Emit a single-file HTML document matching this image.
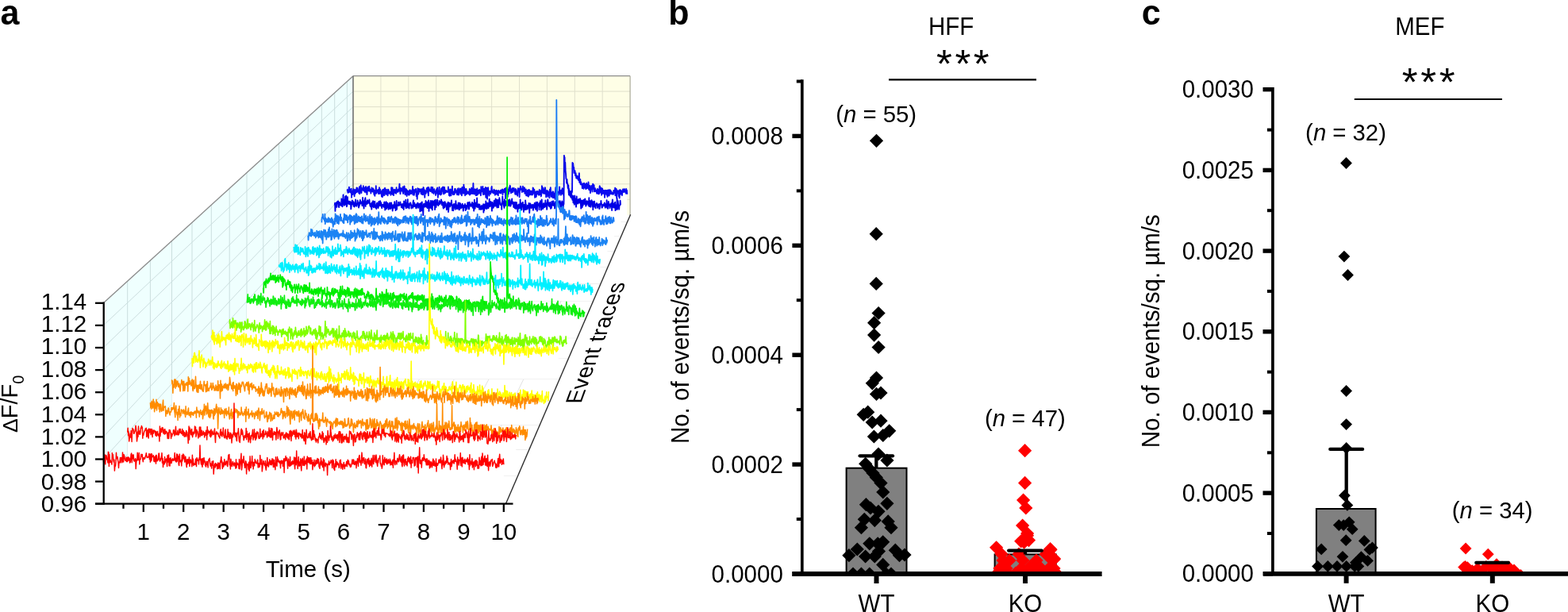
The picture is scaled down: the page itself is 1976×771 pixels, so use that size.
<!DOCTYPE html>
<html><head><meta charset="utf-8"><title>Figure</title>
<style>html,body{margin:0;padding:0;background:#fff;width:1976px;height:771px;overflow:hidden}svg{display:block}</style>
</head><body><svg width="1976" height="771" viewBox="0 0 1976 771" font-family="&quot;Liberation Sans&quot;, Arial, Helvetica, sans-serif"><g id="panel-a"><polygon points="130.3,634.7 130.3,381.8 445.0,95.7 445.0,270.7" fill="#effffe"/><polygon points="445.0,270.7 445.0,95.7 794.1,95.7 794.1,270.7" fill="#fefee6"/><line x1="160.7" y1="599.5" x2="160.7" y2="354.1" stroke="#cbdede" stroke-width="1"/><line x1="189.4" y1="566.3" x2="189.4" y2="328.1" stroke="#cbdede" stroke-width="1"/><line x1="216.5" y1="535.0" x2="216.5" y2="303.5" stroke="#cbdede" stroke-width="1"/><line x1="242.0" y1="505.5" x2="242.0" y2="280.2" stroke="#cbdede" stroke-width="1"/><line x1="266.3" y1="477.4" x2="266.3" y2="258.2" stroke="#cbdede" stroke-width="1"/><line x1="289.2" y1="450.9" x2="289.2" y2="237.3" stroke="#cbdede" stroke-width="1"/><line x1="311.0" y1="425.7" x2="311.0" y2="217.5" stroke="#cbdede" stroke-width="1"/><line x1="331.8" y1="401.7" x2="331.8" y2="198.7" stroke="#cbdede" stroke-width="1"/><line x1="351.5" y1="378.9" x2="351.5" y2="180.7" stroke="#cbdede" stroke-width="1"/><line x1="370.3" y1="357.1" x2="370.3" y2="163.6" stroke="#cbdede" stroke-width="1"/><line x1="388.2" y1="336.4" x2="388.2" y2="147.3" stroke="#cbdede" stroke-width="1"/><line x1="405.4" y1="316.6" x2="405.4" y2="131.7" stroke="#cbdede" stroke-width="1"/><line x1="421.7" y1="297.6" x2="421.7" y2="116.9" stroke="#cbdede" stroke-width="1"/><line x1="437.4" y1="279.5" x2="437.4" y2="102.6" stroke="#cbdede" stroke-width="1"/><line x1="130.3" y1="606.6" x2="445.0" y2="251.3" stroke="#cbdede" stroke-width="1"/><line x1="130.3" y1="578.5" x2="445.0" y2="231.8" stroke="#cbdede" stroke-width="1"/><line x1="130.3" y1="550.4" x2="445.0" y2="212.4" stroke="#cbdede" stroke-width="1"/><line x1="130.3" y1="522.3" x2="445.0" y2="192.9" stroke="#cbdede" stroke-width="1"/><line x1="130.3" y1="494.2" x2="445.0" y2="173.5" stroke="#cbdede" stroke-width="1"/><line x1="130.3" y1="466.1" x2="445.0" y2="154.0" stroke="#cbdede" stroke-width="1"/><line x1="130.3" y1="438.0" x2="445.0" y2="134.6" stroke="#cbdede" stroke-width="1"/><line x1="130.3" y1="409.9" x2="445.0" y2="115.1" stroke="#cbdede" stroke-width="1"/><line x1="479.9" y1="270.7" x2="479.9" y2="95.7" stroke="#e0e0cc" stroke-width="1"/><line x1="514.8" y1="270.7" x2="514.8" y2="95.7" stroke="#e0e0cc" stroke-width="1"/><line x1="549.7" y1="270.7" x2="549.7" y2="95.7" stroke="#e0e0cc" stroke-width="1"/><line x1="584.7" y1="270.7" x2="584.7" y2="95.7" stroke="#e0e0cc" stroke-width="1"/><line x1="619.6" y1="270.7" x2="619.6" y2="95.7" stroke="#e0e0cc" stroke-width="1"/><line x1="654.5" y1="270.7" x2="654.5" y2="95.7" stroke="#e0e0cc" stroke-width="1"/><line x1="689.4" y1="270.7" x2="689.4" y2="95.7" stroke="#e0e0cc" stroke-width="1"/><line x1="724.3" y1="270.7" x2="724.3" y2="95.7" stroke="#e0e0cc" stroke-width="1"/><line x1="759.2" y1="270.7" x2="759.2" y2="95.7" stroke="#e0e0cc" stroke-width="1"/><line x1="445.0" y1="251.3" x2="794.1" y2="251.3" stroke="#e0e0cc" stroke-width="1"/><line x1="445.0" y1="231.8" x2="794.1" y2="231.8" stroke="#e0e0cc" stroke-width="1"/><line x1="445.0" y1="212.4" x2="794.1" y2="212.4" stroke="#e0e0cc" stroke-width="1"/><line x1="445.0" y1="192.9" x2="794.1" y2="192.9" stroke="#e0e0cc" stroke-width="1"/><line x1="445.0" y1="173.5" x2="794.1" y2="173.5" stroke="#e0e0cc" stroke-width="1"/><line x1="445.0" y1="154.0" x2="794.1" y2="154.0" stroke="#e0e0cc" stroke-width="1"/><line x1="445.0" y1="134.6" x2="794.1" y2="134.6" stroke="#e0e0cc" stroke-width="1"/><line x1="445.0" y1="115.1" x2="794.1" y2="115.1" stroke="#e0e0cc" stroke-width="1"/><line x1="160.7" y1="599.5" x2="650.2" y2="599.5" stroke="#e2e2e2" stroke-width="1"/><line x1="189.4" y1="566.3" x2="664.7" y2="566.3" stroke="#e2e2e2" stroke-width="1"/><line x1="216.5" y1="535.0" x2="678.4" y2="535.0" stroke="#e2e2e2" stroke-width="1"/><line x1="242.0" y1="505.5" x2="691.4" y2="505.5" stroke="#e2e2e2" stroke-width="1"/><line x1="266.3" y1="477.4" x2="703.6" y2="477.4" stroke="#e2e2e2" stroke-width="1"/><line x1="289.2" y1="450.9" x2="715.2" y2="450.9" stroke="#e2e2e2" stroke-width="1"/><line x1="311.0" y1="425.7" x2="726.3" y2="425.7" stroke="#e2e2e2" stroke-width="1"/><line x1="331.8" y1="401.7" x2="736.8" y2="401.7" stroke="#e2e2e2" stroke-width="1"/><line x1="351.5" y1="378.9" x2="746.8" y2="378.9" stroke="#e2e2e2" stroke-width="1"/><line x1="370.3" y1="357.1" x2="756.3" y2="357.1" stroke="#e2e2e2" stroke-width="1"/><line x1="388.2" y1="336.4" x2="765.4" y2="336.4" stroke="#e2e2e2" stroke-width="1"/><line x1="405.4" y1="316.6" x2="774.0" y2="316.6" stroke="#e2e2e2" stroke-width="1"/><line x1="421.7" y1="297.6" x2="782.3" y2="297.6" stroke="#e2e2e2" stroke-width="1"/><line x1="437.4" y1="279.5" x2="790.3" y2="279.5" stroke="#e2e2e2" stroke-width="1"/><line x1="180.8" y1="634.7" x2="479.9" y2="270.7" stroke="#e2e2e2" stroke-width="1"/><line x1="231.2" y1="634.7" x2="514.8" y2="270.7" stroke="#e2e2e2" stroke-width="1"/><line x1="281.7" y1="634.7" x2="549.7" y2="270.7" stroke="#e2e2e2" stroke-width="1"/><line x1="332.1" y1="634.7" x2="584.7" y2="270.7" stroke="#e2e2e2" stroke-width="1"/><line x1="382.5" y1="634.7" x2="619.6" y2="270.7" stroke="#e2e2e2" stroke-width="1"/><line x1="433.0" y1="634.7" x2="654.5" y2="270.7" stroke="#e2e2e2" stroke-width="1"/><line x1="483.5" y1="634.7" x2="689.4" y2="270.7" stroke="#e2e2e2" stroke-width="1"/><line x1="533.9" y1="634.7" x2="724.3" y2="270.7" stroke="#e2e2e2" stroke-width="1"/><line x1="584.4" y1="634.7" x2="759.2" y2="270.7" stroke="#e2e2e2" stroke-width="1"/><line x1="130.3" y1="381.8" x2="445.0" y2="95.7" stroke="#8a8a8a" stroke-width="1.3"/><line x1="445.0" y1="95.7" x2="794.1" y2="95.7" stroke="#8c8c8c" stroke-width="1.2"/><line x1="445.0" y1="270.7" x2="445.0" y2="95.7" stroke="#707070" stroke-width="1.6"/><line x1="794.1" y1="270.7" x2="794.1" y2="95.7" stroke="#b0b0a0" stroke-width="1.3"/><path d="M437.4 240.0l.4 -1 .3 1.9 .4 1.9 .3 -1.6 .4 1.3 .3 -3.1 .4 -3.8 .4 5.6 .3 .6 .4 -3.5 .3 .4 .4 .9 .3 3 .4 -2.7 .3 -2.3 .4 11.2 .3 -7.7 .4 4.3 .3 -1.8 .4 1.5 .3 -5.2 .4 3.2 .3 -4.8 .4 .3 .4 1.3 .3 7.3 .4 -6.2 .3 -1.5 .4 -.5 .3 4.7 .4 -3.2 .3 1.8 .4 -.6 .3 -5.3 .4 5.7 .3 -2.6 .4 -2.7 .3 4.6 .4 -1.3 .4 -.7 .3 .3 .4 3.7 .3 -3.9 .4 -4.3 .3 9 .4 -7.3 .3 2.2 .4 2.2 .3 -7.9 .4 3.8 .3 5.9 .4 -4 .3 -1.7 .4 2.3 .4 -2.7 .3 2.2 .4 -2.3 .3 -2.6 .4 6.1 .3 -2.5 .4 -1.4 .3 1.5 .4 3.9 .3 -1.7 .4 -1.5 .3 -3.1 .4 -.5 .3 7.5 .4 -1.4 .3 -4.2 .4 8.1 .4 -4.4 .3 -1 .4 -4.3 .3 1.6 .4 1.2 .3 2.3 .4 -.6 .3 -5.2 .4 6 .3 -.2 .4 -2 .3 1.6 .4 .4 .3 3.1 .4 -3.4 .4 1.2 .3 -4.9 .4 1.5 .3 2.3 .4 -1.9 .3 3.2 .4 -4.2 .3 3.1 .4 -1.6 .3 5.9 .4 -5 .3 5.9 .4 1.1 .3 -5.2 .4 2 .4 -3.3 .3 -6.1 .4 9.5 .3 -.4 .4 -2.6 .3 -.8 .4 1.7 .3 .2 .4 -2.8 .3 .7 .4 4.5 .3 -2.9 .4 -.5 .3 -4.5 .4 4.1 .3 3.6 .4 -5.6 .4 2.3 .3 .4 .4 2.2 .3 -1.4 .4 5.6 .3 -2.5 .4 -4.8 .3 7.9 .4 -9.1 .3 7.7 .4 -7.9 .3 4.7 .4 -4.8 .3 2 .4 5.3 .4 -8.6 .3 -.6 .4 4.7 .3 .8 .4 -.1 .3 2.7 .4 -6.3 .3 5.2 .4 -1.3 .3 2.2 .4 -.6 .3 2.3 .4 -7.6 .3 4.1 .4 -3.8 .4 2.6 .3 2.2 .4 -1.1 .3 .6 .4 -1.8 .3 1.2 .4 -.4 .3 3.3 .4 -1.9 .3 -7.7 .4 6.7 .3 1.3 .4 -4.4 .3 -3.2 .4 8.6 .3 -3.8 .4 1.2 .4 3.6 .3 -7.2 .4 2.5 .3 -.5 .4 2 .3 -3.9 .4 2.7 .3 -1.1 .4 2.9 .3 .3 .4 -7.7 .3 5.7 .4 -2.2 .3 .9 .4 1.3 .4 .1 .3 -3.3 .4 2.6 .3 -.6 .4 -.7 .3 -3.7 .4 -4.5 .3 7.4 .4 2.8 .3 2.5 .4 -7.1 .3 -.4 .4 3.6 .3 -2.1 .4 -.7 .4 0 .3 -.4 .4 4.3 .3 -6.1 .4 8.4 .3 -6.3 .4 1.1 .3 -1.3 .4 -2.9 .3 1.2 .4 7.8 .3 1.7 .4 -7.3 .3 5.8 .4 -2.9 .3 -2.7 .4 7.6 .4 1.3 .3 -7.3 .4 3.2 .3 -1.1 .4 -.9 .3 2.7 .4 1.9 .3 -4.2 .4 2.4 .3 2 .4 -6.3 .3 1.6 .4 -1.5 .3 4.2 .4 -.7 .4 1.1 .3 -.3 .4 -3.5 .3 3 .4 -3.4 .3 0 .4 -5 .3 10.5 .4 -7 .3 3.1 .4 0 .3 4.4 .4 -3.1 .3 -3.5 .4 2.3 .4 -.8 .3 1.1 .4 -4 .3 2.8 .4 6.4 .3 -4.8 .4 4.1 .3 4.4 .4 -8.1 .3 -5.6 .4 3.8 .3 3.8 .4 -.5 .3 -6.3 .4 2.9 .4 .5 .3 .2 .4 -.6 .3 -2.6 .4 .6 .3 1.2 .4 4 .3 -4.4 .4 3.8 .3 -5.5 .4 7.1 .3 -3.6 .4 -.4 .3 4.1 .4 -9.2 .3 .4 .4 5.9 .4 -3.7 .3 1.4 .4 8.8 .3 -8.9 .4 .9 .3 -.2 .4 3.3 .3 -2.2 .4 -.2 .3 -4.2 .4 2.6 .3 1 .4 -4.6 .3 6.3 .4 -.6 .4 4.3 .3 -10.3 .4 1.8 .3 .2 .4 .7 .3 1.7 .4 -.6 .3 1.3 .4 -.2 .3 -.9 .4 -4.3 .3 3.1 .4 2 .3 1.6 .4 .3 .4 -6.8 .3 3.2 .4 1.3 .3 1.3 .4 2.4 .3 -3.1 .4 -2.8 .3 3.9 .4 -.6 .3 0 .4 -.8 .3 5.3 .4 -4.2 .3 1.7 .4 -5 .3 5.1 .4 -4.2 .4 -3 .3 5.7 .4 6.6 .3 -8.2 .4 1.2 .3 3.1 .4 -4.3 .3 -4.9 .4 6.8 .3 -.3 .4 2.7 .3 -4.2 .4 4.9 .3 -.6 .4 -7.3 .4 6.7 .3 -6.4 .4 -1.4 .3 3.9 .4 -.6 .3 -4.3 .4 6.3 .3 .9 .4 1.8 .3 -4.3 .4 -4.4 .3 1.6 .4 5.9 .3 -.2 .4 -1 .4 -2.1 .3 1.8 .4 -1.2 .3 -.3 .4 1.7 .3 -.4 .4 -.7 .3 .9 .4 -1.9 .3 -4.4 .4 3.6 .3 1.8 .4 5.2 .3 -6.3 .4 7 .3 -2.7 .4 -5.7 .4 .5 .3 2.7 .4 4.8 .3 -4 .4 1.1 .3 -3.9 .4 -5 .3 6 .4 3.1 .3 1.3 .4 -3.2 .3 .5 .4 2.8 .3 -3.9 .4 3.6 .4 -6.9 .3 0 .4 0 .3 4.6 .4 -2.9 .3 1.8 .4 .8 .3 -.3 .4 2.9 .3 .5 .4 -7 .3 2.9 .4 -1.4 .3 -2.5 .4 8.3 .4 -3 .3 -3.1 .4 -.3 .3 2.5 .4 -4.3 .3 2.6 .4 4.5 .3 -1.1 .4 -5.5 .3 .9 .4 7.5 .3 -10 .4 2.3 .3 -2.6 .4 5.5 .3 -.1 .4 2.5 .4 -11.3 .3 8.3 .4 -5 .3 7 .4 -2.6 .3 5.9 .4 -3.9 .3 -4 .4 6.7 .3 -7 .4 2.3 .3 4.1 .4 -1.7 .3 0 .4 -1.3 .4 1.4 .3 .9 .4 -2 .3 2 .4 .9 .3 -3.8 .4 -2.8 .3 7.6 .4 -4.5 .3 2 .4 1.2 .3 -5.5 .4 3.5 .3 -5.5 .4 7 .4 -3.4 .3 2 .4 1.6 .3 -4.3 .4 -8.7 .3 8.4 .4 2.1 .3 3 .4 -3 .3 -.5 .4 -2.7 .3 5.8 .4 -3 .3 4.9 .4 -7.2 .3 5.2 .4 2.1 .4 -5.1 .3 -3.6 .4 8.1 .3 -1.3 .4 -.9 .3 .9 .4 -4.6 .3 3.7 .4 -.4 .3 -4 .4 4.1 .3 -3.6 .4 4.3 .3 .5 .4 2 .4 -11.1 .3 6.7 .4 -1.7 .3 .6 .4 0 .3 .2 .4 -5.9 .3 8.8 .4 1.4 .3 -1.6 .4 1 .3 -7 .4 .3 .3 5.4 .4 1.5 .4 -3.4 .3 -5.4 .4 12.8 .3 -10.2 .4 4.9 .3 -6.7 .4 6.5 .3 7.3 .4 -5.7 .3 -1.7 .4 -7 .3 1.9 .4 3.7 .3 1.4 .4 3.4 .4 -4.5 .3 -1.2 .4 .2 .3 0 .4 3.1 .3 -3.1 .4 -.3 .3 -4.1 .4 -1.7 .3 5.9 .4 1.7 .3 -2.3 .4 1.8 .3 .4 .4 -1.9 .3 3 .4 -4.9 .4 2.2 .3 -1.2 .4 1.3 .3 4.7 .4 -2.1 .3 -2.2 .4 .9 .3 -2.7 .4 .9 .3 4.3 .4 -4.3 .3 4.2 .4 -2.6 .3 -.9 .4 5.1 .4 -6.3 .3 .1 .4 1.1 .3 .4 .4 -.1 .3 1.6 .4 -2.2 .3 .6 .4 -1.8 .3 3.9 .4 -4.2 .3 .6 .4 .7 .3 .8 .4 -3 .4 6.8 .3 -6.2 .4 .7 .3 -.4 .4 -.2 .3 3 .4 -1.3 .3 -3.2 .4 .7 .3 .7 .4 11 .3 -11.7 .4 -2 .3 .6 .4 2.4 .3 5.3 .4 -7.8 .4 7.2 .3 3.7 .4 -9.1 .3 5.9 .4 -.5 .3 -2.2 .4 -5.7 .3 4.9 .4 -2.6 .3 -4.7 .4 .6 .3 5.1 .4 .5 .3 3.3 .4 -1.5 .4 -3.5 .3 .2 .4 .9 .3 -2.5 .4 5.5 .3 -2.2 .4 -2.3 .3 .6 .4 -1.6 .3 1.9 .4 2.2 .3 -2.1 .4 4.4 .3 1.6 .4 -6.9 .4 1.9 .3 -1.1 .4 6.1 .3 -3.8 .4 .7 .3 .8 .4 4.1 .3 -5.8 .4 -3.8 .3 3.3 .4 1.5 .3 -1.9 .4 -2.4 .3 10.7 .4 -7.9 .3 -2 .4 -1.8 .4 -1.9 .3 1.9 .4 2.4 .3 0 .4 -1 .3 4 .4 -1.5 .3 -2.6 .4 -3.1 .3 6.5 .4 -.2 .3 -.9 .4 -3.7 .3 4.6 .4 -4.6 .4 7.4 .3 -2.3 .4 .2 .3 -2.9 .4 -.4 .3 7.8 .4 -1.7 .3 -3.7 .4 3.3 .3 2.5 .4 -7 .3 .9 .4 -.1 .3 7.1 .4 -8.6 .4 3.9 .3 -3.7 .4 6.4 .3 -.1 .4 -3.4 .3 2.8 .4 -4.4 .3 1.1 .4 3.7 .3 -3 .4 1.7 .3 -3.4 .4 4.9 .3 -.4 .4 -8.6 .3 .4 .4 .8 .4 5.8 .3 -.6 .4 -4 .3 5 .4 4.9 .3 -5.8 .4 -1.2 .3 3.7 .4 2.6 .3 -.6 .4 -6.5 .3 4.1 .4 -1.7 .3 -1.5 .4 -.9 .4 3.1 .3 -2.6 .4 4 .3 -1.5 .4 1.8 .3 -6.8 .4 3.7 .3 2.3 .4 -1.4 .3 -.3 .4 -3.1 .3 7.2 .4 -1.9 .3 -2.2 .4 -9 .4 4.8 .3 3.5 .4 -2.6 .3 -3.6 .4 6.9 .3 .4 .4 -4.9 .3 2.1 .4 -.6 .3 3.5 .4 -7.7 .3 .9 .4 3.4 .3 -.5 .4 8.4 .3 -7.9 .4 2.2 .4 -1.9 .3 -.6 .4 3.4 .3 4.2 .4 -6.4 .3 3.3 .4 -1.3 .3 .8 .4 -.8 .3 5.9 .4 -10.4 .3 2.9 .4 -2.6 .3 -2.8 .4 5.9 .4 5.6 .3 -2.7 .4 .8 .3 -2 .4 -1.8 .3 6.4 .4 -7.2 .3 8 .4 -7.6 .3 1.4 .4 .7 .3 5.1 .4 -4.7 .3 0 .4 6.7 .4 -8.7 .3 -5.9 .4 -.5 .3 2.2 .4 2.1 .3 4 .4 -6.6 .3 4.6 .4 -.2 .3 .7 .4 -.9 .3 1.6 .4 -1 .3 3.2 .4 -2 .3 -8.1 .4 7.3 .4 .5 .3 -2.3 .4 -.7 .3 5.6 .4 -2.8 .3 -3.6 .4 2 .3 .3 .4 -4.5 .3 7 .4 -2.1 .3 2.2 .4 -6.4 .3 8 .4 -1.1 .4 -.1 .3 -3.6 .4 .2 .3 -2.5 .4 8.8 .3 -7.4 .4 3.3 .3 1 .4 -3.7 .3 4.5 .4 3.6 .3 -5 .4 3.3 .3 -2.6 .4 -3 .4 .1 .3 -3.9 .4 5.6 .3 4.2 .4 -2.3 .3 .2 .4 .6 .3 -4.9 .4 3.4 .3 4.1 .4 -8 .3 2.1 .4 -1.1 .3 .4 .4 -37.1 .4 2.8 .3 -2.2 .4 3.6 .3 1.2 .4 .7 .3 6.8 .4 -3.2 .3 1 .4 -.5 .3 5.8 .4 -1.2 .3 -1.6 .4 4.5 .3 2 .4 -3.4 .3 .1 .4 2.8 .4 -1.8 .3 3 .4 -2.9 .3 4.4 .4 -1.7 .3 -2.8 .4 -4.2 .3 11.5 .4 -1.1 .3 1.8 .4 -4.4 .3 6.3 .4 -1.8 .3 -1.1 .4 3.2 .4 .3 .3 -1.1 .4 5.3 .3 -1.3 .4 -3.4 .3 -1.2 .4 1.4 .3 5.3 .4 -3.7 .3 -3.4 .4 1 .3 2.1 .4 2.7 .3 -4.4 .4 3.7 .4 2.4 .3 -1.2 .4 -6.4 .3 3.9 .4 -2.6 .3 5 .4 -4 .3 1.7 .4 2.5 .3 -7.8 .4 5.7 .3 3.9 .4 -1.1 .3 -1 .4 -2.9 .3 5.3 .4 3.8 .4 -4.3 .3 -.7 .4 -.3 .3 -3.8 .4 3.4 .3 -1.7 .4 5.8 .3 -5.8 .4 -4 .3 4.2 .4 1.9 .3 0 .4 -4.6 .3 8.2 .4 -2.3 .4 -1.4 .3 -.4 .4 3.9 .3 -2 .4 1.8 .3 -1.1 .4 .7 .3 3.1 .4 -3.3 .3 -2.5 .4 5.6 .3 -2 .4 -2.7 .3 5.5 .4 -3.7 .4 3.7 .3 -6.4 .4 -3.6 .3 .6 .4 7 .3 -2.7 .4 3.6 .3 -1.7 .4 -4.3 .3 8.9 .4 -7.2 .3 3.4 .4 -4.3 .3 3.7 .4 2.7 .3 -2.8 .4 -1.2 .4 2.3 .3 -1.4 .4 3.1 .3 4.8 .4 -9 .3 1 .4 1.7 .3 .4 .4 -3 .3 4.8 .4 .8 .3 -1.5 .4 -4.2 .3 8.1 .4 -7.9 .4 5.2 .3 1.2 .4 -7.1 .3 3.9 .4 3.4 .3 -2.8 .4 -3.8 .3 -.8 .4 4.9 .3 -2.7 .4 -1 .3 4 .4 -3 .3 1.3 .4 1.6 .4 .2 .3 -1.6 .4 .3 .3 1.7 .4 -.5 .3 -4.4 .4 2.8 .3 -2.1 .4 -.9 .3 1.9 .4 -5 .3 9.5 .4 -5.1 .3 3.3 .4 -6.6 .3 .8 .4 10.9 .4 -3 .3 -4.8 .4 -1.5 .3 .6 .4 2.4 .3 -1.9 .4 -.6 .3 7.1 .4 -8.3 .3 10 .4 -9.2 .3 5 .4 -6.2 .3 3.5 .4 1.7 .4 -3.9 .3 4 .4 -.1 .3 1.9 .4 -4.4 .3 -1.6 .4 -1.7 .3 3.6 .4 -3.6 .3 3.1 .4 .2 .3 -2.2 .4 -1.5 .3 3.7 .4 -.5 .4 -.3 .3 -.6 .4 3.4 .3 -5.8 .4 4.4 .3 -2.8 .4 4.2L790.3 279.5 437.4 279.5Z" fill="#fff" stroke="#0a0af0" stroke-width="1.87" stroke-linejoin="round" stroke-dasharray="3393.55 99999"/><path d="M421.7 258.6l.4 -2.8 .4 10.1 .3 -8.5 .4 1.5 .3 -3.3 .4 4.9 .4 .4 .3 -6.4 .4 .8 .4 0 .3 -1.4 .4 -.5 .3 3.4 .4 4 .4 .2 .3 -5.7 .4 -.6 .3 1.8 .4 1.9 .4 -1.6 .3 .2 .4 .9 .3 1.2 .4 -8.8 .4 5.8 .3 2.3 .4 2 .4 -2.2 .3 -4.7 .4 -8.1 .3 10.6 .4 .5 .4 0 .3 2.3 .4 -7.4 .3 2.8 .4 -6.6 .4 9.9 .3 -1.9 .4 -9 .3 9.9 .4 3.8 .4 -1.2 .3 -2.9 .4 -8.1 .3 8.5 .4 -3.1 .4 -.1 .3 2.2 .4 1.1 .4 .7 .3 -2.5 .4 -1.3 .3 2.7 .4 -1.8 .4 2.7 .3 6.2 .4 -3.4 .3 -5.4 .4 1.2 .4 -3.4 .3 5 .4 -2.4 .3 -1.5 .4 1.2 .4 5.1 .3 -1.5 .4 -1.2 .4 3.5 .3 -4.4 .4 -1.9 .3 4.9 .4 -7.7 .4 7.1 .3 -.4 .4 0 .3 1.7 .4 -3.6 .4 1.1 .3 -5 .4 3 .3 .1 .4 2.4 .4 3.7 .3 -4 .4 2.1 .3 -5.4 .4 3.1 .4 -5.5 .3 2.8 .4 -.4 .4 2.1 .3 .1 .4 -1.4 .3 -.9 .4 4.9 .4 -3.7 .3 -6.4 .4 8.4 .3 .7 .4 1.2 .4 3.4 .3 -9.6 .4 3.4 .3 -.6 .4 -4.8 .4 -2 .3 10.8 .4 -6.1 .3 1.5 .4 .7 .4 -.3 .3 1.4 .4 -4.9 .4 2.9 .3 .9 .4 -2.9 .3 1 .4 1.6 .4 .1 .3 -4.3 .4 3.8 .3 2 .4 2.3 .4 -1.6 .3 2.6 .4 -3.8 .3 -.5 .4 7.4 .4 -6.6 .3 -2.1 .4 1.4 .4 3.6 .3 -6.8 .4 6.4 .3 1.8 .4 -.7 .4 -3.3 .3 -3.3 .4 -.3 .3 3.3 .4 4.4 .4 -1.7 .3 .7 .4 -2.2 .3 4.8 .4 -6 .4 -1.5 .3 2.5 .4 -2 .3 4.2 .4 1.7 .4 -2.4 .3 -5.6 .4 .5 .4 4.8 .3 -5.3 .4 4.8 .3 -5.7 .4 3.1 .4 2.9 .3 -3.9 .4 5.3 .3 .4 .4 1.2 .4 -4.5 .3 1 .4 -.1 .3 1.1 .4 -1.8 .4 2.2 .3 .9 .4 -6 .4 -.5 .3 3.5 .4 6.7 .3 -3.5 .4 -3.8 .4 1.8 .3 -5 .4 8.9 .3 -6.1 .4 4.3 .4 -5.6 .3 4.2 .4 -3.4 .3 5.2 .4 2.2 .4 -.7 .3 -1.9 .4 1.4 .3 -6.8 .4 -.4 .4 3.4 .3 4.4 .4 -2.9 .4 1.7 .3 -6.7 .4 3.4 .3 -.6 .4 2.9 .4 4.7 .3 -4 .4 1.1 .3 -4.7 .4 .6 .4 2.9 .3 -1.3 .4 -6.2 .3 7.8 .4 .1 .4 -2.2 .3 5.4 .4 -3.9 .3 -4.5 .4 -3.8 .4 10.8 .3 -5.4 .4 0 .4 .3 .3 -.2 .4 .2 .3 -4.1 .4 4.5 .4 -1.2 .3 -.3 .4 -.3 .3 .9 .4 -3.8 .4 3.3 .3 -.3 .4 .5 .3 3.1 .4 -.7 .4 -3.2 .3 .2 .4 4.8 .4 -.8 .3 -4.2 .4 -.5 .3 7.4 .4 -10.7 .4 4.9 .3 .5 .4 -3.6 .3 2.9 .4 2.2 .4 -8.5 .3 10.4 .4 -3.1 .3 -3.2 .4 6.1 .4 -3.2 .3 -1.4 .4 -6.2 .3 10.2 .4 -2.7 .4 -2.1 .3 1.8 .4 4.3 .4 -4.8 .3 .8 .4 -1.1 .3 -2.2 .4 .4 .4 2.1 .3 .2 .4 4.5 .3 -3.1 .4 -.8 .4 1.8 .3 -1.4 .4 2.9 .3 -7.6 .4 -1.9 .4 7.8 .3 -2.2 .4 2.2 .3 -4.5 .4 2.6 .4 .9 .3 1.1 .4 -1 .4 3.2 .3 -5.1 .4 4.5 .3 -4.3 .4 1.3 .4 -3.1 .3 3.1 .4 -3.1 .3 6.1 .4 -4.7 .4 2.8 .3 -1.4 .4 .6 .3 -2.5 .4 9.7 .4 -8 .3 5.5 .4 -8.2 .4 10 .3 -3.2 .4 2.3 .3 -10.3 .4 10.9 .4 -6.1 .3 1.9 .4 10 .3 -10.9 .4 -3.3 .4 3.2 .3 -3.5 .4 4 .3 -1.1 .4 .9 .4 -2.6 .3 -4.9 .4 5 .3 .3 .4 2.3 .4 .5 .3 -6.8 .4 7.9 .4 -.8 .3 -2.2 .4 .8 .3 -7.5 .4 13.4 .4 -8.7 .3 -1.1 .4 5.8 .3 -1.5 .4 -3.5 .4 -4.1 .3 7.8 .4 1.9 .3 -7.9 .4 -1.5 .4 5.4 .3 6 .4 -11.4 .4 5.1 .3 -4.3 .4 3.7 .3 .9 .4 .2 .4 -6 .3 .1 .4 11.3 .3 -3.5 .4 -8.9 .4 6.3 .3 3.2 .4 -4.5 .3 .6 .4 -.2 .4 -5.7 .3 6.4 .4 .3 .3 -2.5 .4 3.5 .4 -1.5 .3 -.3 .4 -4.3 .4 2.6 .3 1.6 .4 -1.8 .3 .4 .4 -2 .4 1.8 .3 -4.2 .4 1.7 .3 4.3 .4 1 .4 -4.1 .3 .9 .4 2.2 .3 4 .4 1.2 .4 -6.8 .3 -1.1 .4 .3 .3 6.3 .4 -7.1 .4 4.8 .3 -2.8 .4 0 .4 4 .3 -.4 .4 4.5 .3 -4 .4 2.8 .4 -6.9 .3 1.1 .4 -2.7 .3 12.5 .4 -4.5 .4 -5.8 .3 2.1 .4 -3.3 .3 .9 .4 4 .4 -3 .3 0 .4 1.1 .4 -3.8 .3 -2.4 .4 6.6 .3 .2 .4 5.9 .4 -6.7 .3 1 .4 5.9 .3 -7.4 .4 -.9 .4 4.4 .3 -1 .4 1.6 .3 -5.2 .4 7.1 .4 -3.7 .3 -7.1 .4 6 .3 -1.2 .4 2 .4 3.4 .3 -3.7 .4 -1.2 .4 4.3 .3 -4.5 .4 -2.7 .3 .6 .4 8.2 .4 -4.6 .3 4.4 .4 -8.4 .3 1.4 .4 -.4 .4 4.9 .3 .7 .4 -3.8 .3 -.2 .4 3.1 .4 -3.3 .3 -1.4 .4 1.5 .4 4 .3 3.5 .4 -5.4 .3 -1.5 .4 1.6 .4 .3 .3 .6 .4 -4.3 .3 2.2 .4 6 .4 -2.8 .3 -1.1 .4 -2.3 .3 3.7 .4 .7 .4 -3.1 .3 -4.8 .4 3 .3 -3.7 .4 4.9 .4 .6 .3 3.4 .4 -2.8 .4 -6.2 .3 3.6 .4 -1.2 .3 -.2 .4 2.4 .4 .6 .3 -1 .4 -1.6 .3 .3 .4 -2.7 .4 4 .3 2.8 .4 -1.5 .3 2.1 .4 -6.2 .4 9.6 .3 -5.9 .4 -8.1 .3 8.5 .4 2.6 .4 -3.4 .3 -4.1 .4 4.4 .4 -2.5 .3 1.6 .4 1.7 .3 -11 .4 9.4 .4 2.3 .3 0 .4 -2.7 .3 -.2 .4 -1 .4 2 .3 4.5 .4 -6.1 .3 2.7 .4 -.2 .4 3.6 .3 -2.9 .4 .5 .4 -2.1 .3 4.5 .4 -4.6 .3 -.1 .4 3.9 .4 -1.5 .3 .9 .4 -5.3 .3 10.6 .4 -6.5 .4 4.1 .3 -3.9 .4 -4.1 .3 4.8 .4 -2.4 .4 2.8 .3 -9 .4 3 .3 -.9 .4 7.6 .4 -.9 .3 -6.6 .4 3.9 .4 0 .3 -2 .4 4.6 .3 -6.5 .4 2.5 .4 -7.6 .3 9.3 .4 -3.8 .3 3.9 .4 -5.4 .4 -.6 .3 .7 .4 1.1 .3 3.1 .4 6.7 .4 -10.7 .3 3.5 .4 -1 .4 1 .3 3.5 .4 -3 .3 -3.8 .4 -2.5 .4 6.1 .3 .9 .4 -7.3 .3 7.2 .4 -9.2 .4 6.3 .3 2.9 .4 -5.7 .3 -2.2 .4 9.9 .4 -9.4 .3 5.5 .4 -5.6 .3 5.7 .4 3.7 .4 -6.3 .3 -1.5 .4 -4.5 .4 2.2 .3 3.3 .4 2.7 .3 .8 .4 -1 .4 1.5 .3 -1.6 .4 6.8 .3 -8.8 .4 .8 .4 -8.4 .3 5.5 .4 4.1 .3 -3.2 .4 5.6 .4 -1.7 .3 4.2 .4 -10.5 .3 2.7 .4 5.4 .4 -3.3 .3 -3.1 .4 1.3 .4 .3 .3 4.1 .4 -.5 .3 -2.2 .4 -2.5 .4 5.2 .3 .6 .4 -7.2 .3 6.5 .4 -6.2 .4 3 .3 -1.9 .4 -2.3 .3 8.4 .4 -5.4 .4 5.4 .3 -.6 .4 -4 .4 -2.4 .3 .6 .4 -2.9 .3 6.2 .4 .1 .4 -2.3 .3 3.1 .4 .5 .3 3.1 .4 -6.2 .4 6.4 .3 -4.9 .4 5.9 .3 -7.7 .4 6.6 .4 -5.7 .3 7.5 .4 -3.3 .3 -4.8 .4 6.4 .4 -2.6 .3 2 .4 6.1 .4 -8.4 .3 -.3 .4 4.8 .3 -5.6 .4 4.3 .4 .5 .3 -3.2 .4 1.8 .3 -9.2 .4 11.9 .4 -7.1 .3 -.8 .4 9.2 .3 -.6 .4 -7.1 .4 3.1 .3 -2.9 .4 -2.4 .3 4.8 .4 2 .4 5.3 .3 -8.9 .4 3.7 .4 -3.6 .3 .7 .4 5.3 .3 -11.8 .4 4.5 .4 .6 .3 6.4 .4 -2.7 .3 .2 .4 -.4 .4 2.6 .3 -4.9 .4 .7 .3 -.5 .4 2.9 .4 -5.8 .3 3.3 .4 9 .4 -6.7 .3 -1.8 .4 -3.4 .3 4.2 .4 -.7 .4 2.4 .3 -4.1 .4 3.3 .3 .1 .4 -.6 .4 -3.1 .3 3.3 .4 3.8 .3 -6.8 .4 4.3 .4 -3.5 .3 -.4 .4 -2.7 .3 .6 .4 4.9 .4 -.9 .3 3.4 .4 -9.1 .4 3.7 .3 -3.1 .4 5.1 .3 5.4 .4 -11.1 .4 4.5 .3 -.1 .4 .1 .3 -2.1 .4 .5 .4 6.5 .3 -8.4 .4 4.7 .3 -.3 .4 -7 .4 2.4 .3 4.3 .4 4.9 .4 -6.3 .3 -7.1 .4 8.1 .3 3.6 .4 -1.4 .4 1.5 .3 -4.6 .4 -1.8 .3 -.7 .4 5.4 .4 -2.6 .3 -1.4 .4 3.4 .3 -1.2 .4 -7.2 .4 5.6 .3 -2 .4 4.1 .3 -1.6 .4 5.4 .4 -5.5 .3 -3.9 .4 -3.2 .4 2.6 .3 1.5 .4 2.2 .3 2.1 .4 -1.4 .4 -2.4 .3 4.4 .4 -5.5 .3 5.7 .4 2.4 .4 -2.4 .3 2 .4 -.9 .3 -7.7 .4 4.1 .4 -1.3 .3 -2.8 .4 -.4 .3 5.5 .4 -5.5 .4 3.2 .3 .7 .4 -1.1 .4 6.2 .3 -1.7 .4 -2 .3 -4.6 .4 5.4 .4 -.9 .3 -3.6 .4 -1.4 .3 2.2 .4 -1.5 .4 5.2 .3 -.5 .4 -1.8 .3 2.2 .4 .8 .4 -6.9 .3 5.9 .4 2.7 .4 -4.6 .3 -4.2 .4 5.5 .3 -3.6 .4 5 .4 .4 .3 .7 .4 -1.7 .3 -6 .4 9.4 .4 -8.5 .3 8.5 .4 -2.6 .3 -3.3 .4 .3 .4 -61.4 .3 10.6 .4 -8.4 .3 14.1 .4 -7.6 .4 12.1 .3 1.7 .4 6.8 .4 .6 .3 4.8 .4 -4.8 .3 5.7 .4 -.5 .4 5.4 .3 1 .4 -4.1 .3 8.6 .4 3.7 .4 -5.7 .3 6 .4 -1.2 .3 -3.4 .4 6.2 .4 -4.4 .3 5.7 .4 -6.2 .4 1 .3 5.8 .4 -.1 .3 2.5 .4 -2.7 .4 -2.5 .3 8.7 .4 -7 .3 7.5 .4 -.9 .4 2.9 .3 -11.5 .4 6.6 .3 -.3 .4 2.9 .4 -5.2 .3 10.3 .4 -6.5 .3 -6.7 .4 8.3 .4 -1.4 .3 -2.3 .4 4.6 .4 -2.6 .3 -2.8 .4 -.3 .3 2.5 .4 2.3 .4 -2 .3 .8 .4 -4.4 .3 2.5 .4 3.1 .4 7 .3 -10 .4 -.1 .3 5.3 .4 3.4 .4 -2.7 .3 -6.1 .4 6.4 .3 -1.9 .4 -2 .4 -3.2 .3 3.7 .4 .3 .4 1.4 .3 -6.9 .4 1.7 .3 3.5 .4 4.2 .4 -1.6 .3 -4.4 .4 4.1 .3 -4.7 .4 1.5 .4 .2 .3 -.9 .4 .7 .3 4.2 .4 -1.5 .4 -8.1 .3 11 .4 -2.4 .4 -4.8 .3 4 .4 2 .3 1.8 .4 -5.7 .4 -1.6 .3 -1.3 .4 4.3 .3 -3.1 .4 6.6 .4 -4 .3 8.3 .4 -8.1 .3 -1.8 .4 -.7 .4 6.7 .3 -6.8 .4 5.6 .3 1.7 .4 -2.5 .4 4 .3 -4.5 .4 -1 .4 1.6 .3 -2.6 .4 2.6 .3 -1.1 .4 4.4 .4 -4.3 .3 2.7 .4 -1.3 .3 -.8 .4 -.9 .4 5.9 .3 -.2 .4 -4 .3 -2.2 .4 .5 .4 -1.5 .3 -2.7 .4 3.8 .4 1.5 .3 3.4 .4 0 .3 -1.6 .4 -2.1 .4 .2 .3 .6 .4 .6 .3 -2.4 .4 1.1 .4 -2.6 .3 2.1 .4 2.6 .3 1.5 .4 -4.5 .4 .2 .3 1.9 .4 1 .3 -8.2 .4 9.5 .4 -1.6 .3 -1.3 .4 4.2 .4 -4.1 .3 -5 .4 2.2 .3 .8 .4 .3 .4 1.3 .3 3.8 .4 -2.9 .3 1.1 .4 -1.7 .4 -2.6 .3 1.8 .4 -1.4 .3 8.5 .4 -10.1 .4 -3.5 .3 3.3 .4 4.9 .3 1.6 .4 -3.6 .4 4 .3 -5.2 .4 3.9 .4 -4.4 .3 -1.3 .4 10.6 .3 -7 .4 3.1 .4 2.5 .3 -2.3 .4 -1.4 .3 -10.2 .4 13.9 .4 -7.8 .3 -3 .4 4.5 .3 .7 .4 1.7 .4 3.9 .3 -5.2 .4 .3 .4 -.8 .3 -5.4 .4 5.7 .3 .9L782.3 297.6 421.7 297.6Z" fill="#fff" stroke="#0000e6" stroke-width="1.84" stroke-linejoin="round" stroke-dasharray="3748.35 99999"/><path d="M405.4 280.4l.3 -6.4 .4 .6 .4 -1.3 .3 -3.5 .4 5 .4 .2 .3 1.1 .4 -.5 .4 1.4 .4 1.8 .3 -9.2 .4 12.6 .4 -6.6 .3 -.7 .4 .8 .4 3.7 .3 -2.3 .4 .7 .4 2 .3 -3.6 .4 1.3 .4 .5 .3 -3.9 .4 5.7 .4 -4.7 .4 3.5 .3 -3.2 .4 1.4 .4 -.6 .3 3.8 .4 -.8 .4 .4 .3 -3.5 .4 -1.6 .4 6.1 .3 -2.3 .4 -1.9 .4 5.7 .4 3.7 .3 -6 .4 -.6 .4 2.8 .3 .7 .4 -7.3 .4 4.3 .3 2.5 .4 -12.9 .4 6.9 .3 1.5 .4 -3.3 .4 4.7 .4 -7.7 .3 9.8 .4 -.7 .4 -3.7 .3 2.2 .4 -6.8 .4 9.9 .3 -2.9 .4 -3.2 .4 -1.2 .3 -1.5 .4 2.2 .4 -5.7 .3 8.5 .4 -2 .4 -2.5 .4 3.6 .3 .2 .4 .4 .4 .4 .3 1.5 .4 -1.7 .4 2.6 .3 -5.8 .4 6.1 .4 -11.6 .3 .8 .4 1.9 .4 3.8 .4 .9 .3 -6 .4 3.6 .4 -1.2 .3 4 .4 -5.8 .4 5.9 .3 -3 .4 6 .4 -3.3 .3 -3.8 .4 2.8 .4 -.1 .4 -3.9 .3 3 .4 -4.3 .4 11.8 .3 -9.6 .4 -1.6 .4 8.5 .3 -.5 .4 -6.9 .4 6.1 .3 -1.2 .4 -4.1 .4 2.7 .3 -2.5 .4 4.3 .4 -3.8 .4 -2.4 .3 2.3 .4 8.2 .4 -8.9 .3 1.5 .4 3.3 .4 -7.4 .3 10.1 .4 -11.5 .4 8.2 .3 -7 .4 5.5 .4 4.2 .4 -4.5 .3 -.7 .4 -.7 .4 -1.7 .3 6.1 .4 -4.4 .4 -.6 .3 3.4 .4 2.1 .4 .1 .3 -5.3 .4 -.1 .4 5.3 .4 1.4 .3 -8.2 .4 8.6 .4 -5.3 .3 3 .4 3.1 .4 -5.8 .3 1.2 .4 -5.3 .4 -2.5 .3 7.7 .4 -3.8 .4 .1 .3 4.7 .4 1 .4 -7.7 .4 6.5 .3 -1.2 .4 .6 .4 -.5 .3 1.5 .4 -4.4 .4 -1.2 .3 5.2 .4 3.8 .4 -4.3 .3 5 .4 -2.7 .4 -6 .4 -3.2 .3 6 .4 4.6 .4 -5.6 .3 9.3 .4 -5.1 .4 -6.8 .3 2.5 .4 6.7 .4 .8 .3 -8 .4 2.9 .4 1.4 .4 -3.1 .3 3 .4 4.3 .4 -8.8 .3 4.7 .4 1.3 .4 .8 .3 -4.9 .4 3.4 .4 -4.6 .3 2.7 .4 -4.4 .4 4.6 .3 1 .4 4.1 .4 -2.9 .4 -5.6 .3 -7.5 .4 13.9 .4 -.7 .3 -4.2 .4 -.6 .4 3.6 .3 -2.5 .4 5.5 .4 -4.3 .3 -3.8 .4 -2 .4 6 .4 .4 .3 -1.9 .4 -2.3 .4 1.9 .3 4.2 .4 -3.6 .4 -2.1 .3 5.2 .4 1.8 .4 -5.7 .3 .7 .4 .7 .4 .2 .4 2.1 .3 -1 .4 1.9 .4 1.5 .3 -3 .4 -.2 .4 -5 .3 7.6 .4 -3.9 .4 1.9 .3 -6.4 .4 2.5 .4 3.4 .3 -3.7 .4 2.5 .4 1.8 .4 -6 .3 2.6 .4 -3.5 .4 1.8 .3 1 .4 1.9 .4 3.7 .3 -5.5 .4 2 .4 -2 .3 2.2 .4 2.2 .4 .9 .4 -5.4 .3 -1.9 .4 5.2 .4 -2.2 .3 -3.1 .4 7.3 .4 -1.5 .3 2.7 .4 -7.2 .4 3.3 .3 2.5 .4 3.8 .4 -4.8 .4 -3.8 .3 4 .4 .3 .4 -3.5 .3 5.9 .4 -4 .4 -1.6 .3 4.1 .4 0 .4 -3.5 .3 1 .4 .3 .4 -1.4 .3 -.3 .4 3.6 .4 -.9 .4 -4.1 .3 -1.9 .4 -.6 .4 7.1 .3 -6 .4 -1.6 .4 5.2 .3 -1.8 .4 -1 .4 -3 .3 8.8 .4 -5.1 .4 2.5 .4 -.2 .3 -4 .4 .9 .4 5.9 .3 -2.2 .4 -1.8 .4 5 .3 -7 .4 2.9 .4 -.1 .3 -.4 .4 -4.6 .4 5.7 .4 1.3 .3 -6.5 .4 6.7 .4 0 .3 2.7 .4 -7.8 .4 2.4 .3 -.7 .4 -2.3 .4 4 .3 2.1 .4 0 .4 -3.9 .3 1.1 .4 -4.6 .4 7.7 .4 -.8 .3 1.5 .4 -7.8 .4 8.1 .3 -6.3 .4 -2.3 .4 4.9 .3 -2.7 .4 8.9 .4 -5.4 .3 4 .4 -6.3 .4 .6 .4 -1.7 .3 -1.1 .4 1.8 .4 -2.8 .3 5.2 .4 2.7 .4 -4 .3 -7.1 .4 8.9 .4 -3.3 .3 3 .4 -3.9 .4 1.3 .4 2.4 .3 4.8 .4 -4 .4 -5 .3 4.6 .4 -2.6 .4 3.7 .3 12.1 .4 -15.2 .4 .5 .3 2.7 .4 -.8 .4 -1.9 .3 2.4 .4 -3 .4 1.6 .4 6.8 .3 -7 .4 1.4 .4 .8 .3 -4 .4 2.7 .4 -3.3 .3 -1.6 .4 4.9 .4 3.2 .3 -2.6 .4 -5.2 .4 3.6 .4 1.7 .3 -1.9 .4 -1.7 .4 .6 .3 -1.3 .4 4.3 .4 -1.6 .3 .6 .4 -1.4 .4 6.5 .3 -5.6 .4 4.1 .4 -8.8 .4 -.3 .3 -.1 .4 2.5 .4 3.9 .3 -4.1 .4 3.7 .4 -2.7 .3 4.8 .4 -1.1 .4 -3.5 .3 -4.2 .4 5.6 .4 -7.1 .3 -1.2 .4 15.6 .4 -6.4 .4 2.8 .3 -2.3 .4 1.4 .4 -6 .3 1.5 .4 -.1 .4 2.1 .3 1 .4 -.4 .4 -.3 .3 -1.4 .4 1.8 .4 -1.5 .4 5.7 .3 -6.7 .4 -3.3 .4 1.2 .3 8.4 .4 -8.8 .4 5.4 .3 8.4 .4 -8.7 .4 -2.8 .3 .5 .4 -2.5 .4 1.6 .4 1.7 .3 6.5 .4 -3 .4 -3.5 .3 -1.5 .4 5.3 .4 -.9 .3 -3.3 .4 7.7 .4 .3 .3 -5.4 .4 -1.4 .4 2.2 .3 6.2 .4 -7.5 .4 4.1 .4 -6.6 .3 2.3 .4 -1.3 .4 -1.3 .3 3.8 .4 -4.2 .4 -1.6 .3 2.7 .4 -3 .4 5.6 .3 -4.8 .4 2.1 .4 3.8 .4 -2.7 .3 1.3 .4 .2 .4 -2 .3 -3.1 .4 -1.4 .4 4.2 .3 4.8 .4 -4.9 .4 -3.4 .3 1 .4 1.3 .4 3.4 .4 .8 .3 -2.8 .4 4.1 .4 -.6 .3 -7.2 .4 5.9 .4 -8.4 .3 10 .4 -5.9 .4 4.9 .3 -2.6 .4 2.3 .4 -3.1 .3 .3 .4 1 .4 -3.1 .4 -2.9 .3 6.8 .4 -3.3 .4 1.3 .3 .4 .4 -6.6 .4 13.9 .3 -4.5 .4 3.5 .4 -4.4 .3 -.2 .4 -12.4 .4 10.6 .4 -4.6 .3 1.5 .4 5.5 .4 -3.1 .3 -3.8 .4 4.8 .4 0 .3 -1.2 .4 6.6 .4 -2.2 .3 -3.7 .4 -.5 .4 4.4 .4 -1.7 .3 -.3 .4 -.2 .4 -2.6 .3 1.6 .4 -.2 .4 5.1 .3 -5.6 .4 -.3 .4 6 .3 -6 .4 .7 .4 3.1 .3 -4.6 .4 -1.9 .4 6.8 .4 -.7 .3 -2.3 .4 -8.2 .4 15.5 .3 -6.5 .4 .7 .4 -3.5 .3 4.1 .4 6.5 .4 -13.7 .3 9.3 .4 -3.3 .4 4 .4 -1 .3 -1.9 .4 -4.3 .4 0 .3 4.5 .4 -3.1 .4 2.9 .3 -1.7 .4 -.1 .4 -1.2 .3 4.1 .4 -1.3 .4 -.8 .4 .5 .3 3 .4 -8.1 .4 6.9 .3 -3.8 .4 1.6 .4 -3.4 .3 10.6 .4 -13.3 .4 7.5 .3 3.5 .4 -4.4 .4 -6.9 .3 5.4 .4 5.4 .4 -5.8 .4 -2.2 .3 8.2 .4 -4.2 .4 .4 .3 -7.9 .4 7.7 .4 -5.1 .3 6.1 .4 .8 .4 -5.5 .3 1.1 .4 7.5 .4 -7.5 .4 .1 .3 3.8 .4 -2.6 .4 -.1 .3 2.5 .4 .1 .4 .3 .3 -1.3 .4 3.2 .4 -4.3 .3 4.6 .4 -5.3 .4 .5 .4 3.1 .3 -6.2 .4 -3.3 .4 2.1 .3 8.7 .4 -8.3 .4 3.6 .3 1.1 .4 1.6 .4 -2 .3 -4.7 .4 2.9 .4 3.3 .3 .8 .4 -1 .4 -3.1 .4 -1.8 .3 6.9 .4 -3.1 .4 1.2 .3 1.4 .4 -3.5 .4 -.4 .3 6.1 .4 -1.2 .4 -6.9 .3 2.9 .4 -1.1 .4 3.4 .4 -.5 .3 -2.8 .4 2.8 .4 2 .3 -3.6 .4 -2.6 .4 6.1 .3 -6.8 .4 5.3 .4 1 .3 -3 .4 .6 .4 -1.9 .4 -.2 .3 6.3 .4 .1 .4 -7.5 .3 2.6 .4 -1.3 .4 -.3 .3 -3.8 .4 8.5 .4 -6.9 .3 6.2 .4 -4.8 .4 -2.1 .3 8.3 .4 -5.4 .4 2.2 .4 .1 .3 -1.1 .4 3.4 .4 -.3 .3 -5.3 .4 -.4 .4 4.3 .3 2.9 .4 -11.8 .4 3.6 .3 2.4 .4 4.5 .4 -1.1 .4 -2.6 .3 3.9 .4 -8.1 .4 4.8 .3 -.8 .4 4.3 .4 -.4 .3 -.2 .4 -3.4 .4 1.7 .3 .3 .4 -2.1 .4 .2 .4 -3.9 .3 5.2 .4 2.5 .4 -3.3 .3 -4.4 .4 6.4 .4 -1.8 .3 1.3 .4 -2.9 .4 .6 .3 3.5 .4 -1.9 .4 -3.8 .3 -.4 .4 .5 .4 .1 .4 3.6 .3 -.2 .4 -3.9 .4 6.8 .3 -3.3 .4 6 .4 -4.8 .3 1.1 .4 12.5 .4 -16.8 .3 4.1 .4 -1.2 .4 -.4 .4 1.7 .3 -8.7 .4 7.8 .4 -2.3 .3 4.3 .4 -2.5 .4 -.3 .3 -.5 .4 .7 .4 -2 .3 -4.3 .4 5.5 .4 .1 .4 .9 .3 -9 .4 -1.3 .4 7.7 .3 -.2 .4 4.1 .4 -1.6 .3 -1.3 .4 .5 .4 3.4 .3 0 .4 -4.2 .4 .7 .3 7.4 .4 -6.9 .4 -3.5 .4 5.6 .3 -2.8 .4 5.5 .4 -7.1 .3 6 .4 .5 .4 -3 .3 -8.5 .4 9.1 .4 2.1 .3 -5.2 .4 1.1 .4 -4.6 .4 9.2 .3 1.2 .4 -3.9 .4 -2 .3 .2 .4 -2.6 .4 8.2 .3 -1.9 .4 -2.4 .4 -3.2 .3 1.3 .4 2.7 .4 1.8 .4 -5.7 .3 -.4 .4 -5.4 .4 9.1 .3 -5.3 .4 8.9 .4 -2 .3 .1 .4 -.5 .4 1.3 .3 -1.1 .4 -1.6 .4 1.1 .3 -3.4 .4 2.4 .4 -.5 .4 -4.7 .3 3.3 .4 .6 .4 .5 .3 0 .4 -.7 .4 3.6 .3 -6.1 .4 -1.4 .4 1 .3 5.2 .4 3.3 .4 -3.4 .4 -1.6 .3 -2.2 .4 3.5 .4 .3 .3 -5.8 .4 6.8 .4 -5.5 .3 -150.8 .4 68.7 .4 26.9 .3 19.4 .4 10.2 .4 7.9 .4 1.8 .3 -4.5 .4 3.4 .4 -1.1 .3 4.8 .4 -1.8 .4 .3 .3 4.5 .4 .9 .4 -5.7 .3 1.3 .4 4.1 .4 -2.2 .3 -1.7 .4 -3.1 .4 8.8 .4 -4.2 .3 -4 .4 6.8 .4 -3.9 .3 13.1 .4 -12.3 .4 -.3 .3 11 .4 -7.8 .4 -.5 .3 -.2 .4 0 .4 3.9 .4 2.3 .3 -.3 .4 -1.4 .4 -1.1 .3 3 .4 -1.2 .4 -2.6 .3 1.9 .4 -5.9 .4 .3 .3 10.8 .4 -1.7 .4 2.5 .4 -.3 .3 -5 .4 4.7 .4 .6 .3 -2.2 .4 -3.1 .4 4 .3 0 .4 -3.6 .4 1.5 .3 .2 .4 -1.4 .4 6.3 .3 -3.9 .4 2.8 .4 -5 .4 .8 .3 5.9 .4 -7.3 .4 8 .3 -7.2 .4 3.4 .4 3.3 .3 .8 .4 -2.4 .4 -.7 .3 2.2 .4 -4.3 .4 6.3 .4 -4.2 .3 -.1 .4 6 .4 -6.7 .3 4.8 .4 4 .4 -5.8 .3 -1 .4 -3.7 .4 4.4 .3 -6.1 .4 0 .4 1 .4 -.6 .3 3.2 .4 2.7 .4 -8.3 .3 3.3 .4 2 .4 1.7 .3 3.8 .4 -6.9 .4 .8 .3 5.1 .4 -14.1 .4 8 .3 2.3 .4 -2.8 .4 -3.3 .4 10.2 .3 -3.6 .4 -2.3 .4 -1.6 .3 -1.4 .4 10.4 .4 -5.6 .3 -2.5 .4 -1.5 .4 -1.1 .3 8.2 .4 -1.7 .4 2.1 .4 -5.6 .3 6.8 .4 -7.9 .4 1 .3 1.3 .4 8.6 .4 -5 .3 -4.5 .4 6.9 .4 -3.8 .3 -.8 .4 -2.9 .4 1.7 .4 -.2 .3 2.1 .4 -1.7 .4 .9 .3 -2.5 .4 2.8 .4 -3.8 .3 8.8 .4 -9.3 .4 .1 .3 .4 .4 3.5 .4 -2.7 .3 -2.2 .4 6.7 .4 -2 .4 .8 .3 -1 .4 5.7 .4 -4.2 .3 .2 .4 1.4 .4 -1.9 .3 4.3 .4 -9.4 .4 3 .3 -4.7 .4 8.8 .4 1.1 .4 -4.6 .3 6.3 .4 -6 .4 2.6 .3 -1.3 .4 -1.7 .4 -1.4 .3 -3.2 .4 3.9 .4 6.2 .3 -7.3 .4 7.3 .4 -4.3 .4 4 .3 -1.4 .4 -6.8 .4 5.9 .3 -.1 .4 -.4 .4 -.5 .3 -5.7 .4 8.1 .4 .3 .3 -5.7 .4 5.7 .4 -2.6 .3 -4.7 .4 3.5 .4 1.9 .4 .5 .3 .7 .4 -1.2 .4 -1.9 .3 -3.5 .4 1 .4 5 .3 .5L774.0 316.6 405.4 316.6Z" fill="#fff" stroke="#1a7cf4" stroke-width="1.81" stroke-linejoin="round" stroke-dasharray="3938.09 99999"/><path d="M388.2 296.6l.4 6 .4 -5.7 .4 -2 .3 -1.7 .4 2.9 .4 -1.6 .4 -.6 .3 3.4 .4 .2 .4 -8.8 .4 9 .4 -6.7 .3 3.4 .4 -4.7 .4 6.5 .4 -3.5 .3 .7 .4 2 .4 -1.6 .4 3.4 .4 -1.9 .3 1.1 .4 -3.8 .4 2.9 .4 4 .3 -3.5 .4 -.9 .4 2.7 .4 -7.1 .4 3 .3 -1.3 .4 4.9 .4 -1.2 .4 -4.3 .3 7.7 .4 -5.8 .4 1 .4 -3.6 .3 4.1 .4 3.6 .4 -4.2 .4 4.6 .4 .3 .3 -8.7 .4 6.6 .4 4.5 .4 -9.9 .3 5.5 .4 9 .4 -11.2 .4 -3.4 .4 2 .3 -4.5 .4 6.1 .4 -2.3 .4 5 .3 -3.6 .4 -4.6 .4 3.4 .4 1.3 .4 7 .3 -5.4 .4 2.9 .4 -6.9 .4 4.9 .3 -3.6 .4 4.4 .4 -9.1 .4 10 .4 -4.2 .3 -8.3 .4 7.5 .4 3.5 .4 -4.9 .3 -1.2 .4 .3 .4 10.7 .4 -8.3 .4 7.5 .3 -13.2 .4 5.7 .4 2.1 .4 -3.7 .3 .5 .4 5.6 .4 -9.1 .4 6.3 .3 4.9 .4 -9.9 .4 -.3 .4 .8 .4 2.4 .3 4.8 .4 -5.8 .4 -2.9 .4 3.1 .3 -2.6 .4 7.8 .4 -5.5 .4 .4 .4 7.6 .3 .5 .4 -2.8 .4 -2.2 .4 -1.4 .3 2.5 .4 -.5 .4 .2 .4 -.9 .4 -1.6 .3 0 .4 1.9 .4 -.9 .4 2.2 .3 -4 .4 4.2 .4 -7.2 .4 5.3 .4 -1.1 .3 3.4 .4 -1.1 .4 -1.6 .4 .6 .3 2.2 .4 2 .4 -3.9 .4 -.1 .3 -1.1 .4 -2.1 .4 4.9 .4 5.6 .4 -6.1 .3 5.5 .4 -1.9 .4 -7.6 .4 1.4 .3 3.9 .4 .2 .4 -1.7 .4 5.4 .4 -7.5 .3 2.8 .4 -7.3 .4 9.4 .4 -.1 .3 -1.5 .4 -5.4 .4 6.1 .4 -5.8 .4 3.4 .3 1.3 .4 -2.1 .4 -2.2 .4 3.3 .3 -6.8 .4 2.6 .4 10.9 .4 -7.5 .4 5.4 .3 -5 .4 -2.9 .4 6.1 .4 -.6 .3 -4.1 .4 -6.9 .4 2.5 .4 4 .3 -.5 .4 -4.3 .4 7.1 .4 -1.4 .4 3.3 .3 -4.1 .4 -2.8 .4 -1.2 .4 4.5 .3 2.4 .4 .2 .4 2.1 .4 -5.3 .4 -3.9 .3 12.2 .4 -.4 .4 -11.8 .4 10 .3 -6.3 .4 5 .4 -6.8 .4 .1 .4 2.3 .3 -2 .4 2.7 .4 -1.6 .4 -4.1 .3 2.3 .4 5.8 .4 .5 .4 -1.7 .4 -.1 .3 -.9 .4 2.2 .4 -4.2 .4 1.8 .3 -1.2 .4 .9 .4 -1.9 .4 5.8 .3 -5.1 .4 -.4 .4 -.1 .4 -.5 .4 -1.4 .3 1.2 .4 1.5 .4 1.6 .4 4.9 .3 -5.9 .4 -3.9 .4 5.7 .4 -9.2 .4 14 .3 -6 .4 -3.6 .4 .8 .4 -.6 .3 8.5 .4 -.9 .4 -4.8 .4 3.3 .4 -5.9 .3 5 .4 .1 .4 -.7 .4 2.3 .3 -1.2 .4 2.5 .4 -2.1 .4 1.5 .4 -2.3 .3 5.6 .4 .1 .4 -6.4 .4 1 .3 3.8 .4 -2.6 .4 2.6 .4 -10.1 .4 11.6 .3 -10.5 .4 8.1 .4 -4.1 .4 2.3 .3 .5 .4 -3.9 .4 .7 .4 3.9 .3 1.8 .4 -9.8 .4 1.8 .4 4.3 .4 1.6 .3 -2.3 .4 .5 .4 -3.5 .4 7.2 .3 -3.4 .4 2.6 .4 -6.5 .4 -1.5 .4 5.9 .3 -2 .4 -3.1 .4 5.4 .4 2.1 .3 -6.2 .4 1.6 .4 2.6 .4 -5.8 .4 3.9 .3 6.5 .4 -7.1 .4 1.1 .4 -6.3 .3 6.3 .4 .7 .4 -1.9 .4 .8 .4 5.3 .3 -4.6 .4 1.4 .4 -5.5 .4 -3.3 .3 11.4 .4 -.4 .4 -.5 .4 -.3 .3 0 .4 -2.6 .4 -3.6 .4 8.2 .4 .7 .3 .8 .4 -9.4 .4 -.6 .4 9.2 .3 .2 .4 -5.7 .4 -3.4 .4 .1 .4 2.5 .3 -1.8 .4 1.4 .4 2.8 .4 -7.6 .3 6.2 .4 3.6 .4 -1.8 .4 3.3 .4 -5 .3 -3.6 .4 7.8 .4 -7.5 .4 -3.1 .3 5.7 .4 5 .4 -1 .4 -1.6 .4 3.2 .3 .1 .4 -2.7 .4 -.4 .4 -2.8 .3 5.9 .4 -10.2 .4 2.4 .4 .2 .3 5.2 .4 -7.8 .4 7.1 .4 -6.8 .4 2.2 .3 6.5 .4 -1.5 .4 -7.7 .4 2.7 .3 4.1 .4 -1.2 .4 -.2 .4 3.1 .4 -2 .3 1.4 .4 -.6 .4 -3 .4 4.8 .3 -5.8 .4 2 .4 -2.6 .4 -.2 .4 -1 .3 2.1 .4 -.1 .4 3.1 .4 -2.3 .3 4.6 .4 -2.1 .4 -3.5 .4 2.4 .4 -1.9 .3 4.8 .4 -7.7 .4 6.2 .4 -3.1 .3 1.4 .4 -3.2 .4 4.2 .4 1.7 .4 2.8 .3 -5.2 .4 2.7 .4 -5.6 .4 -3.1 .3 12.1 .4 -3 .4 -5.2 .4 -2.9 .3 3.3 .4 0 .4 -.2 .4 -.5 .4 -24.5 .3 24.6 .4 6.3 .4 -2.4 .4 -2.5 .3 3.3 .4 -1.6 .4 .9 .4 1 .4 -4.6 .3 3.7 .4 2.5 .4 -1.5 .4 -2.6 .3 -7.1 .4 6.1 .4 -3.7 .4 3 .4 8.6 .3 -8.6 .4 3.9 .4 1.9 .4 -1 .3 -9.6 .4 11 .4 -3.1 .4 -5.6 .4 1.7 .3 8.2 .4 -5.4 .4 1.2 .4 -.9 .3 -2.9 .4 4.5 .4 -.9 .4 -5.8 .3 10.8 .4 -4.5 .4 -2.6 .4 5.6 .4 -1.9 .3 2.5 .4 -4.7 .4 2.5 .4 -4.6 .3 -.7 .4 3 .4 1.7 .4 -1.9 .4 .9 .3 4.3 .4 -7.8 .4 2.9 .4 -.7 .3 5.8 .4 -7.5 .4 -4.1 .4 4.9 .4 6.8 .3 -4.8 .4 .4 .4 -.9 .4 1.2 .3 -2.3 .4 -.5 .4 1.3 .4 3.1 .4 -2.5 .3 -2.8 .4 5 .4 -4 .4 5 .3 -1.7 .4 -.6 .4 -4.6 .4 6.5 .3 -6.8 .4 8.8 .4 -4.3 .4 -3.2 .4 .6 .3 5.3 .4 .4 .4 -7.1 .4 7 .3 -6 .4 3.7 .4 -1.2 .4 -8.4 .4 2.8 .3 1.9 .4 7.2 .4 -5.4 .4 .8 .3 .6 .4 -5 .4 9.9 .4 -6.4 .4 .3 .3 3.2 .4 -7.9 .4 9.7 .4 -4 .3 .1 .4 7.4 .4 -2.2 .4 -1.6 .4 -6.1 .3 -.8 .4 1.4 .4 1 .4 15.4 .3 -15.5 .4 2.4 .4 -5.2 .4 -.8 .4 -3.1 .3 5.2 .4 0 .4 6.3 .4 -3.5 .3 4.3 .4 -7.2 .4 6.8 .4 -3.4 .3 2 .4 -1.1 .4 -3 .4 3.4 .4 -2.7 .3 3.8 .4 -7.4 .4 6.6 .4 -5.6 .3 -3.5 .4 15.3 .4 -4.9 .4 -2.4 .4 -4.5 .3 5.6 .4 -3.2 .4 3.5 .4 -4.2 .3 6.1 .4 -6.2 .4 12.6 .4 -3.7 .4 -12.1 .3 5.6 .4 3.9 .4 -10.3 .4 4.1 .3 1.7 .4 3.2 .4 -3.5 .4 .2 .4 7.5 .3 -7.9 .4 2.7 .4 -14.9 .4 9.8 .3 6.6 .4 -.1 .4 -2.5 .4 -1.3 .3 3.5 .4 -1.4 .4 -2.4 .4 .8 .4 -2 .3 2.6 .4 3.5 .4 2.8 .4 -8.5 .3 3.7 .4 .7 .4 -.5 .4 4.2 .4 -3.8 .3 7.3 .4 -7.5 .4 1.5 .4 -9.4 .3 4.5 .4 2.1 .4 -1.7 .4 -1.7 .4 5.1 .3 -1.7 .4 -2.5 .4 -6.7 .4 8.1 .3 6.5 .4 -9 .4 -6.4 .4 11.9 .4 -14.6 .3 11.8 .4 -3.8 .4 5.4 .4 -1.2 .3 3.3 .4 -.8 .4 3.9 .4 -11 .3 7.6 .4 -5.2 .4 0 .4 3 .4 -2.1 .3 .8 .4 1.1 .4 -1.6 .4 .2 .3 3.6 .4 .9 .4 -1.5 .4 -3.2 .4 -4 .3 -.6 .4 3.8 .4 -2 .4 2.9 .3 -3.8 .4 3 .4 -.7 .4 2.4 .4 -.9 .3 -6.8 .4 10.3 .4 -4.5 .4 2 .3 -5.3 .4 -3 .4 7 .4 8.4 .4 -11.5 .3 .5 .4 7.7 .4 -4.8 .4 -.4 .3 7.8 .4 -10 .4 .8 .4 .5 .3 4.5 .4 -.7 .4 -.5 .4 -3.9 .4 4.8 .3 -8.4 .4 3.5 .4 8.8 .4 -13 .3 5.2 .4 2 .4 -1.9 .4 6.5 .4 -6.7 .3 8.9 .4 -5 .4 -6.5 .4 -1.2 .3 5.6 .4 2.1 .4 -6.2 .4 3.4 .4 -.7 .3 -1.4 .4 5.9 .4 -6.5 .4 10 .3 -11.8 .4 10 .4 -3 .4 .2 .4 -4.7 .3 -.5 .4 1.5 .4 -.9 .4 .9 .3 1.2 .4 6.6 .4 1.2 .4 -.1 .4 -7.3 .3 .9 .4 -.4 .4 -1.4 .4 1.4 .3 2.6 .4 1.6 .4 1.1 .4 -10.7 .3 1 .4 7.5 .4 -3.4 .4 -2.2 .4 -4.1 .3 7.5 .4 -2.2 .4 -3.3 .4 8.3 .3 -1.7 .4 -2.2 .4 2.3 .4 -9.7 .4 4.2 .3 2.6 .4 3.6 .4 -5.9 .4 1.1 .3 3.8 .4 -.3 .4 3.4 .4 -4.8 .4 -3.3 .3 -2.9 .4 3.7 .4 -.9 .4 4.9 .3 -.8 .4 -5.5 .4 2.9 .4 4.1 .4 -4.4 .3 -1.5 .4 .6 .4 2 .4 2.3 .3 -13.4 .4 6.2 .4 5.2 .4 2.5 .3 -3.2 .4 5.4 .4 -4.9 .4 1.8 .4 -4 .3 3 .4 -3.3 .4 -4.1 .4 8.6 .3 2.3 .4 -4.4 .4 2 .4 -.7 .4 2.4 .3 -4 .4 1.6 .4 7.9 .4 -6.6 .3 -2.2 .4 -3.1 .4 6.2 .4 .9 .4 -6.6 .3 6 .4 -2.6 .4 -1.3 .4 -1 .3 2.7 .4 3.8 .4 -6.9 .4 5.3 .4 .1 .3 -8.5 .4 3.5 .4 6.8 .4 -2 .3 -1.1 .4 1.8 .4 4.2 .4 -9.3 .3 0 .4 2 .4 2 .4 -2.2 .4 -1.3 .3 5.9 .4 -2.7 .4 .9 .4 -4.3 .3 1.7 .4 5.1 .4 -2.3 .4 -7.9 .4 9.4 .3 -3.7 .4 2.7 .4 -6.3 .4 4.4 .3 1.3 .4 2.7 .4 -2.9 .4 -3.3 .4 .8 .3 6.9 .4 -9.4 .4 6.3 .4 2.7 .3 -3.7 .4 2.4 .4 -.6 .4 .3 .4 -1.8 .3 1.3 .4 4 .4 -7.6 .4 3.5 .3 -5.6 .4 2.4 .4 -.2 .4 1.8 .4 -3.9 .3 5.4 .4 2.3 .4 -4.8 .4 10.1 .3 -8 .4 -1.9 .4 2.5 .4 -5.7 .3 1.7 .4 2 .4 1.9 .4 -5.5 .4 6 .3 -.8 .4 -3.9 .4 .4 .4 -4.7 .3 7.7 .4 6 .4 -8.7 .4 -2.1 .4 4.5 .3 -5.5 .4 -.9 .4 8.2 .4 -.8 .3 2.6 .4 -6.4 .4 0 .4 -.8 .4 -25.2 .3 29.9 .4 2.5 .4 .8 .4 -.7 .3 1.1 .4 -5 .4 -2 .4 -.7 .4 2.3 .3 2.2 .4 -2.3 .4 -2 .4 2.7 .3 -1.2 .4 1.2 .4 .9 .4 -1.8 .3 3.8 .4 -7.1 .4 8.5 .4 -6.8 .4 6 .3 -9.8 .4 2.1 .4 -15.2 .4 19.6 .3 2.3 .4 -3.5 .4 -1.4 .4 -7.1 .4 12.8 .3 -8.9 .4 6 .4 -2.9 .4 -2.1 .3 1.1 .4 .3 .4 2 .4 -.6 .4 -.5 .3 -3.3 .4 9.1 .4 -3 .4 2.5 .3 -1 .4 -.7 .4 -6.5 .4 -3.3 .4 2.4 .3 8.8 .4 -4.3 .4 4 .4 -5 .3 -3 .4 2.2 .4 -1.4 .4 3.9 .3 6 .4 .1 .4 -6.5 .4 -2.1 .4 -2.2 .3 8.4 .4 -4.3 .4 -.7 .4 -2.7 .3 4 .4 3.4 .4 -7.1 .4 2.2 .4 .3 .3 5.4 .4 -4.2 .4 5.8 .4 1.4 .3 -5.9 .4 .9 .4 -3.4 .4 -2.9 .4 4.7 .3 -6 .4 8 .4 -4.5 .4 6.5 .3 -4.8 .4 1.6 .4 -.3 .4 -2.5 .4 8.4 .3 -6.7 .4 3.3 .4 -3.3 .4 -.8 .3 2.3 .4 .1 .4 2.4 .4 -5.7 .4 10.2 .3 -9.9 .4 6.5 .4 -1.7 .4 .4 .3 -7.1 .4 5.7 .4 -3.2 .4 2.3 .3 -2.8 .4 2.2 .4 -7.7 .4 4.7 .4 0 .3 5.5 .4 -1 .4 -6.5 .4 4.2 .3 5.1 .4 -6.4 .4 2.4 .4 -6.6 .4 7.3 .3 -2 .4 -.5 .4 7.2 .4 -8 .3 4.9 .4 -7.9 .4 -.7 .4 5.2 .4 5.5 .3 -6.1 .4 0 .4 -1.6 .4 3.4 .3 3.2 .4 -3 .4 2.4 .4 -9.1 .4 8.7 .3 0 .4 -1.9 .4 3.9 .4 -2.8 .3 -1.1 .4 .9 .4 -.7 .4 -5.2 .3 2.7 .4 5.8 .4 -3 .4 -3.9 .4 4.7 .3 -2.5 .4 .4 .4 -1.8 .4 2.3 .3 -.2 .4 2.3 .4 -4 .4 4.7 .4 -8.8 .3 5.7 .4 1 .4 -3.7 .4 3.4L765.4 336.4 388.2 336.4Z" fill="#fff" stroke="#1c84f4" stroke-width="1.78" stroke-linejoin="round" stroke-dasharray="4093.81 99999"/><path d="M370.3 311.0l.4 5.6 .4 -1.3 .3 2.5 .4 -1.3 .4 -8.3 .4 3.3 .4 5.9 .4 .1 .4 -1.4 .4 -7.3 .3 6.7 .4 -3.2 .4 4.9 .4 3.2 .4 -9 .4 5 .4 2.3 .3 -.3 .4 0 .4 -.2 .4 3.1 .4 -9.5 .4 2.9 .4 -2 .3 4.4 .4 -2.3 .4 .3 .4 1.7 .4 -3.8 .4 1.5 .4 3.3 .4 1.8 .3 -1.3 .4 -.4 .4 0 .4 2.5 .4 -9.6 .4 4.4 .4 8.1 .3 -3 .4 1 .4 -5.7 .4 -3 .4 7.2 .4 -5.5 .4 8.7 .3 -11 .4 -.3 .4 3.5 .4 -1.4 .4 2.4 .4 1.4 .4 2.6 .4 -5.1 .3 1.4 .4 1.3 .4 -1.2 .4 .2 .4 2.8 .4 -1.8 .4 -6.1 .3 4.5 .4 -5.3 .4 8.5 .4 1 .4 -5.5 .4 -2.2 .4 5.1 .3 -4.1 .4 -.7 .4 -.6 .4 4.2 .4 -.1 .4 5.3 .4 -5.8 .4 -.9 .3 -3.7 .4 9.2 .4 -1.4 .4 .5 .4 -6.5 .4 11.3 .4 -4.5 .3 -10.7 .4 4.9 .4 7 .4 -4.7 .4 -3.1 .4 1.2 .4 2.6 .3 2.1 .4 -5.5 .4 3.2 .4 -2.3 .4 1.5 .4 2.8 .4 -6.2 .4 6.4 .3 -3.4 .4 2.3 .4 -.6 .4 -.1 .4 1.4 .4 -2.7 .4 -3.7 .3 -1.5 .4 1.2 .4 5.4 .4 -5.4 .4 3.6 .4 -4.5 .4 10.8 .3 -9.6 .4 6.9 .4 -6 .4 5.8 .4 -4.7 .4 4.2 .4 5 .4 -3.2 .3 -2.4 .4 -.9 .4 7.7 .4 -3.6 .4 -1.7 .4 -9.3 .4 6.6 .3 3.1 .4 2.5 .4 -6 .4 1.9 .4 -3.9 .4 4.9 .4 -4 .3 5 .4 -8.3 .4 4.9 .4 -1.3 .4 4.7 .4 -2.7 .4 2.4 .4 -2.2 .3 -2.6 .4 -7.9 .4 9.6 .4 -3.8 .4 3.7 .4 -3.8 .4 2.4 .3 -2.3 .4 2.5 .4 -7 .4 3.3 .4 10.4 .4 -6.9 .4 .9 .3 4.4 .4 -.9 .4 -1.3 .4 1 .4 -2.7 .4 6.6 .4 -8.7 .4 -.2 .3 1.1 .4 2.5 .4 -.9 .4 1.7 .4 -5.3 .4 2 .4 -4.9 .3 7.7 .4 -6.3 .4 6.6 .4 -1.4 .4 3.1 .4 -5.2 .4 2.1 .3 -1.8 .4 -2.7 .4 5.2 .4 -1.5 .4 -1.3 .4 3 .4 1.7 .4 -3.3 .3 0 .4 -1.1 .4 -.1 .4 4.9 .4 -4 .4 -2.7 .4 6 .3 -3 .4 -5 .4 5.4 .4 -5.3 .4 5.3 .4 3.8 .4 -.8 .3 -3.5 .4 -3.1 .4 8.6 .4 -1.6 .4 -2.5 .4 4.9 .4 -9.1 .4 10.6 .3 -7.6 .4 5.4 .4 -2.5 .4 -5.2 .4 .5 .4 -1 .4 1.4 .3 8.7 .4 -9.2 .4 12.2 .4 -8.1 .4 -.4 .4 .5 .4 -3.5 .3 4.3 .4 -8.6 .4 3.9 .4 -2.3 .4 1.9 .4 -.3 .4 3.1 .4 -7 .3 15 .4 -10 .4 1.5 .4 1 .4 -1.8 .4 3.3 .4 -5.4 .3 -.2 .4 -3.8 .4 3.7 .4 6 .4 2.6 .4 -4.2 .4 -.9 .4 -8.9 .3 9.1 .4 -4.3 .4 .7 .4 -4.2 .4 6.5 .4 -1.7 .4 3.1 .3 2.3 .4 .4 .4 -2.4 .4 -5.9 .4 3.8 .4 1.2 .4 -.8 .3 1.9 .4 -1.7 .4 .2 .4 -2.4 .4 -.7 .4 8.6 .4 -6.3 .4 -3.9 .3 8.2 .4 -2.7 .4 -1.4 .4 -3.2 .4 1.5 .4 2.7 .4 -1.3 .3 -2.6 .4 2.2 .4 -4.7 .4 4.8 .4 4.9 .4 -.5 .4 -1.9 .3 .6 .4 -2.9 .4 1.1 .4 -4.8 .4 3.2 .4 -2.2 .4 7.5 .4 -1.1 .3 -3.6 .4 1.4 .4 -1.3 .4 1.2 .4 2.9 .4 -7.8 .4 2.1 .3 8.9 .4 -2.9 .4 -2 .4 -2.2 .4 2.4 .4 4.5 .4 -7.2 .3 4 .4 -4.7 .4 3 .4 -2.7 .4 .7 .4 -.2 .4 4.9 .4 -5.3 .3 3.1 .4 4.9 .4 -3.3 .4 .1 .4 -2.8 .4 -.7 .4 6.2 .3 -6.3 .4 2.9 .4 2.9 .4 -6.3 .4 5.4 .4 1.4 .4 -6.3 .3 -.7 .4 5.4 .4 -5.8 .4 -.1 .4 5.3 .4 -13 .4 11.7 .4 -.7 .3 8.6 .4 -10.1 .4 4.3 .4 -3.6 .4 7 .4 -9.4 .4 -.8 .3 -1.4 .4 16.1 .4 -12 .4 .8 .4 11.2 .4 -7.4 .4 -2.1 .3 -5 .4 7.7 .4 -3.5 .4 1 .4 -1.7 .4 2.7 .4 -4.2 .4 -.4 .3 7.8 .4 -8.3 .4 6.2 .4 -1.2 .4 -4.9 .4 3.2 .4 -1.4 .3 -.6 .4 .5 .4 3.6 .4 1.3 .4 -5.5 .4 -.4 .4 1.2 .3 1.9 .4 -3.4 .4 2.9 .4 4.7 .4 -5.5 .4 -.8 .4 -1.1 .4 5.9 .3 -.6 .4 -3.7 .4 2.8 .4 -1.3 .4 -3.7 .4 1.6 .4 -4.9 .3 5 .4 -4.6 .4 2.1 .4 -5.2 .4 -39.5 .4 48.9 .4 -4.7 .3 6 .4 -.5 .4 -2.2 .4 -.5 .4 5.9 .4 -5.6 .4 2.2 .4 -.8 .3 -.7 .4 1.5 .4 -4.4 .4 1.9 .4 2.2 .4 -1.1 .4 -3.3 .3 .6 .4 -1.7 .4 5.1 .4 -1 .4 -6.2 .4 6.6 .4 -5.8 .3 2.9 .4 4.5 .4 3.2 .4 -14.4 .4 12.5 .4 0 .4 3.4 .4 -9.9 .3 3.7 .4 1.5 .4 -2.7 .4 .6 .4 .3 .4 -1.5 .4 2.6 .3 7.5 .4 -10.6 .4 1.4 .4 1.3 .4 -5.2 .4 9.8 .4 8.5 .3 -18.3 .4 3.5 .4 6.7 .4 -4.5 .4 -3.5 .4 6 .4 -6.1 .4 -5.1 .3 2.5 .4 5.3 .4 -1.7 .4 4 .4 -3.5 .4 1.8 .4 1.8 .3 1.1 .4 -10.8 .4 6.1 .4 3.7 .4 -1.9 .4 -6.3 .4 -.4 .4 7.5 .3 -2.7 .4 -2.5 .4 4.4 .4 3.2 .4 -.4 .4 -3.5 .4 2.5 .3 1.7 .4 -3.4 .4 -4.3 .4 1 .4 3 .4 -7.2 .4 9.1 .3 -2.2 .4 4.4 .4 -7.3 .4 3.2 .4 5.1 .4 1.7 .4 -13.1 .4 3.9 .3 2.1 .4 -2.5 .4 8.1 .4 -2.6 .4 1.5 .4 -1.7 .4 -1.1 .3 -3 .4 -1.7 .4 -.3 .4 -5.7 .4 10.6 .4 -1.6 .4 -1.7 .3 4.3 .4 -1.5 .4 -2.3 .4 4.6 .4 -4.5 .4 -2.9 .4 7.9 .4 3.8 .3 -7.9 .4 3.7 .4 -4.4 .4 3.7 .4 -4 .4 -2.7 .4 1.2 .3 3.8 .4 2.5 .4 4.5 .4 -1.2 .4 -4.4 .4 -2.7 .4 3 .3 -.1 .4 3.4 .4 .3 .4 .7 .4 -7.2 .4 8.6 .4 -14.7 .4 11.3 .3 -4.7 .4 1 .4 -1.1 .4 -9.5 .4 14.7 .4 .9 .4 -1.6 .3 1.1 .4 -4.7 .4 2.6 .4 -.6 .4 -1.4 .4 3 .4 -5.5 .3 10 .4 -7 .4 -.9 .4 4.1 .4 -.2 .4 -5.2 .4 4.3 .4 5.5 .3 -1.8 .4 -7.6 .4 6.1 .4 -7.6 .4 -.3 .4 5 .4 -2.6 .3 4.7 .4 -1.1 .4 1 .4 -4.4 .4 6.2 .4 -3.8 .4 -.8 .3 -1.7 .4 9 .4 -1.1 .4 -3 .4 -2 .4 -.9 .4 -.4 .4 -6 .3 4.6 .4 .3 .4 3.3 .4 -4.1 .4 .4 .4 0 .4 2.5 .3 -2.7 .4 -3 .4 7.5 .4 4.4 .4 -9.6 .4 .5 .4 3.2 .3 .6 .4 -10.2 .4 10.8 .4 2.6 .4 -2.4 .4 -3.4 .4 3.4 .4 -.4 .3 -2.3 .4 2.7 .4 -1.8 .4 .4 .4 3.5 .4 -4.1 .4 4.1 .3 -6.9 .4 6.2 .4 -2.8 .4 4.8 .4 -4.6 .4 2.4 .4 -9.1 .3 5.4 .4 -2 .4 7.2 .4 -1.9 .4 -3.5 .4 4 .4 -8.3 .4 5.1 .3 -1.9 .4 -.7 .4 1.6 .4 -2.8 .4 1.6 .4 -.3 .4 -2.7 .3 3.1 .4 .4 .4 1.3 .4 -1.4 .4 -1.8 .4 3 .4 4.8 .3 -6.2 .4 .9 .4 -1.8 .4 1.6 .4 -5 .4 9.2 .4 -.7 .4 -5.6 .3 5.5 .4 -4.6 .4 1.3 .4 6.5 .4 -8.5 .4 -2.4 .4 3.8 .3 5.2 .4 -7.1 .4 6.1 .4 -2.9 .4 -1.9 .4 4.2 .4 2.8 .3 -5.2 .4 -.1 .4 1.6 .4 .5 .4 -4.9 .4 7.1 .4 -2.7 .4 .3 .3 -2.4 .4 .1 .4 .7 .4 3.9 .4 -3.6 .4 5.7 .4 -6.9 .3 -3.5 .4 .6 .4 1.1 .4 1.5 .4 1.6 .4 -2.1 .4 2 .4 -.3 .3 1.5 .4 -2.4 .4 .1 .4 -6.7 .4 4 .4 3 .4 -3.7 .3 4.2 .4 -4.7 .4 .8 .4 -6.6 .4 12.9 .4 -3.2 .4 0 .3 -1.4 .4 -1.1 .4 5.6 .4 -.7 .4 -3.3 .4 -2.3 .4 6.8 .4 1.3 .3 -8.8 .4 1.1 .4 -2.4 .4 8.4 .4 -2.4 .4 -1.5 .4 -.4 .3 1.9 .4 .2 .4 -3.8 .4 4.5 .4 .3 .4 -.6 .4 .6 .3 -2.2 .4 1 .4 1 .4 -5.9 .4 3.8 .4 2.1 .4 -5.1 .4 5.7 .3 -1.7 .4 .2 .4 1.6 .4 -1.1 .4 -1.5 .4 5.2 .4 -3.3 .3 -2 .4 -.2 .4 0 .4 -6.2 .4 5 .4 2.4 .4 .2 .3 -.6 .4 -1.4 .4 1.6 .4 -2.3 .4 5.7 .4 -5.8 .4 .5 .4 5 .3 -61.3 .4 56.5 .4 3.8 .4 -9.3 .4 5.1 .4 3.3 .4 .3 .3 .6 .4 -3.1 .4 .9 .4 4.6 .4 -1 .4 -.7 .4 -1 .3 -.2 .4 1.2 .4 -1.9 .4 -2.8 .4 3 .4 -.5 .4 .7 .4 -2.4 .3 -2.9 .4 3.7 .4 .3 .4 5.3 .4 3.1 .4 -9.9 .4 3.9 .3 -3.1 .4 2.4 .4 -.5 .4 -4.9 .4 8.4 .4 -3.7 .4 3.8 .3 -3.3 .4 -1.3 .4 -.8 .4 1.7 .4 5 .4 -4.9 .4 -2.2 .4 -.6 .3 -3.8 .4 5.4 .4 5.6 .4 -1.8 .4 -1.5 .4 -49.6 .4 53.3 .3 -6.3 .4 .7 .4 5 .4 -5.1 .4 4.5 .4 -2.2 .4 1.2 .3 -1.6 .4 4.5 .4 -5.4 .4 8.8 .4 -5.6 .4 .3 .4 -6.9 .4 3.4 .3 3.4 .4 1.6 .4 -3.2 .4 2.2 .4 -8.9 .4 15.5 .4 -8.7 .3 8.1 .4 -10.9 .4 6.2 .4 -7.8 .4 7 .4 -5.2 .4 2.8 .3 -3 .4 3.5 .4 9.6 .4 -7.1 .4 2.7 .4 -7.8 .4 1.1 .4 2.2 .3 -1.4 .4 .6 .4 2.3 .4 -7.9 .4 5.5 .4 1.3 .4 3.7 .3 -2.9 .4 -1.9 .4 .6 .4 1 .4 -1.4 .4 3.6 .4 -3.6 .3 5.2 .4 -2.5 .4 -.2 .4 -5.2 .4 1.4 .4 1.4 .4 3.7 .4 -2.4 .3 -4.1 .4 -1.4 .4 8.7 .4 -3.5 .4 -1.8 .4 -.8 .4 1 .3 -2.2 .4 6.5 .4 -9.4 .4 8.3 .4 -4 .4 -1.3 .4 -1.7 .3 .8 .4 .1 .4 -1.6 .4 4.6 .4 -2.8 .4 -2.4 .4 7.4 .4 2.1 .3 -1.6 .4 -8.1 .4 1 .4 4.6 .4 -2.1 .4 -.9 .4 -2.1 .3 9.6 .4 -4.4 .4 -.9 .4 -1.8 .4 .9 .4 1.4 .4 -2.1 .4 9 .3 -18.2 .4 6.9 .4 .1 .4 4.7 .4 -3.1 .4 -5.1 .4 .8 .3 5.4 .4 4.1 .4 -4.3 .4 1.4 .4 -3.6 .4 7.1 .4 -3.5 .3 -1.4 .4 2.3 .4 -4.7 .4 6.8 .4 .3 .4 -2.4 .4 -4.3 .4 3.3 .3 1.1 .4 -4.5 .4 1.8 .4 2.3 .4 -2.5 .4 1.8 .4 -2.8 .3 1.6 .4 3 .4 -1.2 .4 .1 .4 -2.4 .4 .3 .4 4 .3 -1.7 .4 -1.6 .4 -2.2 .4 2.6 .4 -5.2 .4 6.3 .4 -2.3 .4 3.7 .3 1 .4 -2.3 .4 -1.2 .4 .6 .4 .5 .4 1.5 .4 1.6 .3 -1.7 .4 -2.4 .4 -1.5 .4 13.5 .4 -12.6 .4 -1.8 .4 -.7 .3 2.8 .4 -.9 .4 3.6 .4 -7.5 .4 4.3 .4 5.2 .4 -.7 .4 -2.8 .3 5.1 .4 -4.6 .4 5.1 .4 -5.3 .4 .4 .4 2.1 .4 1.3 .3 -1.5 .4 5.5 .4 -5.7 .4 -2 .4 -5.4 .4 7.2 .4 -1 .3 -4.9 .4 -1 .4 7.2 .4 -4.8 .4 -.5 .4 2.3 .4 4.6 .4 .1 .3 -4.9 .4 -5.9 .4 8.2 .4 -5.7 .4 -1 .4 10 .4 -2 .3 -6.9 .4 1.8 .4 1.5 .4 1.7 .4 -2.2 .4 4.4 .4 -9.8 .3 11.6 .4 2.1 .4 -6.1 .4 -4.1 .4 6.3 .4 -1.4 .4 3.3 .4 -3.5 .3 3.4 .4 -.4 .4 1.5 .4 -2.9 .4 -7.5L756.3 357.1 370.3 357.1Z" fill="#fff" stroke="#00eaff" stroke-width="1.75" stroke-linejoin="round" stroke-dasharray="4057.87 99999"/><path d="M351.5 333.3l.4 2.7 .4 -.3 .4 -1.1 .4 2 .4 -5.1 .4 1.8 .4 2.7 .3 5.3 .4 -10.4 .4 6.2 .4 1.8 .4 -7.7 .4 6.5 .4 5 .4 -1.1 .4 -3.9 .4 2.6 .4 -3.4 .4 -9.6 .4 -1.4 .4 10.1 .4 -2.7 .4 -.2 .4 3.4 .4 4.4 .4 -8.2 .4 4.3 .4 -2 .4 -.6 .4 4.8 .3 -8.4 .4 5.8 .4 -.3 .4 6.8 .4 -8.6 .4 -1.2 .4 5.5 .4 -4.2 .4 3.6 .4 2.8 .4 -2.8 .4 -3 .4 0 .4 -1.8 .4 5.9 .4 -1.2 .4 -1 .4 -1.7 .4 2.5 .4 2.9 .4 2 .4 -9.1 .4 .3 .3 5.5 .4 -7 .4 5.5 .4 -1.7 .4 -2.7 .4 5.9 .4 1 .4 3.2 .4 -6.8 .4 -.7 .4 -1 .4 .9 .4 1.9 .4 -3.5 .4 7.4 .4 -4.8 .4 -.1 .4 2 .4 -6.3 .4 4.6 .4 -3.4 .4 1.5 .4 3.6 .4 -7.3 .3 3 .4 3.9 .4 .4 .4 3.1 .4 -3.1 .4 .6 .4 -1.9 .4 1.9 .4 -3.2 .4 2.3 .4 5.3 .4 -3.6 .4 1.7 .4 1.4 .4 -3.6 .4 -4.1 .4 11.3 .4 -1.3 .4 -6.7 .4 -10.7 .4 12.4 .4 -2.8 .4 2.5 .3 -4.2 .4 -2 .4 5.5 .4 -4.3 .4 7.9 .4 -4.7 .4 5.2 .4 -5.2 .4 2.6 .4 -3 .4 4.5 .4 -4.9 .4 .2 .4 2.5 .4 1.1 .4 1.2 .4 -3 .4 -2.7 .4 2 .4 -1.3 .4 -3.9 .4 5.5 .4 -1.9 .3 -1.7 .4 1.2 .4 .5 .4 .7 .4 -6.5 .4 7.1 .4 .9 .4 -3.2 .4 -3.7 .4 1 .4 4.6 .4 -2.7 .4 1 .4 1.7 .4 -1.8 .4 0 .4 1.7 .4 -4.9 .4 7.1 .4 -6 .4 -2.7 .4 6.9 .4 -1 .3 1.5 .4 4.9 .4 -5.5 .4 -8.6 .4 13.7 .4 -.1 .4 -8.2 .4 1 .4 8.2 .4 -6.1 .4 -1.2 .4 6.3 .4 -8.8 .4 8 .4 -8.3 .4 3.2 .4 2.8 .4 3.5 .4 -4 .4 -.9 .4 -6.9 .4 8.2 .4 -.8 .3 -4 .4 6.2 .4 -2.5 .4 -1.9 .4 1.4 .4 -3.1 .4 -2.1 .4 6.6 .4 -2.2 .4 4.6 .4 -3 .4 -3.3 .4 6.2 .4 -8.4 .4 10.6 .4 -11.1 .4 6.6 .4 1.8 .4 -1.6 .4 -.4 .4 2.7 .4 1.4 .4 -2.6 .3 -5.2 .4 1.8 .4 -3.1 .4 6.7 .4 5.8 .4 -6.2 .4 -1.8 .4 -.9 .4 -4.5 .4 3.6 .4 2.1 .4 -4.2 .4 7.2 .4 1.7 .4 -6.5 .4 2 .4 .1 .4 -2.4 .4 4.1 .4 -.7 .4 -1.7 .4 -.7 .4 -1.3 .3 3.1 .4 -.6 .4 9.5 .4 -12.4 .4 9.9 .4 -5.5 .4 -8.7 .4 9.9 .4 4.1 .4 -10.7 .4 8 .4 -1.3 .4 0 .4 -2.6 .4 -.2 .4 3.3 .4 -4 .4 6.8 .4 -5.6 .4 4.5 .4 -4.5 .4 4.6 .4 -.8 .4 -6.6 .3 8.8 .4 .1 .4 -5.8 .4 3 .4 .2 .4 -.9 .4 -7.8 .4 11.1 .4 -2.9 .4 -1.7 .4 3.8 .4 -3 .4 -1.9 .4 4.7 .4 -6.7 .4 7.7 .4 -3.3 .4 -1.2 .4 -10 .4 19.2 .4 -8.7 .4 -7.7 .4 10.7 .3 -5.9 .4 3.1 .4 5.7 .4 -6.4 .4 4.2 .4 -3.4 .4 5.5 .4 -8 .4 10.5 .4 -8 .4 -5 .4 2.8 .4 2.8 .4 0 .4 .8 .4 -11 .4 9.5 .4 .1 .4 2.4 .4 -.8 .4 -4.1 .4 4.2 .4 .7 .3 -.8 .4 -.4 .4 -7.2 .4 7.8 .4 -1.3 .4 2.6 .4 -6.7 .4 3.9 .4 1.7 .4 -1.7 .4 1.1 .4 5.3 .4 -5 .4 -6.3 .4 4 .4 -2.1 .4 6.1 .4 3 .4 -2.6 .4 -6.9 .4 7.8 .4 -.4 .4 -6.2 .3 4.6 .4 -16.5 .4 14.7 .4 1 .4 1.3 .4 -1.7 .4 3.3 .4 -2 .4 -2.5 .4 5.7 .4 -2.8 .4 3.4 .4 -6.7 .4 .6 .4 2.9 .4 -4.2 .4 -.1 .4 1.3 .4 -3.1 .4 2.4 .4 6.4 .4 -10.9 .4 6.9 .3 -1.1 .4 6.1 .4 -7.8 .4 -.3 .4 9.3 .4 -3.5 .4 -.4 .4 .5 .4 -6.9 .4 -2.8 .4 11 .4 -7 .4 4.5 .4 -5.5 .4 13.1 .4 -6.6 .4 -5.9 .4 6.4 .4 -6.3 .4 6.1 .4 -5.4 .4 2.2 .4 3.4 .3 1.2 .4 -2.1 .4 -4.2 .4 4.1 .4 2.2 .4 -13.6 .4 16.9 .4 -4.7 .4 -2.4 .4 5.4 .4 -3.8 .4 1.4 .4 7.2 .4 -10.4 .4 5.1 .4 -1 .4 -6.9 .4 7.9 .4 -5.6 .4 -2.4 .4 .5 .4 1.9 .4 2.3 .3 4.1 .4 -5.2 .4 -.9 .4 3.2 .4 1.9 .4 -6.7 .4 6.6 .4 -5.3 .4 3.4 .4 3.8 .4 -11.6 .4 3.2 .4 -.2 .4 6.9 .4 -4.3 .4 -1.3 .4 3.6 .4 -8 .4 12.8 .4 -9.6 .4 9.1 .4 -.9 .4 -1.3 .4 -6 .3 4.3 .4 -.1 .4 .9 .4 2.1 .4 -2.1 .4 .5 .4 -2.1 .4 .1 .4 9.6 .4 -8.7 .4 -6.1 .4 6.1 .4 -1.6 .4 2.3 .4 .3 .4 -12.8 .4 15.7 .4 -3.9 .4 5.3 .4 -6.6 .4 6.7 .4 -7.8 .4 -1.1 .3 8.9 .4 -7.6 .4 3.7 .4 -5.2 .4 6 .4 -.9 .4 -.1 .4 -5.6 .4 10.2 .4 -8.3 .4 2.2 .4 1.7 .4 -1.1 .4 -3.8 .4 .5 .4 -3.1 .4 8 .4 4.3 .4 -4.6 .4 1 .4 -1.3 .4 -5.4 .4 -3.7 .3 6.5 .4 7.7 .4 -9.8 .4 5.6 .4 -2.5 .4 -3.2 .4 1.7 .4 1.2 .4 -1.1 .4 -1.6 .4 .5 .4 -4.9 .4 16.4 .4 -7.2 .4 -.8 .4 -11.6 .4 9.2 .4 -2 .4 7.8 .4 -4 .4 -2.8 .4 2.4 .4 1.3 .3 -2.3 .4 -.1 .4 8 .4 -13 .4 4.5 .4 4 .4 -4.9 .4 2.3 .4 -3.8 .4 7 .4 -5.9 .4 6.2 .4 -4 .4 -1.3 .4 2.5 .4 -2.4 .4 4.4 .4 -5.6 .4 5 .4 .8 .4 -1.9 .4 -.3 .4 2.6 .3 -5.4 .4 3.4 .4 -2.5 .4 7 .4 -.5 .4 -3.9 .4 2 .4 -3.2 .4 -2.5 .4 6.4 .4 -9.6 .4 2.5 .4 5 .4 -4.3 .4 3.8 .4 -3.4 .4 5.6 .4 -7.9 .4 3.2 .4 2.3 .4 4 .4 -5.5 .4 2.8 .3 -2.4 .4 3 .4 -1 .4 -4 .4 -2.9 .4 9.7 .4 -3.4 .4 -1.6 .4 1.8 .4 .8 .4 -8.7 .4 10 .4 -4.2 .4 -3.5 .4 5.3 .4 7.7 .4 -10.4 .4 4 .4 2.6 .4 -9 .4 6.7 .4 1 .4 .9 .3 -6.4 .4 3.6 .4 1 .4 3.4 .4 -1.1 .4 -4.1 .4 1.3 .4 6.8 .4 -3.6 .4 -3.7 .4 -8 .4 11.4 .4 5.4 .4 -10 .4 4.5 .4 2.9 .4 -9.4 .4 5.3 .4 2.5 .4 1 .4 -4 .4 -.8 .4 6.5 .4 -9.5 .3 7.9 .4 -8.9 .4 3.8 .4 1.6 .4 -1.6 .4 3.5 .4 -1.8 .4 -5.7 .4 7.5 .4 -4.7 .4 5.9 .4 -3.4 .4 -3.3 .4 7.3 .4 -5.2 .4 8.7 .4 -3.1 .4 -2.3 .4 -4.2 .4 .5 .4 5.6 .4 -2.7 .4 -1.3 .3 6 .4 -6.7 .4 -3.2 .4 .4 .4 6.2 .4 -.5 .4 2 .4 -1.6 .4 -.9 .4 -3 .4 2.2 .4 3.5 .4 -5.8 .4 -.3 .4 4.9 .4 -1.3 .4 -.8 .4 5.2 .4 -5.9 .4 -1.6 .4 -4.4 .4 6.5 .4 1.5 .3 2 .4 -4.9 .4 -.5 .4 5.6 .4 -4.1 .4 -1.2 .4 9.3 .4 -11.9 .4 5.6 .4 -3.6 .4 3.1 .4 1.1 .4 -.1 .4 -1.1 .4 -1.9 .4 4.1 .4 2.6 .4 -1.5 .4 1.2 .4 -6.1 .4 6 .4 -8.4 .4 4.5 .3 .8 .4 -4.9 .4 5.8 .4 -.1 .4 -3.2 .4 -.1 .4 6 .4 -12 .4 6.7 .4 6.3 .4 -3.6 .4 -3.6 .4 2.4 .4 -2.4 .4 -5.2 .4 4.9 .4 -3.8 .4 4.5 .4 4.8 .4 -7.4 .4 7.4 .4 -5.5 .4 .9 .3 5 .4 -.6 .4 -2 .4 -2 .4 -3 .4 4.3 .4 -11.9 .4 9.2 .4 5.2 .4 -.1 .4 -2.3 .4 2 .4 -1.6 .4 -3.1 .4 1.5 .4 -2.5 .4 5.6 .4 .5 .4 1.7 .4 1.6 .4 -4.5 .4 -1.8 .4 .9 .3 -.7 .4 -7 .4 10.6 .4 -2.7 .4 1.1 .4 1.5 .4 -7.7 .4 4.8 .4 -4.5 .4 8 .4 -10.3 .4 -1.6 .4 23.2 .4 -15.2 .4 .3 .4 -2.1 .4 6.3 .4 -6 .4 -.5 .4 4.5 .4 5.4 .4 -5.3 .4 -1.3 .3 -4.2 .4 4.5 .4 2 .4 -6.2 .4 1 .4 -1.2 .4 2.2 .4 -9.7 .4 8 .4 8 .4 -6.8 .4 -1.8 .4 2.7 .4 -4.8 .4 6.5 .4 -3.8 .4 6.8 .4 -4.2 .4 2 .4 1.4 .4 1.2 .4 -5.4 .4 -1 .4 3.5 .3 2.3 .4 -1.1 .4 -5.4 .4 6.6 .4 -7.6 .4 9.7 .4 -6.5 .4 -1.3 .4 -2 .4 5.8 .4 1.1 .4 2.5 .4 -7.8 .4 3.8 .4 .9 .4 -.2 .4 -2.4 .4 1 .4 -3.8 .4 11.6 .4 -10 .4 4.9 .4 -1.6 .3 .7 .4 -.7 .4 -2.8 .4 1.8 .4 5.9 .4 -4.6 .4 0 .4 -1.8 .4 1 .4 .9 .4 -3.8 .4 7.5 .4 -11.2 .4 9.2 .4 1.6 .4 -6.3 .4 -1.1 .4 -.5 .4 -.5 .4 3.3 .4 1.4 .4 -23 .4 23.1 .3 1.7 .4 -7.3 .4 -.7 .4 6.3 .4 .8 .4 .8 .4 4 .4 -3.3 .4 -.4 .4 -1.5 .4 3.2 .4 3.2 .4 -9.2 .4 -3.6 .4 13.2 .4 -6.5 .4 -3.4 .4 6.6 .4 1 .4 -4.8 .4 .7 .4 1.4 .4 -7.6 .3 .6 .4 2.7 .4 2.3 .4 .9 .4 -26.2 .4 26 .4 -5.9 .4 .6 .4 6.6 .4 -4.6 .4 -2.7 .4 3.4 .4 5.2 .4 -2.5 .4 .5 .4 -1.7 .4 -.1 .4 1.2 .4 -3.7 .4 -1.6 .4 6.6 .4 2.9 .4 -5.6 .3 .5 .4 -1.7 .4 4.1 .4 -3.3 .4 .8 .4 -3.3 .4 -2.1 .4 8.7 .4 5.6 .4 -7 .4 .4 .4 -2.3 .4 .8 .4 -1.6 .4 -7.7 .4 11.4 .4 -.4 .4 -2.8 .4 7.7 .4 -8.8 .4 4.7 .4 2.9 .4 -2.1 .3 -4.6 .4 -1 .4 -13.6 .4 14.9 .4 4.2 .4 -4.5 .4 2 .4 -8.2 .4 15.1 .4 -12.6 .4 2.9 .4 1.3 .4 2 .4 4.9 .4 -1.4 .4 2.1 .4 -12.3 .4 3.7 .4 -4.4 .4 6.7 .4 7.6 .4 -5.5 .4 -1.4 .3 -3.4 .4 7.3 .4 -4.2 .4 1.8 .4 -.6 .4 2.6 .4 -4 .4 .8 .4 6.8 .4 -10.5 .4 -3.5 .4 10.4 .4 -6.9 .4 7.2 .4 -1.7 .4 -7.9 .4 5.3 .4 -4.6 .4 4.4 .4 -2.3 .4 4 .4 -5.4 .4 -1.4 .4 3.8 .3 4.2 .4 -.8 .4 2 .4 -4.9 .4 .1 .4 4 .4 -5.7 .4 5.1 .4 -7.9 .4 3.3 .4 -2.7 .4 7.9 .4 1.1 .4 2.9 .4 -8.2 .4 5.7 .4 -8.2 .4 4.3 .4 -2.2 .4 6.9 .4 -2.6 .4 -2.5 .4 -1.7 .3 6.8 .4 -5.2 .4 3.6 .4 -5.7 .4 3.5 .4 .6 .4 -2.4 .4 -2.4 .4 5 .4 -5 .4 7.9 .4 -4.1 .4 4.8 .4 -4.5 .4 3.9 .4 -3.2 .4 -1.9 .4 5.5 .4 2.5 .4 -4.9 .4 -2.3 .4 1.2 .4 3.7 .3 -6.1 .4 3.6 .4 8.5 .4 -6.5 .4 -4.3 .4 -2.6 .4 6.2 .4 -1.2 .4 -2.9 .4 .3 .4 .8 .4 1.7 .4 4.6 .4 -5.3 .4 4.4 .4 -4.4 .4 8.4 .4 -13 .4 -1.4 .4 4.9 .4 4.5 .4 -1.6 .4 -4.1 .3 .8 .4 4.6 .4 -6.1 .4 1.6 .4 .8 .4 3.2 .4 -1.4 .4 2.5 .4 -3.1 .4 2.9 .4 -6 .4 4 .4 -.4 .4 -.4 .4 -.1 .4 5.8 .4 -9.2 .4 4.3 .4 2.3 .4 1.2 .4 -.8 .4 0 .4 -2 .3 3 .4 -3.2 .4 -.2 .4 2.9 .4 -9.8 .4 7.7 .4 -1.5 .4 .8 .4 1 .4 -3 .4 -2.2 .4 5 .4 2.2 .4 -4.7 .4 9.3 .4 -7.8 .4 1 .4 -2.2 .4 6.1 .4 -3.7L746.8 378.9 351.5 378.9Z" fill="#fff" stroke="#00f0ff" stroke-width="1.72" stroke-linejoin="round" stroke-dasharray="4356.50 99999"/><path d="M331.8 362.7l.4 6.3 .4 -13 .4 -.5 .4 3.2 .4 -3.4 .4 -1.1 .4 .3 .4 7.9 .4 -11.1 .4 1.8 .4 .1 .4 2.3 .4 0 .4 1.7 .4 -4.1 .4 -1.8 .4 4.3 .5 -5.3 .4 4 .4 -4.1 .4 2.4 .4 -4 .4 -4.2 .4 5.7 .4 2.3 .4 -.4 .4 -3.8 .4 4.1 .4 -5.1 .4 2.3 .4 -2.6 .4 4.7 .4 1.3 .4 -1 .4 -4.2 .4 4.2 .5 -5.1 .4 9.3 .4 -4.8 .4 -2 .4 5.7 .4 -3.8 .4 2.6 .4 -4.8 .4 .8 .4 -3 .4 5.7 .4 2.8 .4 -3.8 .4 -1.9 .4 -.1 .4 .3 .4 -3.6 .4 6 .5 -.5 .4 2.5 .4 -.6 .4 -5.2 .4 3.3 .4 10.3 .4 -13 .4 11.3 .4 -5.1 .4 -4.4 .4 3.4 .4 -1.5 .4 -.3 .4 2.3 .4 5.3 .4 -2.5 .4 .9 .4 6.7 .4 -6.8 .5 -2.8 .4 2.1 .4 .6 .4 -5.4 .4 5.7 .4 -2 .4 2.2 .4 -4 .4 7.1 .4 -4.7 .4 -2.1 .4 8.1 .4 -4.8 .4 8 .4 -5.4 .4 -1.3 .4 5.6 .4 3.2 .5 -6.2 .4 1.4 .4 -1.6 .4 .1 .4 -1.8 .4 -2 .4 4.1 .4 6.8 .4 -7.4 .4 .7 .4 .7 .4 -4.8 .4 4.6 .4 2.1 .4 -2.9 .4 7 .4 -8.8 .4 2.9 .5 -5.4 .4 4 .4 1.9 .4 -.2 .4 4.6 .4 -3.9 .4 -1.5 .4 -2.8 .4 1.9 .4 -1.1 .4 .4 .4 4.2 .4 -2.7 .4 2.1 .4 3.6 .4 .9 .4 -8.3 .4 -2.1 .4 .2 .5 8 .4 -7.9 .4 .3 .4 8 .4 -4.1 .4 -4.1 .4 5.5 .4 -3.8 .4 6.3 .4 -.7 .4 -4.5 .4 3.7 .4 -.7 .4 .3 .4 4.1 .4 -13.2 .4 10.7 .4 .9 .5 .4 .4 -1.4 .4 3.3 .4 -6.2 .4 4.6 .4 -4.1 .4 5.5 .4 .6 .4 -.2 .4 -3.7 .4 5 .4 -7.4 .4 .9 .4 -1 .4 4.2 .4 -3.9 .4 6.1 .4 .3 .4 -6.1 .5 4 .4 -5.5 .4 6.2 .4 -4.2 .4 4.6 .4 3.4 .4 -11 .4 5.8 .4 -4 .4 2.5 .4 3.3 .4 -4 .4 -2.3 .4 -.8 .4 -.9 .4 4.3 .4 2 .4 7.9 .5 -4.3 .4 -6.5 .4 .2 .4 1.3 .4 3.9 .4 -5 .4 4 .4 -6.6 .4 6.7 .4 -.2 .4 3.1 .4 -1.4 .4 0 .4 -1.7 .4 7.5 .4 -15.3 .4 5.4 .4 .2 .4 3.8 .5 -3.7 .4 1 .4 -.5 .4 5.4 .4 -1.1 .4 5.5 .4 -8.9 .4 2.4 .4 -.9 .4 -1.2 .4 -3.8 .4 -1.5 .4 4 .4 3.9 .4 -8.7 .4 9.8 .4 -2.8 .4 -1 .5 1.6 .4 -6.9 .4 3 .4 -2.5 .4 4.6 .4 -4 .4 3.4 .4 -.1 .4 -1.3 .4 -.5 .4 -.9 .4 3.2 .4 4.4 .4 -4.1 .4 8 .4 -8.3 .4 2 .4 -5.8 .5 12.4 .4 -16.5 .4 8.3 .4 4.4 .4 -7 .4 -.3 .4 .4 .4 -6.2 .4 10.7 .4 -4 .4 .5 .4 3.1 .4 -3.3 .4 -2.9 .4 7.4 .4 -4.6 .4 -1.8 .4 1.2 .4 7.7 .5 -6.5 .4 2.3 .4 -5.6 .4 4.9 .4 -7.5 .4 11.2 .4 -5.9 .4 4.7 .4 -8.9 .4 1 .4 8.4 .4 -5.7 .4 2.8 .4 5.5 .4 -1.9 .4 -4.2 .4 -1.4 .4 3.3 .5 -2.8 .4 -.2 .4 .1 .4 5.3 .4 -4.3 .4 -1.1 .4 7.3 .4 -10.7 .4 .3 .4 4.8 .4 -6.4 .4 10.3 .4 .4 .4 -.9 .4 .2 .4 -9.1 .4 11.9 .4 -8.6 .4 1.9 .5 -4 .4 5 .4 1.8 .4 -2.1 .4 -3.7 .4 5 .4 -5.4 .4 4.1 .4 1.8 .4 -2.5 .4 -5.2 .4 7.6 .4 -5.5 .4 -2.7 .4 6.9 .4 .5 .4 -2.3 .4 .6 .5 1.2 .4 -.9 .4 5.6 .4 -.7 .4 1.2 .4 -1.9 .4 -.5 .4 .7 .4 -3.1 .4 5.1 .4 -2.2 .4 -3.6 .4 -3 .4 5.7 .4 -3.9 .4 -.5 .4 8.3 .4 -4.2 .5 4.5 .4 -2.5 .4 -3.1 .4 5.9 .4 -6.2 .4 2.3 .4 .3 .4 -2.6 .4 4.5 .4 3.3 .4 -6.1 .4 3.2 .4 -1.8 .4 3 .4 -.4 .4 .4 .4 .9 .4 -1.4 .4 .2 .5 -2.8 .4 -10.8 .4 12.8 .4 3.6 .4 -7.4 .4 6.2 .4 -1.4 .4 -1.9 .4 -1.3 .4 -.2 .4 -.9 .4 1.2 .4 -4.2 .4 1.1 .4 5 .4 -1.2 .4 3.9 .4 -7.2 .5 3.1 .4 -7 .4 8.8 .4 -7.4 .4 8.2 .4 2.9 .4 -2.8 .4 -4.2 .4 -2.4 .4 6.7 .4 -6.3 .4 5.2 .4 .2 .4 -.7 .4 -6.9 .4 -4.2 .4 8.9 .4 6.3 .4 -6 .5 -.4 .4 -4.4 .4 8.4 .4 -.6 .4 .5 .4 -.8 .4 -4.9 .4 5 .4 -7.2 .4 4.3 .4 6.2 .4 -4.2 .4 2.6 .4 .5 .4 -9 .4 1 .4 6.2 .4 -1.7 .5 -6.8 .4 7.6 .4 -3.2 .4 -.9 .4 2.6 .4 -.3 .4 .6 .4 -1.9 .4 5.8 .4 -5.6 .4 -.3 .4 5.4 .4 -5.8 .4 4.6 .4 6.1 .4 -2.5 .4 -6.7 .4 -1.9 .5 3.3 .4 3.5 .4 -4.7 .4 -3.9 .4 2.9 .4 4.9 .4 -7 .4 2.1 .4 .3 .4 -.7 .4 -1.7 .4 2.1 .4 2.8 .4 -2.6 .4 -.4 .4 -3.4 .4 8.3 .4 -3.3 .4 2.4 .5 -3.8 .4 2.7 .4 8.3 .4 -13.7 .4 5.6 .4 1.7 .4 1.3 .4 -1.6 .4 1 .4 -3.9 .4 -.9 .4 .7 .4 -1.3 .4 3.9 .4 -4.6 .4 2.2 .4 -1.9 .4 -.8 .5 3.2 .4 -5.4 .4 1.6 .4 4.5 .4 -7.1 .4 .6 .4 11.3 .4 2.6 .4 -5.6 .4 -3.4 .4 -1.2 .4 1.4 .4 1.9 .4 -3.2 .4 1.1 .4 3.9 .4 -2.3 .4 -2.9 .4 6.3 .5 -.2 .4 .5 .4 -7.9 .4 2.7 .4 -.5 .4 4.1 .4 -1.1 .4 -4 .4 5.1 .4 -5.1 .4 4 .4 .3 .4 -2 .4 -.7 .4 -2.8 .4 7.2 .4 -7.2 .4 8.3 .5 .3 .4 4.8 .4 -10.3 .4 -2.3 .4 9.1 .4 -2.8 .4 -.3 .4 4.7 .4 -5.6 .4 -.8 .4 3 .4 1.6 .4 -3.4 .4 -1.4 .4 6.7 .4 -4.4 .4 -2.1 .4 11.5 .4 -10.4 .5 -4 .4 9.3 .4 -9.1 .4 5.5 .4 -3.4 .4 2.6 .4 3.3 .4 2.1 .4 -13.9 .4 12.8 .4 -3.5 .4 -5.8 .4 3.8 .4 .6 .4 7.5 .4 -4.8 .4 2.3 .4 1.4 .5 -7.3 .4 -1.5 .4 5.2 .4 -.3 .4 -3.4 .4 -1.4 .4 6.7 .4 -7.7 .4 .8 .4 3 .4 3.4 .4 -6.2 .4 -.1 .4 -3.4 .4 8.6 .4 -7.8 .4 5.7 .4 -2.8 .5 2.5 .4 -.6 .4 -4.8 .4 7.3 .4 -5.3 .4 3.5 .4 -1 .4 2.6 .4 -3 .4 7.8 .4 -6.1 .4 -4.5 .4 .8 .4 8.4 .4 -1.5 .4 -2.3 .4 -7.8 .4 7.8 .4 -1.5 .5 .8 .4 -1.6 .4 4.1 .4 -3.6 .4 -.2 .4 -2.2 .4 6.7 .4 -6.2 .4 -3.6 .4 4.1 .4 .2 .4 11 .4 -13.1 .4 -2 .4 2.5 .4 2.4 .4 -1.1 .4 -2.7 .5 8.1 .4 -1.1 .4 -5.2 .4 3 .4 8.2 .4 -7.9 .4 -.5 .4 4.3 .4 -4.2 .4 .8 .4 7.2 .4 -7.7 .4 -5.5 .4 1.3 .4 10 .4 .8 .4 -4.8 .4 -1 .4 5.7 .5 -1.9 .4 -7.3 .4 4 .4 -2.6 .4 4.1 .4 -3.8 .4 5.4 .4 -4.1 .4 5.6 .4 3.3 .4 -5.3 .4 3.4 .4 -3.1 .4 -1.9 .4 -.1 .4 -.6 .4 3.1 .4 -.9 .5 -4.2 .4 4.3 .4 -1.1 .4 8.7 .4 -4.3 .4 -7.8 .4 6.5 .4 1 .4 -7.1 .4 7.6 .4 -7.4 .4 4 .4 1.9 .4 5.1 .4 -11.9 .4 11 .4 -1.6 .4 -6.7 .5 6.9 .4 -6 .4 1.9 .4 11.2 .4 -7.5 .4 -1.3 .4 -3.4 .4 4.4 .4 -5.9 .4 1.7 .4 -1.3 .4 3.2 .4 -3.2 .4 .5 .4 -1.6 .4 1.5 .4 .2 .4 4.6 .4 2.5 .5 -6.1 .4 -3.1 .4 7.1 .4 2.4 .4 -3.7 .4 -3.5 .4 -1.7 .4 4.4 .4 3.1 .4 -3.9 .4 -2.4 .4 2.7 .4 -3.4 .4 5.5 .4 4.9 .4 -12.4 .4 9.2 .4 -3.8 .5 -2.5 .4 -8.4 .4 8.9 .4 2 .4 -4.6 .4 5.1 .4 5.5 .4 -2.6 .4 -8 .4 17.6 .4 -8.3 .4 -8 .4 2.3 .4 -3.4 .4 8 .4 -1.1 .4 -1.2 .4 2.9 .4 -3.2 .5 -.2 .4 -3.3 .4 2.9 .4 1.5 .4 -3.2 .4 -2.3 .4 -50.8 .4 6.3 .4 5.6 .4 3.4 .4 5.5 .4 -2 .4 3.2 .4 -3.5 .4 6.8 .4 .3 .4 0 .4 12.4 .5 -2.5 .4 0 .4 .3 .4 5.3 .4 .1 .4 -5 .4 2.9 .4 .3 .4 7.2 .4 -7.1 .4 6.7 .4 5.2 .4 -5.8 .4 -.1 .4 4.6 .4 3.7 .4 -1.2 .4 -3 .5 9.1 .4 -11.6 .4 .4 .4 4.8 .4 -3.7 .4 4.7 .4 3.9 .4 -5.7 .4 .6 .4 5.2 .4 2.1 .4 -1.2 .4 -7.1 .4 5.5 .4 -11.1 .4 12.6 .4 -4.6 .4 1.3 .4 1.9 .5 -3.8 .4 5.8 .4 -2.8 .4 -187.6 .4 116.9 .4 34 .4 20.1 .4 6.7 .4 -3.9 .4 3.6 .4 -1.2 .4 -4.1 .4 5.9 .4 -.4 .4 6.6 .4 -6.5 .4 .6 .4 7.3 .5 -5.6 .4 1 .4 2.5 .4 -.6 .4 -7.9 .4 11.3 .4 -.7 .4 -1.4 .4 .8 .4 11.5 .4 -14 .4 -.7 .4 -2.2 .4 8.2 .4 2.7 .4 -6.4 .4 6 .4 -3.1 .4 1.7 .5 -2 .4 2.3 .4 -3.5 .4 5.8 .4 -11.4 .4 6 .4 5 .4 1.2 .4 -2.6 .4 1.3 .4 .4 .4 -6.5 .4 1.2 .4 7.3 .4 -5.5 .4 1.9 .4 -2.2 .4 5 .5 -10 .4 7.2 .4 -6.7 .4 8.8 .4 -6.2 .4 7.2 .4 -8.3 .4 6.3 .4 3.3 .4 -.1 .4 -1.7 .4 -4.5 .4 .8 .4 .8 .4 -3.5 .4 -1.8 .4 -.9 .4 3 .4 -4.6 .5 10.3 .4 .4 .4 -3.4 .4 1 .4 2.6 .4 -1.6 .4 -6 .4 2.8 .4 6.5 .4 3.2 .4 -2 .4 -4.3 .4 3.6 .4 -.2 .4 -5.1 .4 3.8 .4 .5 .4 -2 .5 -4.3 .4 3.9 .4 -1.7 .4 2.2 .4 -5.2 .4 9.8 .4 -.1 .4 -1.9 .4 -9 .4 1.9 .4 9.3 .4 -2.3 .4 -3.6 .4 1.9 .4 -2.7 .4 5.2 .4 4.1 .4 -8 .5 -2.1 .4 9.9 .4 1.1 .4 -5.1 .4 4.9 .4 -8.2 .4 5.5 .4 -6.6 .4 3.8 .4 -2 .4 -1.9 .4 3.1 .4 3 .4 -6.6 .4 8.5 .4 -10.1 .4 7.2 .4 -.8 .4 -2.9 .5 .1 .4 -.1 .4 6.7 .4 -1.9 .4 -4.5 .4 0 .4 1.8 .4 -4.9 .4 5.2 .4 -3.9 .4 -.3 .4 8.9 .4 -4.3 .4 -3.3 .4 .7 .4 3.7 .4 1 .4 -4.5 .5 -3.8 .4 6.7 .4 -1.4 .4 1.4 .4 -3.8 .4 10.3 .4 -12.5 .4 3.8 .4 2.4 .4 -1.8 .4 -2.9 .4 2.8 .4 -1.1 .4 -1.7 .4 3.6 .4 -5.1 .4 .2 .4 3.2 .4 4.1 .5 -4.7 .4 -4.5 .4 8 .4 -2.8 .4 .1 .4 -1.6 .4 4.5 .4 -1.4 .4 -6.9 .4 4.5 .4 4.7 .4 -5.1 .4 2.7 .4 -5.1 .4 11 .4 -5.9 .4 -3 .4 7.6 .5 -.9 .4 -4.4 .4 1.5 .4 .6 .4 -1.8 .4 6 .4 -1.9 .4 -9.1 .4 8.2 .4 -3.7 .4 1.9 .4 -3.1 .4 1.7 .4 -.2 .4 -2.7 .4 3 .4 7.1 .4 -3.5 .5 -7 .4 1.4 .4 4.3 .4 5 .4 -3.3 .4 -9.5 .4 3.1 .4 -.1 .4 9.9 .4 -.8 .4 -2.5 .4 2.7 .4 -5.1 .4 3.9 .4 -5.3 .4 2.2 .4 1.1 .4 -4.3 .4 .7 .5 1.1 .4 1.9 .4 -.8 .4 6.7 .4 .1 .4 -4.4 .4 -2.8 .4 -5.5 .4 4.7 .4 4.8 .4 -1.8 .4 2.9 .4 -4.2 .4 .2 .4 -.2 .4 -.9 .4 -2.6 .4 1.3 .5 6.5 .4 -6.8 .4 6.3 .4 -4.9 .4 1.2 .4 -5.7L736.8 401.7 331.8 401.7Z" fill="#fff" stroke="#00ee00" stroke-width="1.69" stroke-linejoin="round" stroke-dasharray="4466.03 99999"/><path d="M311.0 380.4l.4 .4 .5 -5.1 .4 -4.9 .4 9.9 .4 -.7 .4 -4.7 .4 5.2 .5 -5.7 .4 2.5 .4 5.1 .4 -2.5 .4 -2.4 .4 4.2 .4 -5.2 .5 1.1 .4 1.8 .4 -2.7 .4 2.7 .4 -1.9 .4 4.4 .5 -8.2 .4 5.9 .4 -5.5 .4 -3.3 .4 1.8 .4 5.6 .4 -.8 .5 .7 .4 -1.2 .4 4.2 .4 3.1 .4 -7.4 .4 1.1 .5 -5 .4 -.7 .4 10.6 .4 -1.6 .4 -6.3 .4 -1.6 .5 3.9 .4 .3 .4 6.5 .4 -14.3 .4 10.4 .4 -4.1 .4 .9 .5 4.2 .4 -6 .4 -2 .4 5.4 .4 -.8 .4 -1.5 .5 -1 .4 .5 .4 6.1 .4 -.1 .4 -1.7 .4 7.2 .5 -4.8 .4 -3.9 .4 1.7 .4 .3 .4 -5.6 .4 2.3 .4 -1.3 .5 3.4 .4 1.1 .4 1.8 .4 -3.6 .4 7.2 .4 -3.2 .5 -4.7 .4 -1 .4 3 .4 3.7 .4 -6 .4 4.4 .4 -2.2 .5 3.1 .4 -9.8 .4 .9 .4 8.3 .4 1.3 .4 -3.8 .5 -2.3 .4 -2 .4 4.3 .4 4.1 .4 -5.2 .4 0 .5 6.3 .4 -4.6 .4 0 .4 2.5 .4 -3.9 .4 -2.6 .4 .2 .5 6.5 .4 -.8 .4 -4.7 .4 3.6 .4 -.1 .4 -8.2 .5 16.3 .4 -6.2 .4 .6 .4 -2.8 .4 -6.3 .4 4.2 .4 2.6 .5 -3 .4 3.3 .4 -2.3 .4 -7.3 .4 11 .4 -1.5 .5 -.3 .4 7.1 .4 -9.3 .4 2.2 .4 6.9 .4 -6.1 .5 -1.6 .4 3.5 .4 -6.8 .4 5.8 .4 3.2 .4 -8 .4 3.3 .5 -1 .4 6.1 .4 -.6 .4 -1.3 .4 -2.9 .4 -.4 .5 -5.3 .4 -.5 .4 4.5 .4 .6 .4 -6.8 .4 6 .5 -3 .4 4.8 .4 -1.8 .4 .7 .4 1.3 .4 -3.5 .4 3.7 .5 -2.5 .4 -.2 .4 -7.6 .4 13.8 .4 -6.8 .4 -1.6 .5 3.7 .4 -4.1 .4 1.3 .4 .2 .4 3.2 .4 -.8 .4 .2 .5 2.6 .4 -4.1 .4 4 .4 -.1 .4 1.7 .4 -8.1 .5 5.8 .4 .9 .4 -5.7 .4 4 .4 -2.6 .4 2 .5 -2.1 .4 .5 .4 8.3 .4 -12.4 .4 1.7 .4 8.2 .4 -7.8 .5 3.5 .4 -1.3 .4 -4 .4 .8 .4 -.1 .4 -3.6 .5 3.5 .4 5.9 .4 2.2 .4 -7 .4 8.9 .4 -4.2 .5 .3 .4 1 .4 -6.9 .4 3.6 .4 1.8 .4 -3.6 .4 4.6 .5 -5.6 .4 -3.2 .4 7.8 .4 .2 .4 -4.4 .4 10.5 .5 -2.2 .4 -.9 .4 1.9 .4 -5.5 .4 -1.1 .4 1 .4 3.2 .5 -6.4 .4 -.5 .4 -.2 .4 4.7 .4 -.4 .4 -5.1 .5 3.6 .4 -2.9 .4 5.9 .4 -1.4 .4 2 .4 -2.1 .5 -1.8 .4 3.1 .4 -8.3 .4 11.8 .4 -8 .4 6.7 .4 -4.4 .5 3.8 .4 -2.6 .4 .1 .4 2.8 .4 1.6 .4 -2 .5 -2.4 .4 -2.6 .4 -2.4 .4 11.2 .4 -7.7 .4 3.4 .5 -1.2 .4 -1.1 .4 -1.8 .4 1.3 .4 1.4 .4 -5.2 .4 4.7 .5 1.1 .4 -4.2 .4 7.5 .4 -.5 .4 -8.1 .4 5.7 .5 -1.6 .4 -2 .4 -1.5 .4 6.7 .4 2.1 .4 -3.7 .4 -1.4 .5 3.2 .4 .8 .4 -5 .4 -.1 .4 7.1 .4 -1.5 .5 -2.8 .4 .8 .4 -3.2 .4 -1.3 .4 -4.3 .4 4.8 .5 -1.7 .4 8.6 .4 -3.1 .4 -5.8 .4 8.4 .4 -9.3 .4 2.5 .5 1.5 .4 1.1 .4 3.5 .4 -.5 .4 -1.9 .4 0 .5 -5.6 .4 7.6 .4 -1 .4 3.9 .4 -6.6 .4 .6 .4 -4 .5 -2.7 .4 5 .4 4.9 .4 -3.3 .4 -.1 .4 1.4 .5 3.5 .4 -5 .4 5.6 .4 -4.1 .4 .8 .4 7.5 .5 -10.8 .4 -5.2 .4 8.6 .4 .7 .4 -5.3 .4 7.6 .4 -4.3 .5 -.6 .4 2.4 .4 -1.6 .4 2.2 .4 -1.1 .4 -4.1 .5 5.4 .4 -.9 .4 .4 .4 -4.2 .4 3.1 .4 1.8 .5 -3.9 .4 8.1 .4 -.4 .4 -7.7 .4 -5.7 .4 8.3 .4 -2.8 .5 5.7 .4 -5.3 .4 -.4 .4 -1.5 .4 4.6 .4 -8.9 .5 10 .4 -8.5 .4 8.4 .4 -6.5 .4 -1.7 .4 -2.7 .4 7.8 .5 5.1 .4 -8.3 .4 5.4 .4 1.5 .4 -1.7 .4 1.2 .5 -5.6 .4 1.6 .4 -1.5 .4 -.8 .4 4.3 .4 -3.7 .5 -1.9 .4 -2.3 .4 5.7 .4 1.2 .4 1.7 .4 -1.8 .4 -1.3 .5 -.9 .4 5.4 .4 -3.3 .4 -.6 .4 1.5 .4 0 .5 -3.4 .4 -2.8 .4 2.2 .4 5.5 .4 -4.5 .4 4.2 .5 -7.6 .4 1.5 .4 -1.8 .4 7.3 .4 1.4 .4 .3 .4 -3.9 .5 -4.1 .4 1.1 .4 .4 .4 6.3 .4 -8 .4 1.4 .5 4.2 .4 6.8 .4 -6.4 .4 -2.4 .4 -5.8 .4 4.6 .4 .9 .5 -5.5 .4 .2 .4 3.6 .4 -1 .4 -1.9 .4 6.6 .5 -3.9 .4 2.8 .4 1.9 .4 -5.2 .4 -2.1 .4 -2.8 .5 3.7 .4 -1.1 .4 4.6 .4 4.6 .4 -2.9 .4 -3.6 .4 3.5 .5 -7.9 .4 2.3 .4 5.1 .4 -6.8 .4 3.9 .4 -4.9 .5 8 .4 -3.2 .4 -1.3 .4 4 .4 -4 .4 -2.8 .5 5.8 .4 -.8 .4 4.2 .4 -2.2 .4 -2.5 .4 6.4 .4 -2.6 .5 2.7 .4 -4.5 .4 -2.5 .4 1.7 .4 2.4 .4 2.3 .5 2.2 .4 -5.3 .4 -5.2 .4 5.9 .4 -.7 .4 1.4 .4 2.3 .5 -7.6 .4 -.1 .4 8.7 .4 -.7 .4 -8.5 .4 7.6 .5 -2.6 .4 3.4 .4 -4.6 .4 4.1 .4 -.5 .4 1.6 .5 -10 .4 -2.3 .4 8 .4 -1.4 .4 .1 .4 1.9 .4 .2 .5 .9 .4 -3.7 .4 6.8 .4 -1 .4 -5.1 .4 7.3 .5 -10.7 .4 6.4 .4 -1.1 .4 -3.4 .4 4.7 .4 -.7 .5 2.4 .4 -4 .4 -1 .4 5.3 .4 -5.3 .4 -1.1 .4 1.4 .5 4.4 .4 -5.8 .4 -1.3 .4 6.4 .4 4.8 .4 -3.9 .5 -2.5 .4 -3.8 .4 .3 .4 1.5 .4 4.3 .4 -4.9 .4 2.6 .5 3.6 .4 4.7 .4 -10.8 .4 8 .4 -10 .4 -3.8 .5 7.6 .4 3.2 .4 -2 .4 1.9 .4 -3.5 .4 -2 .5 6 .4 -1.4 .4 1.3 .4 -6.4 .4 .1 .4 6.5 .4 -1.1 .5 -2.1 .4 6.8 .4 -3.9 .4 -2.3 .4 5.5 .4 -5.5 .5 2.5 .4 .2 .4 -5.4 .4 6.9 .4 -5 .4 2.3 .4 -4.4 .5 6.4 .4 -4.8 .4 0 .4 -2.2 .4 -1.6 .4 10.9 .5 -5.4 .4 3.2 .4 -7 .4 -1.7 .4 5.9 .4 -1.9 .5 -3.8 .4 4 .4 1.4 .4 5.4 .4 -3.2 .4 -6 .4 8.6 .5 -6.3 .4 .2 .4 -5.6 .4 4 .4 5.3 .4 -7.7 .5 6.1 .4 -4.7 .4 5.4 .4 -2.7 .4 2.3 .4 -6.7 .5 9.5 .4 -1.6 .4 -7.1 .4 2.3 .4 2.4 .4 .8 .4 3.6 .5 -3.5 .4 -2.3 .4 -3 .4 1.1 .4 -2.1 .4 3.7 .5 4 .4 -1.5 .4 -6.3 .4 4.8 .4 -4.3 .4 10.3 .4 -3.8 .5 .8 .4 -3.6 .4 4 .4 1.9 .4 -4.6 .4 7.6 .5 -5.9 .4 -3.4 .4 5.3 .4 -3.9 .4 3 .4 -2.3 .5 -2.2 .4 -.7 .4 -.1 .4 3.8 .4 -7.7 .4 4.1 .4 2.8 .5 -6.7 .4 6 .4 -8.3 .4 4.2 .4 3.5 .4 1.2 .5 1.1 .4 0 .4 -4 .4 -3.6 .4 4.1 .4 .8 .5 -6.7 .4 7.9 .4 3.2 .4 1 .4 -10.2 .4 5.9 .4 -6.5 .5 -.6 .4 5.7 .4 -1.6 .4 4.3 .4 -1 .4 -1 .5 .3 .4 -5.2 .4 5.8 .4 -3.4 .4 2.7 .4 -2.1 .4 -4.4 .5 11.7 .4 -9.5 .4 6 .4 -2.9 .4 1.8 .4 .4 .5 3.1 .4 4.5 .4 -16.7 .4 9.2 .4 -5 .4 10.2 .5 -8.9 .4 -2.8 .4 4.3 .4 7.5 .4 -3.8 .4 -2.6 .4 1 .5 -4 .4 7.3 .4 -1.1 .4 6.1 .4 -12.8 .4 1.5 .5 3.8 .4 5 .4 -9.3 .4 8.5 .4 -.3 .4 2.1 .5 -1.6 .4 -1.6 .4 .6 .4 -7.8 .4 1.6 .4 2.2 .4 2.4 .5 -1.7 .4 4.1 .4 -6.1 .4 4.7 .4 -1.3 .4 -3 .5 4.7 .4 1.7 .4 -8.6 .4 10.1 .4 -1.4 .4 -.5 .4 -2 .5 -2.5 .4 11.3 .4 -9.8 .4 -6.7 .4 .9 .4 1.3 .5 3.3 .4 -1.2 .4 3 .4 3.9 .4 -7.5 .4 -2.8 .5 2.7 .4 1.3 .4 -2.9 .4 1.9 .4 -3 .4 5.6 .4 5.1 .5 -8.3 .4 -1.2 .4 6.2 .4 -3.7 .4 -1.5 .4 12.3 .5 -18.8 .4 6 .4 4 .4 3.7 .4 1.6 .4 -17.8 .4 13.7 .5 -3.7 .4 4.8 .4 -1.2 .4 -3.5 .4 6.1 .4 -3.1 .5 .4 .4 -2.4 .4 -1.5 .4 3.6 .4 -6 .4 6.6 .5 -.3 .4 -1.9 .4 1.1 .4 -3.7 .4 12.9 .4 -3.8 .4 1.5 .5 -12.7 .4 2.2 .4 5.4 .4 -4 .4 7.7 .4 -5.5 .5 -6.7 .4 3.1 .4 -5.7 .4 9.2 .4 -6.2 .4 3.8 .5 -.7 .4 -.3 .4 -1.8 .4 -1.9 .4 4.3 .4 -.8 .4 2 .5 -.9 .4 3.7 .4 -6.6 .4 1.1 .4 1.6 .4 1.1 .5 2.5 .4 .4 .4 .8 .4 -.8 .4 -6.1 .4 1.2 .4 6.6 .5 -1.6 .4 -7.4 .4 -2.3 .4 3.3 .4 -4.7 .4 10.3 .5 -4 .4 3.7 .4 -10.2 .4 10 .4 -3.4 .4 .1 .5 4 .4 -2.9 .4 7.9 .4 -6.7 .4 1.8 .4 -6.7 .4 -1.8 .5 3.8 .4 4.5 .4 .2 .4 -6.9 .4 3.6 .4 -.3 .5 2.9 .4 -4.7 .4 -.3 .4 -2 .4 6.1 .4 -3.2 .5 5.4 .4 -6 .4 3.8 .4 -1.8 .4 -4.8 .4 7.7 .4 -10.2 .5 4.4 .4 -.5 .4 1.1 .4 3.7 .4 -.3 .4 -5.3 .5 3.4 .4 -1 .4 2.4 .4 -4.3 .4 .7 .4 7 .4 -11.7 .5 3.2 .4 .9 .4 1.8 .4 1.4 .4 -3.3 .4 -5.9 .5 10.1 .4 3.7 .4 -3.8 .4 -.4 .4 -3 .4 7.8 .5 -3 .4 -.1 .4 -4.6 .4 -.8 .4 3.1 .4 -2.7 .4 3.7 .5 -.2 .4 8.8 .4 -5.2 .4 .7 .4 -5.4 .4 1.6 .5 4.4 .4 -3.8 .4 .8 .4 -1.6 .4 3.5 .4 .7 .5 -7.2 .4 5.5 .4 -4.6 .4 9.2 .4 -4.8 .4 .4 .4 2.6 .5 -6.4 .4 7.4 .4 -6.5 .4 9.3 .4 -10.1 .4 2.3 .5 -4.2 .4 -3.2 .4 10 .4 -2.6 .4 4.6 .4 -3.1 .4 -1.7 .5 .2 .4 -2.6 .4 1.2 .4 -1.9 .4 6.1 .4 -2.7 .5 4.1 .4 -3 .4 9.4 .4 -9.5 .4 -.7 .4 2.1 .5 -.4 .4 4.6 .4 -3.6 .4 -.3 .4 -2.9 .4 -.5 .4 3.1 .5 -1.3 .4 -2.2 .4 4.2 .4 -6.9 .4 -3.6 .4 5.9 .5 3.2 .4 -2.7 .4 -2.8 .4 -.7 .4 9.9 .4 -6.1 .4 3.9 .5 -1 .4 -2.6 .4 -1 .4 2.6 .4 2.3 .4 -2.2 .5 2.7 .4 -9.5 .4 11.7 .4 -7.8 .4 1.7 .4 .5 .5 4.2 .4 -1.9 .4 -.7 .4 .6 .4 -.8 .4 -1.8 .4 2.2 .5 -3.2 .4 -1.1 .4 4.6 .4 -4.8 .4 -8.5 .4 13 .5 -3.8 .4 -2.5 .4 4.8 .4 5.6 .4 -9.5 .4 -.7 .5 7.4 .4 -3.3 .4 -2.1 .4 9.8 .4 -11.1 .4 .1 .4 -.2 .5 -2.3 .4 9 .4 -6.9 .4 -4.5 .4 16.3 .4 -6.8 .5 -3.8 .4 5.2 .4 4.2 .4 -7.9 .4 .5 .4 3.4 .4 -3.3 .5 -2.2 .4 -.4 .4 2 .4 6.1 .4 -3 .4 7.2 .5 -4.4 .4 -4.3 .4 -1.7 .4 2.3 .4 0 .4 7.1 .5 -2.7 .4 -3.1 .4 .3 .4 .1 .4 -10 .4 4.5 .4 7.4 .5 -1.3 .4 -1.8 .4 1.9 .4 -.3 .4 5.7 .4 -11.6 .5 1.6 .4 -.1 .4 1.8 .4 -1.1 .4 3.1 .4 5.8 .5 -7.8 .4 .6 .4 4.7 .4 3.5 .4 -11.9 .4 7.5 .4 -2.9 .5 1.9 .4 -8.2 .4 10.8 .4 -9.2 .4 13 .4 -12.6 .5 5.1 .4 6.4 .4 -8.2L726.3 425.7 311.0 425.7Z" fill="#fff" stroke="#10ee10" stroke-width="1.66" stroke-linejoin="round" stroke-dasharray="4047.96 99999"/><path d="M289.2 407.9l.4 -5.2 .5 10.9 .4 -5.9 .4 .6 .5 3.7 .4 -6.5 .4 6.5 .4 -.7 .5 1.8 .4 -12.2 .4 6.5 .4 -3 .5 5.9 .4 2.4 .4 -8.6 .4 7.7 .5 -4.6 .4 -3.5 .4 3.2 .5 9.4 .4 -2.7 .4 -1 .4 -5.7 .5 5.9 .4 -5.7 .4 2.3 .4 .1 .5 1 .4 3 .4 -7.5 .4 5 .5 -4.9 .4 7.2 .4 4.8 .4 -11.1 .5 8.8 .4 -10.1 .4 7 .5 -.9 .4 .6 .4 2.9 .4 .4 .5 -5.3 .4 3.3 .4 -8.9 .4 5.8 .5 -4.7 .4 6.8 .4 -4.6 .4 5.1 .5 1.3 .4 -2.1 .4 -7.8 .5 -2.6 .4 8.7 .4 2.9 .4 -5.5 .5 3 .4 -1.1 .4 -2.2 .4 3.4 .5 2.2 .4 2.2 .4 -5 .4 -2.2 .5 1.5 .4 -3.2 .4 5.8 .4 -3.3 .5 4.5 .4 3.9 .4 -9.1 .5 3.9 .4 -8.9 .4 10 .4 3.2 .5 .3 .4 -5 .4 1.4 .4 -1.6 .5 -2.7 .4 2 .4 -1.8 .4 2.3 .5 1.9 .4 1.1 .4 4.5 .5 -10.3 .4 -1.9 .4 7.5 .4 -.1 .5 -.4 .4 -3.9 .4 .8 .4 1.1 .5 -.3 .4 6 .4 -5.6 .4 .3 .5 -2 .4 4.6 .4 -.6 .4 -2.8 .5 -8.7 .4 12.2 .4 -9.7 .5 10.9 .4 -4.1 .4 3.5 .4 -10.8 .5 6.9 .4 -.7 .4 -2.6 .4 -1.5 .5 7 .4 -2.9 .4 2.9 .4 -5.8 .5 12.3 .4 -15.9 .4 9.2 .5 6.8 .4 -8 .4 4.4 .4 -3 .5 -.3 .4 -3.4 .4 10.9 .4 -7.8 .5 -2.5 .4 9.1 .4 -7.6 .4 .3 .5 5 .4 5.1 .4 -7.4 .4 2.9 .5 -7.1 .4 7 .4 -2.9 .5 1.2 .4 .5 .4 5.5 .4 -1.7 .5 -3 .4 .7 .4 -.1 .4 -3.1 .5 3.2 .4 -2.5 .4 2.5 .4 -1.2 .5 3.4 .4 3.7 .4 -8.9 .5 0 .4 1.4 .4 4.6 .4 -7.1 .5 3.7 .4 -.4 .4 2.9 .4 -.4 .5 .7 .4 -3.7 .4 3.8 .4 -2.5 .5 1.9 .4 2.9 .4 -4.5 .4 -.2 .5 .2 .4 10.7 .4 -14.5 .5 4 .4 -.7 .4 -6.2 .4 7 .5 -2.7 .4 1.9 .4 8.8 .4 -12.9 .5 8.6 .4 -8.2 .4 4.5 .4 2.7 .5 5.7 .4 -6.9 .4 2 .4 -3.6 .5 4.1 .4 -6.2 .4 4.2 .5 -.1 .4 -8.7 .4 4.2 .4 5.2 .5 -3.5 .4 7 .4 -3 .4 -2.3 .5 2.2 .4 .7 .4 -5.9 .4 4.6 .5 1.1 .4 -.8 .4 -.1 .5 -5.5 .4 1.8 .4 6.4 .4 -10.1 .5 .9 .4 4.8 .4 2.6 .4 -3.6 .5 2 .4 -4.1 .4 1.8 .4 -5.1 .5 10.6 .4 -.5 .4 -6.2 .4 -.8 .5 3.1 .4 2.5 .4 -11 .5 7.6 .4 -3.3 .4 5.2 .4 -1.5 .5 -1 .4 -6.4 .4 1.1 .4 -2.4 .5 2 .4 0 .4 6.4 .4 1.7 .5 -7.2 .4 7 .4 -1.4 .5 1.6 .4 1.4 .4 -4 .4 3.8 .5 -2.1 .4 -3.8 .4 3.7 .4 -4.4 .5 5.2 .4 -2.9 .4 4.8 .4 -8.2 .5 12.2 .4 -8.9 .4 -.9 .4 11.3 .5 -3.2 .4 -.5 .4 -5 .5 .8 .4 .6 .4 -3.4 .4 -6.5 .5 12.1 .4 -4.6 .4 1.1 .4 -7.6 .5 15.9 .4 -8.3 .4 4.6 .4 0 .5 -4.7 .4 2.6 .4 5.6 .5 -4.6 .4 2.9 .4 -3.1 .4 -1.8 .5 1.7 .4 -7.3 .4 -10.5 .4 13 .5 7.2 .4 -10.8 .4 -2.2 .4 8.3 .5 -2.3 .4 -2.7 .4 3.2 .4 -3.7 .5 2.7 .4 4.5 .4 -.4 .5 -.8 .4 1.7 .4 -5 .4 1.6 .5 1.8 .4 -3.8 .4 2.6 .4 -3.9 .5 -1.9 .4 5.5 .4 3.2 .4 2.4 .5 -10.7 .4 5 .4 3.8 .5 -1.5 .4 3.8 .4 -8.3 .4 3.8 .5 2.4 .4 4.3 .4 -13 .4 7.3 .5 8.6 .4 -6.1 .4 -1.9 .4 -.8 .5 4.4 .4 -15.3 .4 9.5 .4 1.6 .5 2.7 .4 3.7 .4 -4.6 .5 -.9 .4 3.6 .4 -5.3 .4 -1.6 .5 4.6 .4 0 .4 -1.4 .4 -6 .5 .9 .4 11.3 .4 -4 .4 -10.9 .5 10.6 .4 -7.8 .4 4.3 .4 -2.4 .5 5.6 .4 -1.7 .4 -1.4 .5 1.9 .4 -.3 .4 -5.6 .4 5.8 .5 -5.1 .4 6.9 .4 -.9 .4 -3.7 .5 1 .4 -1.5 .4 3.7 .4 .2 .5 1.5 .4 4 .4 -4.1 .5 -5.2 .4 4.1 .4 -1.3 .4 -4 .5 7.9 .4 -4.2 .4 3.8 .4 -6.1 .5 9.2 .4 -4.3 .4 .6 .4 -.6 .5 1 .4 -8.9 .4 7.4 .4 -.5 .5 4.7 .4 -.3 .4 -1.8 .5 1.8 .4 3 .4 -4.9 .4 -.6 .5 -1.3 .4 2.8 .4 1.1 .4 -2.3 .5 -3.1 .4 1 .4 2.4 .4 -8.7 .5 4.4 .4 -1.4 .4 -3 .5 8.9 .4 -6.6 .4 2.9 .4 -.1 .5 6.2 .4 -2.3 .4 -2.7 .4 .2 .5 -5.8 .4 6.9 .4 -2.1 .4 1.9 .5 3.7 .4 -3.6 .4 -1.5 .4 -5.8 .5 1.9 .4 6.1 .4 1.9 .5 -3 .4 2.1 .4 -11 .4 6 .5 3.2 .4 1.5 .4 2.1 .4 -3.2 .5 8.7 .4 -7.8 .4 .2 .4 -7.1 .5 11.8 .4 -9.5 .4 3.8 .5 -2.9 .4 5.5 .4 -4.3 .4 -1.6 .5 -6.1 .4 12 .4 -2.1 .4 -.2 .5 1.8 .4 -1.5 .4 -.3 .4 1.2 .5 4.9 .4 -7 .4 6.3 .4 -4.8 .5 -4 .4 8.3 .4 -4.5 .5 -1.2 .4 .9 .4 1.6 .4 -2 .5 -2.5 .4 5.5 .4 -3.1 .4 -3 .5 5 .4 2.3 .4 .6 .4 -6.9 .5 -.9 .4 3.3 .4 1.9 .5 -7.9 .4 1 .4 2 .4 4.7 .5 -1.9 .4 3.4 .4 .6 .4 -4.4 .5 -1 .4 -.9 .4 1.6 .4 -6.6 .5 10.5 .4 -8.3 .4 5.9 .4 -4.2 .5 7 .4 -11.4 .4 2.7 .5 10.8 .4 -9.9 .4 4 .4 -2.5 .5 3.1 .4 .1 .4 11.1 .4 -9.7 .5 -1.5 .4 5.4 .4 -2.2 .4 -3.9 .5 -1.9 .4 3.2 .4 -6.7 .4 6.6 .5 -4.1 .4 -2.4 .4 7.4 .5 -6.8 .4 4.6 .4 2.8 .4 -8.4 .5 -.1 .4 7 .4 -4.7 .4 .1 .5 3.6 .4 -7.9 .4 8.7 .4 1.9 .5 -2.1 .4 .1 .4 1 .5 -.6 .4 4 .4 -6.8 .4 6.9 .5 -8.6 .4 1.5 .4 4.1 .4 -.1 .5 1.3 .4 -2.4 .4 -6.4 .4 5.3 .5 2.7 .4 -7.3 .4 7.8 .4 .1 .5 -9 .4 5.8 .4 -1.4 .5 2.1 .4 .2 .4 -.5 .4 0 .5 -5.9 .4 12.2 .4 4.8 .4 -7.4 .5 4.1 .4 -5.9 .4 4.5 .4 -4 .5 -3.8 .4 5.4 .4 .8 .5 -5.3 .4 5.8 .4 -2.3 .4 .5 .5 3.6 .4 -7.9 .4 7.5 .4 -7 .5 2 .4 4.8 .4 -1.9 .4 -4.3 .5 4.3 .4 -9 .4 11.4 .4 -7.9 .5 10.1 .4 -4.7 .4 -.5 .5 6.7 .4 -7.8 .4 5.3 .4 .5 .5 -2.1 .4 -.2 .4 -.3 .4 .6 .5 .9 .4 6.5 .4 -14.2 .4 -2.8 .5 5.9 .4 2.7 .4 2.3 .5 -4.4 .4 -.1 .4 3.9 .4 -2.6 .5 -3.2 .4 1.5 .4 -5.7 .4 6.2 .5 3.3 .4 -2.5 .4 -.3 .4 3 .5 -2.4 .4 -4 .4 -.4 .4 11.6 .5 -2.9 .4 -8.7 .4 2.2 .5 0 .4 6.1 .4 -5.1 .4 -1.7 .5 .3 .4 4.4 .4 -.8 .4 -3.3 .5 -11.3 .4 8 .4 12.7 .4 -5.9 .5 -6.9 .4 8.8 .4 -4.8 .5 -4.7 .4 8.8 .4 -5.2 .4 -5.8 .5 11.4 .4 -2.1 .4 -6.3 .4 5.6 .5 -1.9 .4 -.5 .4 -3.6 .4 5.5 .5 -4.6 .4 .6 .4 2.7 .4 -4 .5 2.7 .4 1.6 .4 -11.4 .5 17.7 .4 -3.3 .4 -.3 .4 -2.5 .5 -2.2 .4 1 .4 -8.8 .4 10 .5 2.2 .4 -3.7 .4 1.2 .4 .3 .5 -4.9 .4 2.2 .4 -3 .4 8.2 .5 -5.8 .4 2.2 .4 2.4 .5 3.5 .4 -5 .4 3.5 .4 -6.6 .5 1.1 .4 0 .4 -8.5 .4 5.7 .5 11.8 .4 -9.4 .4 1.3 .4 .5 .5 2.6 .4 -10.9 .4 19.2 .5 -5.4 .4 -6.9 .4 1.8 .4 -2.6 .5 4.7 .4 .6 .4 -4.4 .4 2.2 .5 6.7 .4 -9.5 .4 7.4 .4 -7.4 .5 2.5 .4 -.8 .4 -1.5 .4 7.2 .5 -5.9 .4 2.4 .4 .5 .5 -.8 .4 2.2 .4 -4.7 .4 1.9 .5 -50.4 .4 47.5 .4 3.5 .4 4.8 .5 -5.8 .4 -.3 .4 7.5 .4 -6.6 .5 2.5 .4 -2.1 .4 1.9 .5 -2.2 .4 1 .4 9 .4 -8.6 .5 -1.8 .4 -.2 .4 -2 .4 3.4 .5 -3.8 .4 1.6 .4 4.6 .4 1 .5 -7 .4 2.1 .4 8.9 .4 -2.5 .5 -7.9 .4 3.7 .4 6.5 .5 -7.8 .4 -2.1 .4 1.1 .4 2.9 .5 .3 .4 .9 .4 0 .4 -2.9 .5 -8.1 .4 .8 .4 8.7 .4 10.9 .5 -11.4 .4 .4 .4 -.1 .5 5.1 .4 -5.8 .4 2 .4 -2.8 .5 5.7 .4 -6 .4 4.1 .4 -1.2 .5 -1.1 .4 -.3 .4 0 .4 -.2 .5 4.1 .4 -4 .4 -1 .4 -1 .5 -8.1 .4 3.6 .4 5.4 .5 2.7 .4 -8.9 .4 4.3 .4 -1.3 .5 -2.8 .4 11.3 .4 -5 .4 -2.8 .5 -4 .4 5.4 .4 -.6 .4 .2 .5 -.1 .4 -1.1 .4 2.6 .5 .3 .4 -1.1 .4 -3.9 .4 -2.2 .5 3.8 .4 1.4 .4 -5.1 .4 2.5 .5 -.4 .4 3.1 .4 .8 .4 -3.4 .5 2.3 .4 -5 .4 7.6 .4 -4.3 .5 1.4 .4 3.6 .4 -2.2 .5 2.7 .4 -6.9 .4 4.6 .4 -10.4 .5 13.1 .4 -5.8 .4 4 .4 -3.2 .5 2.7 .4 3.8 .4 -9.9 .4 1.1 .5 10.1 .4 -5.6 .4 1.1 .4 4.3 .5 -6.5 .4 -1 .4 1.5 .5 -1.2 .4 -4.6 .4 8.2 .4 -6.2 .5 -3.4 .4 18.3 .4 -9.5 .4 -5.8 .5 3.9 .4 3 .4 -7.4 .4 2.7 .5 8.9 .4 -8.4 .4 3.8 .5 -1.5 .4 5 .4 -6.5 .4 -.5 .5 6.3 .4 -2 .4 -6.3 .4 -.3 .5 11 .4 -7.1 .4 3 .4 .8 .5 -2.8 .4 -4.6 .4 3.3 .4 5.1 .5 -3.6 .4 -1.5 .4 -2.5 .5 3.9 .4 -.9 .4 -.4 .4 -1.5 .5 9.4 .4 -12 .4 4.3 .4 1 .5 4 .4 -.4 .4 -10.9 .4 -3.1 .5 16.2 .4 -7.5 .4 1.3 .5 .1 .4 5.3 .4 -7 .4 -.6 .5 17.9 .4 -16 .4 -2 .4 5.7 .5 4.5 .4 -8.1 .4 -7.4 .4 6.3 .5 -6.7 .4 6.9 .4 2.1 .4 1.7 .5 -7.4 .4 10 .4 -2.7 .5 -.6 .4 -2.5 .4 .5 .4 5.4 .5 -1 .4 -10.1 .4 5.8 .4 .2 .5 1.6 .4 -1.8 .4 3.7 .4 -6.5 .5 .5 .4 2.9 .4 -3.6 .5 -3.1 .4 8.2 .4 -5.3 .4 3.9 .5 3 .4 -8.7 .4 6.7 .4 -2.1 .5 -3.9 .4 10.3 .4 -3.3 .4 -4.9 .5 4.8 .4 .6 .4 -1.2 .4 .6 .5 -.1 .4 -2.7 .4 .8 .5 -6 .4 5.1 .4 -5 .4 5.5 .5 -6.2 .4 7 .4 -4.9 .4 4.1 .5 -5 .4 9 .4 -1.1 .4 -3 .5 5.2 .4 -8.6 .4 6 .5 -2.6 .4 -1.8 .4 1.4 .4 4.5 .5 2.4 .4 1.5 .4 -2.7 .4 -.6 .5 .2 .4 -4.8 .4 6.5 .4 1.1 .5 -6.6 .4 -5.9 .4 10 .4 -3.2 .5 0 .4 -4 .4 .5 .5 5 .4 -5 .4 3 .4 -3 .5 -3.4 .4 14.4 .4 -2.9 .4 -.6 .5 -10.7 .4 5 .4 -.2 .4 -6 .5 1 .4 3.8 .4 1.9 .5 -2.9 .4 .7 .4 3.2 .4 -4.3 .5 4.3 .4 -1.9 .4 .1 .4 1.6 .5 .1 .4 -2.4 .4 .6 .4 4.2 .5 -10.6 .4 .3 .4 .2 .4 1.6 .5 4.4 .4 3 .4 .7 .5 2.6 .4 -5.1 .4 4.6 .4 -6.6 .5 -.5 .4 3 .4 -.3 .4 -1.7 .5 -2.1 .4 3.4 .4 -7.2 .4 9.4 .5 -.9 .4 -.4 .4 -1 .4 -1.5L715.2 450.9 289.2 450.9Z" fill="#fff" stroke="#80ff00" stroke-width="1.63" stroke-linejoin="round" stroke-dasharray="4418.44 99999"/><path d="M266.3 425.6l.4 -2.8 .4 4 .5 1.1 .4 -11.9 .4 8.3 .5 .4 .4 6.2 .5 -12.3 .4 15.3 .4 -11.2 .5 3.1 .4 3 .5 .6 .4 -3.2 .4 2.3 .5 4.9 .4 -11.3 .4 9.9 .5 -4.9 .4 1.1 .5 -7.7 .4 11.9 .4 -9.7 .5 1.8 .4 12.8 .4 -5.8 .5 -2.7 .4 1.8 .5 -4.8 .4 -8.2 .4 5.4 .5 6.5 .4 -4.8 .4 3.2 .5 -2.8 .4 2.5 .5 -.4 .4 1.3 .4 -3.4 .5 1.1 .4 4.2 .4 4.2 .5 -12 .4 .5 .5 3 .4 -4.8 .4 4.9 .5 .6 .4 .9 .5 -6.6 .4 -1.9 .4 7.5 .5 1.4 .4 -6.4 .4 .6 .5 1 .4 7.5 .5 -6.6 .4 .3 .4 -4 .5 3.3 .4 2.1 .4 -2.3 .5 2 .4 .9 .5 -7.3 .4 7.1 .4 -2.4 .5 -14.6 .4 20.3 .4 -3.1 .5 2.7 .4 -2.7 .5 3.9 .4 -7.8 .4 3.3 .5 4.6 .4 -6 .4 5.6 .5 1.4 .4 -8.8 .5 3.5 .4 3.4 .4 -5.7 .5 .9 .4 10.7 .4 -13.2 .5 2.5 .4 -3.6 .5 3.8 .4 .3 .4 11.9 .5 -9.2 .4 -8.3 .5 9.5 .4 -1.5 .4 1.5 .5 5.5 .4 -9 .4 -4.8 .5 1.1 .4 7.6 .5 2.4 .4 -1.1 .4 -4.2 .5 3.7 .4 -4.3 .4 1.9 .5 5.7 .4 -.4 .5 -7.6 .4 7.7 .4 -4.5 .5 -6 .4 5.8 .4 1.2 .5 -.8 .4 -2 .5 10.8 .4 -8.8 .4 -.3 .5 3.9 .4 .4 .4 -7.7 .5 6.9 .4 -.7 .5 -4.5 .4 8.4 .4 -13.9 .5 9 .4 3 .5 3.1 .4 -2.9 .4 1.6 .5 -2.1 .4 2.6 .4 5.5 .5 -13.6 .4 1.9 .5 0 .4 .5 .4 -.3 .5 5.2 .4 -13.7 .4 12.7 .5 2.3 .4 -7.1 .5 3.8 .4 -1.7 .4 4.2 .5 -2.7 .4 -2.9 .4 .7 .5 6.1 .4 -7.3 .5 6.2 .4 3.3 .4 -9.5 .5 2.4 .4 2.5 .4 2.3 .5 -5.6 .4 3.6 .5 9.8 .4 -12.5 .4 1.1 .5 5.7 .4 -9.4 .4 11.1 .5 -3.3 .4 -4.4 .5 1.9 .4 -3.4 .4 .5 .5 11.1 .4 -13.9 .5 6.8 .4 -2.1 .4 -3.7 .5 8 .4 -6.7 .4 .3 .5 .8 .4 3.4 .5 -8.2 .4 4.5 .4 -.9 .5 2.2 .4 -.5 .4 -3.3 .5 9.1 .4 -8.6 .5 4 .4 .1 .4 4.9 .5 -3.8 .4 10.1 .4 -8 .5 -3.2 .4 -.4 .5 3.5 .4 2.7 .4 -4.7 .5 -.8 .4 -1.3 .4 4.4 .5 1.3 .4 2 .5 -6.8 .4 2.7 .4 -11.6 .5 14.3 .4 -10.3 .5 5.6 .4 .4 .4 -1.1 .5 -2.5 .4 -.1 .4 10 .5 -4.8 .4 -3.7 .5 -.3 .4 1.4 .4 4.4 .5 -4.7 .4 2.5 .4 -.9 .5 -4.4 .4 5.2 .5 -2 .4 -3.7 .4 2.1 .5 8.3 .4 -1 .4 3.5 .5 -11.9 .4 4.3 .5 1.7 .4 -1.7 .4 3.9 .5 -6.4 .4 4.8 .4 -6.9 .5 2.5 .4 -3.4 .5 2.3 .4 3.1 .4 -.7 .5 -4.5 .4 -1.7 .4 4.3 .5 -3 .4 11.3 .5 -6.3 .4 .5 .4 1.7 .5 -3.7 .4 -4.9 .5 5.5 .4 -2.1 .4 5.1 .5 -6.2 .4 4.8 .4 2.9 .5 -6.4 .4 .9 .5 4.8 .4 -8.1 .4 4.6 .5 6.1 .4 -4.2 .4 4.5 .5 -4.4 .4 -.3 .5 2 .4 -2.8 .4 4.8 .5 3.9 .4 -11.5 .4 -.2 .5 0 .4 4.6 .5 -3 .4 2.6 .4 -5.7 .5 8.9 .4 -5 .4 2.7 .5 -4.4 .4 1.7 .5 7 .4 -5.4 .4 2.2 .5 -5.2 .4 -1.4 .5 7.6 .4 -5.9 .4 10.6 .5 -7.5 .4 -3.8 .4 -2.4 .5 16.3 .4 -14.4 .5 4.1 .4 -1.3 .4 -3.3 .5 1.8 .4 -.1 .4 -1.1 .5 -4.8 .4 .8 .5 -.3 .4 4 .4 4.1 .5 1.6 .4 -5 .4 4.6 .5 3.2 .4 -6.6 .5 -2.5 .4 1.3 .4 -.2 .5 .7 .4 -1.2 .4 5.4 .5 -6.2 .4 -4.3 .5 4.2 .4 -.3 .4 1.1 .5 -1.6 .4 5.7 .4 3.2 .5 -5.5 .4 -1.6 .5 -2.2 .4 5.2 .4 -3.7 .5 .7 .4 -3.1 .5 4.3 .4 -3.8 .4 -.4 .5 3.1 .4 -.6 .4 -1.3 .5 3.1 .4 -.3 .5 1.7 .4 -6.6 .4 1.1 .5 2.2 .4 -.9 .4 .2 .5 -5.6 .4 2.5 .5 4.5 .4 -3.9 .4 8.6 .5 -4.4 .4 1.2 .4 -3.9 .5 3 .4 1 .5 .1 .4 2.7 .4 -.6 .5 -1.2 .4 -4.8 .4 .5 .5 -1.8 .4 -3.2 .5 3 .4 9.9 .4 -4.6 .5 -7.8 .4 5.3 .5 -1.1 .4 .8 .4 5.7 .5 -6.4 .4 1.8 .4 3.1 .5 -4.9 .4 -4.9 .5 7.3 .4 4.1 .4 -4.3 .5 2.6 .4 5.4 .4 -6.8 .5 -3.2 .4 4.6 .5 -2.7 .4 0 .4 1.4 .5 -.3 .4 -.4 .4 .2 .5 13.3 .4 -15.7 .5 3.9 .4 1.6 .4 -4.6 .5 4.7 .4 -10.2 .4 1.3 .5 -.4 .4 6.4 .5 -.4 .4 -2.3 .4 2 .5 1.8 .4 .8 .4 2 .5 .1 .4 -6.8 .5 12.1 .4 -15.1 .4 3 .5 4.8 .4 -7.1 .5 -.3 .4 2.8 .4 13.3 .5 -1.2 .4 -14.5 .4 11.8 .5 -5.7 .4 2.9 .5 -2.7 .4 -9 .4 10.4 .5 6.3 .4 -6 .4 3.1 .5 -7.2 .4 6.3 .5 -4.5 .4 -.6 .4 2.7 .5 2.8 .4 -3.5 .4 .9 .5 -3.6 .4 6.2 .5 .7 .4 -7 .4 4.6 .5 -6.2 .4 -.6 .4 11.5 .5 -7.6 .4 .7 .5 .2 .4 -3.3 .4 -4.1 .5 8.1 .4 -.4 .5 -3.3 .4 -.3 .4 3.3 .5 -3.6 .4 -2.2 .4 7.2 .5 -6.7 .4 7.3 .5 -7.8 .4 3 .4 5 .5 2 .4 -3.9 .4 -1 .5 .2 .4 .9 .5 -.6 .4 .9 .4 0 .5 -2 .4 2.3 .4 -3 .5 4.7 .4 .9 .5 -7.9 .4 5.6 .4 -3.2 .5 4.3 .4 1.7 .4 -.1 .5 -1.7 .4 -8 .5 7.3 .4 -3.4 .4 2.3 .5 -1.9 .4 4.9 .4 -8.7 .5 3.2 .4 1.9 .5 -4.5 .4 8.3 .4 -3.2 .5 -3.9 .4 -4 .5 7.9 .4 -8.5 .4 2.4 .5 4.4 .4 -1.7 .4 -2.5 .5 7.7 .4 -9.3 .5 11.2 .4 -11.2 .4 1 .5 -1.6 .4 3.2 .4 2.1 .5 7.7 .4 -12.7 .5 4 .4 -1 .4 4.9 .5 6.4 .4 -9.9 .4 5.1 .5 -2.6 .4 -2.4 .5 7 .4 -6.7 .4 4.3 .5 -.4 .4 -4.9 .4 7.9 .5 -2.9 .4 -1.3 .5 -4.5 .4 4 .4 -2.7 .5 6.9 .4 1.3 .4 -4.9 .5 -6.4 .4 4.2 .5 3.1 .4 .7 .4 -7 .5 2.6 .4 7.9 .5 2.5 .4 -14.4 .4 6.5 .5 .8 .4 -.2 .4 .6 .5 .5 .4 -.2 .5 7.1 .4 -6.2 .4 .6 .5 -5.5 .4 .3 .4 5 .5 -.9 .4 -.7 .5 -7 .4 3.3 .4 6.3 .5 -8 .4 8.9 .4 -7.8 .5 3.6 .4 4.8 .5 -2.5 .4 -1 .4 -4.6 .5 -.6 .4 11.4 .4 -4.1 .5 -6.1 .4 2.2 .5 -.2 .4 -3.7 .4 2.5 .5 -2.4 .4 6.2 .5 6.8 .4 -10 .4 4 .5 4.1 .4 -6.1 .4 3 .5 -2.8 .4 7.8 .5 -9.7 .4 2 .4 -.9 .5 3.2 .4 -.1 .4 -6.3 .5 1.3 .4 2.9 .5 4.6 .4 -6.3 .4 3.6 .5 -5 .4 5.1 .4 -3.3 .5 -.6 .4 3.2 .5 -3.8 .4 7 .4 -9.9 .5 6.6 .4 -.5 .4 -.9 .5 .7 .4 1.4 .5 -3.5 .4 3 .4 -.9 .5 -1.7 .4 1.4 .4 2.1 .5 -5.7 .4 -4.3 .5 9.3 .4 -131.9 .4 63.9 .5 20.2 .4 11.9 .5 2.3 .4 3.1 .4 -.7 .5 2 .4 -8.1 .4 12.1 .5 -4.3 .4 -.1 .5 10.6 .4 .7 .4 -8.6 .5 8.1 .4 -2.6 .4 9.4 .5 -5.1 .4 -2.3 .5 -4 .4 -2.7 .4 10.1 .5 -6.8 .4 6.3 .4 1.4 .5 0 .4 1.1 .5 1.1 .4 -1 .4 4.6 .5 -5.1 .4 -8.1 .4 15.1 .5 -10.4 .4 10.7 .5 -2.8 .4 -4.9 .4 2.5 .5 -2 .4 -.6 .5 6.4 .4 .9 .4 -4.2 .5 1.1 .4 -4 .4 14.5 .5 -10.7 .4 1.1 .5 3.4 .4 2.4 .4 .6 .5 .2 .4 -8.7 .4 5.6 .5 1.1 .4 -1.1 .5 -1.8 .4 -.4 .4 3.1 .5 1.2 .4 2.1 .4 -2.5 .5 .9 .4 1.8 .5 -1.2 .4 -5.7 .4 2.2 .5 2 .4 -3 .4 3.4 .5 -2.8 .4 4.5 .5 -.9 .4 -.2 .4 3.3 .5 3.4 .4 -2.4 .4 -1.9 .5 4.7 .4 -3.2 .5 1.8 .4 -3.2 .4 6.1 .5 -4.5 .4 -7.2 .5 3.4 .4 3.5 .4 -5.8 .5 7.1 .4 -4.7 .4 1.8 .5 2.8 .4 -3.7 .5 -6.8 .4 11.9 .4 .2 .5 -9.8 .4 8.9 .4 -2 .5 1.3 .4 1.3 .5 -4.6 .4 5.3 .4 .1 .5 -2.8 .4 -2.6 .4 -3.6 .5 4 .4 -2.3 .5 -1.9 .4 3.5 .4 -1.3 .5 4 .4 5.4 .4 -8.8 .5 7.2 .4 -6.4 .5 5.3 .4 1.5 .4 -4 .5 4.6 .4 -5.1 .5 .9 .4 -.3 .4 -6.5 .5 2.7 .4 4.1 .4 -3.6 .5 1.5 .4 2.7 .5 3.5 .4 -2.5 .4 -9.9 .5 7.2 .4 -1.9 .4 -4.1 .5 9.1 .4 -6.6 .5 13.4 .4 -5.6 .4 4.2 .5 -7.9 .4 -.2 .4 2.8 .5 -.3 .4 -13.2 .5 9.1 .4 -.2 .4 5 .5 -.5 .4 -3.7 .4 1.6 .5 -1.4 .4 -1.4 .5 7.4 .4 -8.3 .4 .4 .5 -1.2 .4 -.4 .4 -3.7 .5 8.1 .4 -2.1 .5 -6.9 .4 8.5 .4 -5.5 .5 6.5 .4 0 .5 2.2 .4 -3.4 .4 -8.3 .5 -3.9 .4 11.5 .4 -1.3 .5 -2.5 .4 8.3 .5 -2.2 .4 -.5 .4 6.1 .5 0 .4 -4.6 .4 -1.6 .5 .1 .4 7.8 .5 -10.1 .4 3.3 .4 -3.5 .5 -.3 .4 3 .4 -7.2 .5 13 .4 -6.3 .5 -.4 .4 -5.1 .4 5.4 .5 -2.1 .4 1 .4 -6.6 .5 8.6 .4 1.9 .5 -1.3 .4 -3.6 .4 -3.3 .5 14.3 .4 -3.9 .5 -10 .4 10.6 .4 -2.4 .5 -1 .4 1.6 .4 .8 .5 -4.3 .4 3.3 .5 -9.2 .4 25.2 .4 -20.3 .5 4.8 .4 -9 .4 9.9 .5 -5.4 .4 -4.1 .5 3.9 .4 4.8 .4 -2.1 .5 -1.5 .4 -4.7 .4 5.1 .5 -1.9 .4 6.2 .5 -11.7 .4 3.2 .4 5.6 .5 1.1 .4 -.1 .4 -6.2 .5 2.4 .4 .7 .5 4.3 .4 3.9 .4 -10.8 .5 5.2 .4 -4.7 .4 1.2 .5 4.6 .4 2.2 .5 -7.8 .4 11.5 .4 -9.7 .5 -3.3 .4 8.9 .5 -3.7 .4 -3.5 .4 -3.9 .5 11.7 .4 -3 .4 -3.9 .5 3.2 .4 3.1 .5 -6.3 .4 9.8 .4 -10 .5 3.8 .4 -.4 .4 2.4 .5 -1.6 .4 -4.7 .5 2.9 .4 -3.1 .4 2.4 .5 3.8 .4 -.6 .4 -1 .5 1.7 .4 -6.8 .5 9.6 .4 -11.1 .4 9.1 .5 .9 .4 -3.2 .4 4.9 .5 -11 .4 .2 .5 .8 .4 -1.1 .4 2 .5 11.4 .4 -11.6 .5 7.1 .4 -6.3 .4 4.4 .5 .5 .4 1.9 .4 -5.7 .5 -2.1 .4 8.1 .5 -5.6 .4 -.6 .4 -1.3 .5 3.9 .4 -5.1 .4 -.6 .5 2.2 .4 0 .5 0 .4 4.7 .4 -2.1 .5 -.4 .4 4 .4 -2.4 .5 -8.1 .4 -.5 .5 8.5 .4 1 .4 1.2 .5 -5.7 .4 2.6 .4 -4.4 .5 8.3 .4 -5 .5 2.8 .4 -3.1 .4 1.6 .5 6.4 .4 -10.1 .4 2.6 .5 -.3 .4 .5 .5 2.9 .4 -4 .4 -2.7 .5 -3 .4 6.1 .5 2.9 .4 -6.3 .4 5.2 .5 -.5 .4 -.7 .4 -2.4 .5 6.6 .4 -4.7 .5 .6 .4 .5 .4 -6.7 .5 12.1 .4 -5.7 .4 -1 .5 -.3 .4 -5.1 .5 5.1 .4 1.2 .4 2.1 .5 1.8 .4 -2.7 .4 -3.9 .5 2.4 .4 -8.3 .5 13.1 .4 -6.9 .4 .2 .5 .7 .4 -2.2 .4 2.9 .5 -3 .4 2.6 .5 1.1 .4 1.7 .4 -2 .5 -4.2 .4 5.1 .4 -4.7 .5 3.1 .4 -.8L703.6 477.4 266.3 477.4Z" fill="#fff" stroke="#ffff00" stroke-width="1.60" stroke-linejoin="round" stroke-dasharray="4623.38 99999"/><path d="M242.0 451.1l.5 10.7 .4 -8.4 .5 2.9 .4 -7.4 .5 8.3 .4 -11.7 .5 -1.3 .4 1.6 .5 3.5 .4 6.8 .5 -2 .4 -5.1 .5 2.5 .4 3.8 .5 -1.4 .4 2.6 .5 -4.1 .4 1.9 .5 -5.4 .4 -7.1 .5 14.2 .4 -6.8 .5 14 .4 -5 .5 -1.7 .4 -4.5 .5 -4.9 .4 4.5 .5 2 .4 1.2 .5 7.3 .4 -4.4 .5 -6.3 .4 2.8 .5 3.6 .4 -2.1 .5 2.7 .4 5 .5 -6.4 .4 1.8 .5 2.3 .4 -3.9 .5 .5 .4 -1.8 .5 .7 .4 -4.4 .5 2.5 .4 5.5 .5 -2.2 .4 -.1 .5 -3.9 .4 3.3 .5 2.9 .4 -5.7 .5 3.8 .4 -3.4 .5 -5.3 .4 5.4 .5 8.4 .4 -1.2 .5 -5.6 .4 8.3 .5 -4.7 .4 -2.7 .5 3.3 .4 1.4 .5 -2.9 .4 1.3 .5 2.6 .4 -5.7 .5 4.5 .4 -1.5 .5 -5.6 .4 1.6 .5 3.2 .4 1 .5 -1.9 .4 .4 .5 1.4 .4 2.9 .5 -7.2 .4 8.2 .5 -10.1 .4 3.5 .5 3 .4 1.6 .5 -2.1 .4 -2.5 .5 1.6 .4 -3.6 .5 3.5 .4 4.5 .5 -4.8 .4 -.5 .5 3.2 .4 3 .5 -.8 .4 -4.9 .5 5.7 .4 -10.1 .5 3.1 .4 10.4 .5 -2.5 .4 -4.6 .5 5.5 .4 -3.8 .5 -4 .4 .7 .5 6.6 .4 -6.8 .5 2.5 .4 3.4 .5 -5.3 .4 5 .5 3 .4 -10.2 .5 -.2 .4 8.1 .5 6.4 .4 -20.4 .5 12.2 .4 -3.7 .5 6.8 .4 -7.1 .5 -2.1 .4 3.8 .5 -2.6 .4 2.1 .5 -2.7 .4 6 .5 .5 .4 5.7 .5 -6 .4 -.6 .5 3.2 .4 -8.2 .5 5.2 .4 -12.7 .5 9.2 .4 5.5 .5 -2.8 .4 -2.8 .5 -1.3 .4 -1.5 .5 7.2 .4 -5.4 .5 4 .4 -4.1 .5 4.1 .4 -.2 .5 -1.4 .4 4 .5 -2.6 .4 -1.7 .5 8.2 .4 -4.9 .5 -.1 .4 -5.7 .5 2.8 .4 .3 .5 2.6 .4 -4.7 .5 2.9 .4 -4.7 .5 4.7 .4 -.6 .5 -2.7 .4 .3 .5 7.8 .4 -6.2 .5 1 .4 6.6 .5 -2.2 .4 -8.2 .5 2.2 .4 3.2 .5 -5.6 .4 10.1 .5 -11.8 .4 7.6 .5 -7.8 .4 7.3 .5 .4 .4 -3.1 .5 2.2 .4 -5.4 .5 1 .4 4.7 .4 -.2 .5 -.7 .4 -6.6 .5 6.8 .4 -4 .5 4.1 .4 3.1 .5 3.6 .4 -6.7 .5 -1.2 .4 1.2 .5 -3.9 .4 2.5 .5 -4.2 .4 4.8 .5 2.2 .4 -4.3 .5 8.4 .4 -.5 .5 1.5 .4 -8.6 .5 -1.9 .4 11.1 .5 -1.5 .4 -.5 .5 4.9 .4 -6.7 .5 .7 .4 4.6 .5 3.6 .4 -3 .5 -7 .4 6.7 .5 -6 .4 -1.1 .5 -2.1 .4 3.3 .5 -1.2 .4 -4.8 .5 8.7 .4 -2.7 .5 -4.8 .4 9.8 .5 -7.2 .4 12.8 .5 -3.8 .4 .4 .5 -5.4 .4 -.4 .5 9.3 .4 -15.8 .5 -.6 .4 3.5 .5 5.8 .4 -2.6 .5 4.3 .4 -.3 .5 .7 .4 -4 .5 3.3 .4 -.1 .5 -8.8 .4 8.4 .5 -3.1 .4 1.1 .5 3 .4 .6 .5 -6.3 .4 6.5 .5 -4.6 .4 4.3 .5 -5.1 .4 -2.6 .5 12.3 .4 -3.8 .5 -.4 .4 -4.1 .5 4.6 .4 -3.4 .5 -1.9 .4 -5 .5 3.9 .4 9.4 .5 -12.2 .4 6.8 .5 3.9 .4 -4.6 .5 4.7 .4 -2.7 .5 2.5 .4 -1.7 .5 7.7 .4 -14.9 .5 4.7 .4 -3.2 .5 1.8 .4 1.8 .5 -3 .4 -2.7 .5 6.3 .4 -4.6 .5 4.5 .4 .4 .5 -4.1 .4 1.6 .5 .7 .4 7.3 .5 -4.6 .4 -4.1 .5 -2.4 .4 .1 .5 .4 .4 .6 .5 6.9 .4 -6.4 .5 -5.1 .4 8.5 .5 2.8 .4 -7.8 .5 4.6 .4 0 .5 -2.2 .4 3.1 .5 -3.8 .4 5.4 .5 .3 .4 -4.1 .5 -.6 .4 .6 .5 -1.8 .4 2.9 .5 2.3 .4 -4.1 .5 8 .4 -5.8 .5 -3.5 .4 1.3 .5 -1.9 .4 5.6 .5 -.1 .4 1.2 .5 -.1 .4 -2.9 .5 -3.3 .4 3.8 .5 -6 .4 9.8 .5 3 .4 -8.9 .5 4.6 .4 -2.1 .5 3.4 .4 -.7 .5 -10 .4 3.9 .5 5.8 .4 1.5 .5 -1.4 .4 1.5 .5 -5 .4 -1.9 .5 10.3 .4 -8 .5 2 .4 1 .5 -4 .4 6 .5 .5 .4 -2.6 .5 2.2 .4 -.7 .5 -5 .4 8.3 .5 -10 .4 -.2 .5 6.6 .4 -3.7 .5 6.5 .4 -2.5 .5 .8 .4 2.1 .5 -6.9 .4 2.3 .5 -2.4 .4 9.4 .5 -5.5 .4 1.3 .5 4.5 .4 -9.8 .5 3.9 .4 -1.2 .5 -4.2 .4 8.1 .5 -8.6 .4 13.2 .5 -20 .4 9.6 .5 7.8 .4 .3 .5 -14.9 .4 12.1 .5 -6.9 .4 3.5 .5 1.2 .4 1 .5 4.7 .4 -.1 .5 -1.5 .4 -6.5 .5 10.8 .4 -3.6 .5 -2.7 .4 -1 .5 1.2 .4 1.7 .5 2.8 .4 -3.6 .5 1.3 .4 -2.6 .5 2 .4 1.8 .4 -11.2 .5 24.7 .4 -22 .5 4.7 .4 .3 .5 2.3 .4 -.9 .5 -2.4 .4 6.5 .5 -12 .4 3.5 .5 1 .4 .1 .5 -4.4 .4 3.9 .5 -3 .4 5.5 .5 -9.5 .4 9.2 .5 1.3 .4 -1.6 .5 -6.3 .4 -2.3 .5 4.8 .4 -6.8 .5 12.2 .4 -1 .5 -1.1 .4 -6.9 .5 9 .4 -3.8 .5 4.8 .4 -5.5 .5 4.2 .4 -15.1 .5 8.6 .4 5.4 .5 -5.5 .4 3.8 .5 2 .4 -4.3 .5 7.8 .4 -11.2 .5 1 .4 14.2 .5 -8.3 .4 7 .5 -9.3 .4 .9 .5 .5 .4 2.9 .5 -2.2 .4 3 .5 -1.5 .4 1.6 .5 -.2 .4 .3 .5 7.3 .4 -7 .5 -6.4 .4 -2 .5 8 .4 -2.5 .5 -4.7 .4 11 .5 -7.6 .4 8.4 .5 -8.2 .4 2.7 .5 0 .4 .4 .5 -8.9 .4 18.8 .5 -4.8 .4 -6 .5 .2 .4 3.9 .5 -4 .4 1.2 .5 -.3 .4 -3.6 .5 7.8 .4 -4.2 .5 -2.6 .4 6.1 .5 -6.8 .4 8.2 .5 3.6 .4 -2.3 .5 -4.7 .4 -6.6 .5 8.4 .4 -1.2 .5 .2 .4 -2.3 .5 7.4 .4 -3.7 .5 3.1 .4 -5.1 .5 -1.5 .4 12.5 .5 -9.7 .4 1.8 .5 -3.6 .4 5.8 .5 -2.9 .4 5 .5 -8 .4 3 .5 -1.1 .4 -5.1 .5 -.3 .4 7.3 .5 -1.2 .4 -.2 .5 -3.2 .4 6.9 .5 -5.7 .4 6.2 .5 -5.7 .4 2.7 .5 7.1 .4 -5.5 .5 -3.3 .4 2.6 .5 -1.9 .4 -8 .5 13.9 .4 -1.9 .5 .5 .4 -3 .5 2.2 .4 -1.3 .5 2.4 .4 3.2 .5 -13.6 .4 -2.6 .5 10.4 .4 -1.1 .5 7.2 .4 -5 .5 -4.8 .4 1.5 .5 2.7 .4 -7.6 .5 -4.7 .4 12.6 .5 3.4 .4 -6.4 .5 -1.1 .4 7.3 .5 -2.7 .4 -4.6 .5 3.1 .4 4.7 .5 -7.1 .4 6.8 .5 -9.4 .4 6 .5 7.6 .4 -4.5 .5 -6.5 .4 -4 .5 5.7 .4 2.4 .5 -10.6 .4 14.2 .5 -9.4 .4 10 .5 .8 .4 -2.5 .5 -7.6 .4 2.5 .5 1.4 .4 -2.5 .5 4.4 .4 -6.2 .5 3 .4 -1.9 .5 7.6 .4 -5 .5 4.5 .4 -7.6 .5 9.1 .4 -9.2 .5 -1.4 .4 1.7 .5 -2.9 .4 -1.1 .5 7.6 .4 .6 .5 .6 .4 -1.5 .5 1 .4 11.5 .5 -19.4 .4 9.2 .5 -.4 .4 -7.7 .5 10.4 .4 -4.2 .5 -2.5 .4 0 .5 7.3 .4 -34.8 .5 34.7 .4 -1.6 .5 -7.9 .4 5.1 .5 -1.7 .4 4.8 .5 -1.4 .4 -4.6 .5 1.2 .4 2.4 .5 -4.7 .4 6.2 .5 .1 .4 -.1 .4 .2 .5 -5.3 .4 9.1 .5 -7.6 .4 8.7 .5 -.8 .4 -6.8 .5 -1.3 .4 1.9 .5 7.6 .4 -12.6 .5 .2 .4 7.6 .5 -8.7 .4 7.2 .5 -2.2 .4 3.3 .5 .6 .4 1.9 .5 -4.5 .4 -3.6 .5 4.3 .4 -3.4 .5 -.9 .4 -2.4 .5 2 .4 4.3 .5 -.7 .4 1.5 .5 2.9 .4 1.6 .5 -11.5 .4 10.3 .5 -5.7 .4 -3.4 .5 4.6 .4 3.2 .5 -3.8 .4 -4.6 .5 9.8 .4 0 .5 -1.5 .4 -4.6 .5 -.4 .4 5.4 .5 -2.5 .4 -3 .5 8.2 .4 -4 .5 -2 .4 -1.2 .5 .4 .4 8.3 .5 -5.3 .4 1.8 .5 -3 .4 -.6 .5 2.3 .4 -1.4 .5 -7.5 .4 1.4 .5 3.5 .4 3.2 .5 -7.5 .4 10.6 .5 4.9 .4 -6.1 .5 3.3 .4 5.4 .5 -5 .4 -3 .5 .3 .4 -3.3 .5 -1.1 .4 .2 .5 8 .4 -8.6 .5 -3.5 .4 7.3 .5 -.1 .4 -2.3 .5 -.8 .4 2.5 .5 -1.5 .4 5.4 .5 3.6 .4 -4.9 .5 -.7 .4 1.1 .5 -1.4 .4 1.4 .5 -4.2 .4 -1.1 .5 3.1 .4 .7 .5 -1.8 .4 2.1 .5 -4 .4 3.9 .5 5.5 .4 -11.6 .5 -4.2 .4 4.6 .5 4.4 .4 -.3 .5 -.9 .4 -.6 .5 1.1 .4 2.8 .5 -5.4 .4 2.1 .5 -7.1 .4 18.7 .5 -10.1 .4 -.9 .5 7.6 .4 -4.4 .5 4.3 .4 -5.1 .5 -3.1 .4 0 .5 -3.3 .4 3 .5 -2.6 .4 2 .5 10.9 .4 -9.3 .5 6.5 .4 -8.4 .5 -2.2 .4 -.5 .5 4.1 .4 1.1 .5 5.3 .4 -8.4 .5 2.3 .4 2.1 .5 4.1 .4 .2 .5 -3.1 .4 -5.3 .5 3.4 .4 3.3 .5 -6.5 .4 -1 .5 2.9 .4 2 .5 -2.1 .4 1.4 .5 -2.6 .4 6.8 .5 -9 .4 5.1 .5 -8.4 .4 17.3 .5 -4.7 .4 6 .5 -9.1 .4 -1.6 .5 3.8 .4 -9.3 .5 6.4 .4 3.9 .5 -2.7 .4 4.4 .5 -2.7 .4 1 .5 .7 .4 1.8 .5 -5 .4 1.6 .5 -7.2 .4 15.1 .5 -7.9 .4 -.7 .5 -2 .4 1.5 .5 -7.8 .4 12.1 .5 3.5 .4 -8.7 .5 5.5 .4 -3.9 .5 2 .4 -9.3 .5 12.2 .4 -9.6 .5 4.6 .4 1 .5 .5 .4 4.7 .5 -4.4 .4 -.1 .5 2.2 .4 3.1 .5 -3 .4 -.8 .5 0 .4 5 .5 -5.8 .4 -3.8 .5 4.7 .4 -5.9 .5 4.1 .4 2.8 .5 2.1 .4 1.1 .5 -1.8 .4 -2 .5 3.5 .4 -2.8 .5 -8 .4 14.3 .5 -8.4 .4 .7 .5 -1 .4 -.1 .5 1.3 .4 1.8 .5 -.5 .4 2.8 .4 -.6 .5 -2.8 .4 .2 .5 0 .4 3.7 .5 1.1 .4 -12.2 .5 6.6 .4 -1.4 .5 2.8 .4 -2.2 .5 -1.4 .4 -1.5 .5 5.2 .4 -2.1 .5 -1.1 .4 17.5 .5 -13.6 .4 -1.5 .5 5.3 .4 -1.4 .5 -6.6 .4 2.7 .5 1.7 .4 1.5 .5 -2.6 .4 -12.5 .5 12.4 .4 4.2 .5 2.4 .4 -12.5 .5 4.5 .4 5.4 .5 -9.1 .4 .4 .5 8 .4 .1 .5 -4.4 .4 1.7 .5 -2.1 .4 -2.3 .5 6.9 .4 -3.6 .5 6.6 .4 -7.7 .5 -1.9 .4 14.7 .5 -5.8 .4 -6.2 .5 7.5 .4 -6.2 .5 -2.1 .4 1.9 .5 -2 .4 17.1 .5 -18.3 .4 5.3 .5 .5 .4 1.8 .5 3.4 .4 -5.9 .5 -.9 .4 1.3 .5 3 .4 -2.3 .5 -5.3 .4 3.2 .5 -4.1 .4 2.9 .5 3.4 .4 -10 .5 12.2 .4 2.9 .5 -4.3 .4 0 .5 -5.2 .4 2 .5 2.7 .4 -10.6 .5 6.5 .4 .6 .5 2.4 .4 -8.6 .5 1.2 .4 8.1 .5 -7.9 .4 3.5 .5 2.1 .4 -5.5 .5 6.7 .4 -2.5 .5 -4.1 .4 4.3 .5 6.1 .4 -2.8 .5 -3.6 .4 3.7 .5 -2.9 .4 -2.4 .5 4.9 .4 2.7 .5 -6.3 .4 -5.2 .5 15 .4 -9.6 .5 -.4 .4 1 .5 6.1 .4 -6.6 .5 0 .4 5 .5 -4.8 .4 5.2 .5 1.2 .4 -.7 .5 -7.6 .4 .7 .5 2.9 .4 -5.8 .5 9.9 .4 -6.4 .5 4.9 .4 2.6 .5 -7.7 .4 2 .5 7.2 .4 -4 .5 -3.4 .4 3.1 .5 -4.3 .4 9 .5 -14.1 .4 8.9 .5 2.7 .4 -.2 .5 .7 .4 3.8 .5 -1.8 .4 -5.1 .5 -2.5 .4 7.7 .5 -6.1 .4 3.2 .5 -10 .4 6.6 .5 -.7 .4 1.6 .5 0 .4 3.5 .5 -12L691.4 505.5 242.0 505.5Z" fill="#fff" stroke="#ffff00" stroke-width="1.57" stroke-linejoin="round" stroke-dasharray="4639.55 99999"/><path d="M216.5 478.4l.4 5 .5 -3.5 .5 15.4 .4 -10.9 .5 -.3 .4 3.9 .5 -9.8 .5 6.1 .4 -6.5 .5 11.5 .4 -10.3 .5 .6 .5 7.3 .4 -5.3 .5 .2 .5 -1.7 .4 4.8 .5 2.1 .4 .7 .5 -4.6 .5 3.1 .4 2.9 .5 3.8 .5 -8 .4 -1.1 .5 -.7 .4 -4.7 .5 4.1 .5 2.5 .4 -4.6 .5 12.2 .5 -6.1 .4 -6.3 .5 6.2 .4 5.9 .5 -3.2 .5 -5.7 .4 0 .5 1.4 .5 -2.8 .4 3.4 .5 -.6 .4 -3.1 .5 11.4 .5 -18.3 .4 9.5 .5 -7.9 .5 8 .4 -4.6 .5 2.7 .4 .4 .5 1.4 .5 1.7 .4 -6.7 .5 2.6 .5 -3.8 .4 12.5 .5 1.9 .4 -9.7 .5 -3.9 .5 10.8 .4 -.2 .5 -.5 .5 -2.7 .4 -12 .5 11.7 .4 -1.2 .5 7.9 .5 1.2 .4 -8.4 .5 -.1 .5 9.1 .4 -8.2 .5 .3 .4 -2 .5 4.7 .5 -2.1 .4 -6.9 .5 10.2 .5 -2 .4 .8 .5 -4.9 .4 6.3 .5 1.8 .5 -1.9 .4 2.7 .5 -6.9 .5 -6.1 .4 4.6 .5 .6 .4 .4 .5 -1 .5 8.8 .4 -2.2 .5 -7.7 .5 9.3 .4 -12.6 .5 11.5 .4 -3 .5 1.7 .5 1.7 .4 -2.8 .5 -1 .5 .1 .4 -2.6 .5 1.2 .4 -4.9 .5 6.7 .5 2.2 .4 -.9 .5 -2.7 .5 -5.1 .4 4.2 .5 2.1 .4 -2.3 .5 5.4 .5 -3 .4 1.4 .5 1.3 .5 -6.7 .4 5.7 .5 -.7 .4 2.2 .5 -5.7 .5 5.5 .4 -12.3 .5 12.6 .5 -7.4 .4 1.4 .5 -1.6 .4 3 .5 14.2 .5 -22.6 .4 8.3 .5 5.3 .5 -9 .4 5.6 .5 2.4 .4 -5.2 .5 1.8 .5 -2.4 .4 2.6 .5 -4.8 .5 2 .4 2.9 .5 -1.5 .4 -4.3 .5 4.3 .5 2.6 .4 -3.8 .5 -1.7 .5 .1 .4 7.1 .5 -.7 .4 -3.6 .5 -4.4 .5 2.3 .4 -9.9 .5 4.1 .4 3.6 .5 2.1 .5 1.4 .4 3.2 .5 -4.1 .5 4.8 .4 -7.8 .5 10 .4 -11.2 .5 5.8 .5 2 .4 -3.2 .5 -.1 .5 .5 .4 5.4 .5 6.6 .4 -14.9 .5 3.6 .5 -2.8 .4 12.4 .5 -8.2 .5 2 .4 -4.7 .5 -3.4 .4 8.2 .5 -6.4 .5 -.1 .4 10.4 .5 -7.8 .5 -1 .4 1.2 .5 -3.1 .4 -2.6 .5 1.8 .5 -1.7 .4 .8 .5 3.9 .5 1.9 .4 2 .5 2.9 .4 -5.1 .5 -3.7 .5 1.7 .4 -.1 .5 -3.6 .5 -.2 .4 4.4 .5 -.8 .4 5.8 .5 -10.1 .5 5.4 .4 9.9 .5 -10.2 .5 1.2 .4 -3.8 .5 2.5 .4 -1.9 .5 3.8 .5 -5.5 .4 8.5 .5 -3.7 .5 -.9 .4 2.3 .5 -4.1 .4 2.6 .5 .9 .5 .9 .4 -1.3 .5 -.4 .5 6 .4 -3.3 .5 1.1 .4 .5 .5 -1.5 .5 .2 .4 5.3 .5 -4 .5 -4.8 .4 1.8 .5 10.5 .4 -5.6 .5 -3.9 .5 6.4 .4 -5.9 .5 -8 .5 7.2 .4 5.2 .5 -5 .4 8.5 .5 -6.6 .5 7.5 .4 -5.9 .5 5.6 .5 -4.6 .4 -1.2 .5 -6 .4 2.7 .5 -5.8 .5 2.2 .4 -2.3 .5 5.1 .5 6.7 .4 -3.5 .5 2.1 .4 2.2 .5 -7.8 .5 6.5 .4 -3.6 .5 2.4 .5 -4.3 .4 2.1 .5 7.8 .4 -7.4 .5 -9.1 .5 7.9 .4 -1.3 .5 2.6 .5 -4 .4 8.5 .5 .3 .4 -.6 .5 3.8 .5 -1.3 .4 -8.9 .5 7.1 .5 .1 .4 -8 .5 3.4 .4 4 .5 .6 .5 -1.7 .4 -1.4 .5 -3.8 .5 2.2 .4 5 .5 -2.8 .4 4.6 .5 -3 .5 -8.5 .4 11.5 .5 -3 .5 -5.3 .4 2.3 .5 1.4 .4 1.5 .5 10.4 .5 -16.7 .4 3.4 .5 -1.9 .4 -1.1 .5 8.2 .5 1 .4 -8.5 .5 -2.1 .5 3.8 .4 -3 .5 9 .4 -5 .5 .5 .5 0 .4 -4.1 .5 12.7 .5 -8.4 .4 -6 .5 5.2 .4 2.7 .5 -5.3 .5 6.7 .4 -8.8 .5 6.3 .5 -1.3 .4 -2.4 .5 6.1 .4 -3.8 .5 .1 .5 -2.7 .4 7.5 .5 -9 .5 7.3 .4 3.8 .5 -6.2 .4 2.3 .5 -3.4 .5 -5.7 .4 6.5 .5 -6.9 .5 1.8 .4 -3.5 .5 7.3 .4 -4.6 .5 0 .5 .4 .4 5 .5 -8.2 .5 4.2 .4 2.5 .5 4.4 .4 -15.6 .5 10.3 .5 7.3 .4 -1.3 .5 -9.4 .5 -1.6 .4 3.3 .5 4.3 .4 4 .5 4.8 .5 -1 .4 -11.3 .5 7.9 .5 -14.1 .4 11.7 .5 -4.4 .4 5.2 .5 2.2 .5 -5.7 .4 2.5 .5 -12.3 .5 10 .4 8 .5 -9.7 .4 3.6 .5 -1.6 .5 1.6 .4 .7 .5 3.3 .5 -7.6 .4 .7 .5 .9 .4 .9 .5 -7.2 .5 9 .4 -1.1 .5 -8.8 .5 5 .4 3.5 .5 1.3 .4 -1.1 .5 -.6 .5 -.9 .4 -6.1 .5 11.5 .5 -6 .4 -1.9 .5 .2 .4 4.1 .5 2.1 .5 -4.7 .4 -1.1 .5 3.2 .5 .9 .4 -7 .5 6 .4 1.5 .5 -8.1 .5 5.4 .4 .1 .5 1.1 .5 -7.2 .4 6 .5 -6.4 .4 2.3 .5 3 .5 -4 .4 5.8 .5 -10.4 .5 11 .4 -4.3 .5 -2.7 .4 2.6 .5 -3.7 .5 -1.3 .4 1.9 .5 5 .5 -7.8 .4 6.4 .5 1.7 .4 -2.6 .5 5.3 .5 -1 .4 -6.5 .5 3.4 .5 -4.6 .4 14.3 .5 -3.8 .4 .5 .5 -5.8 .5 -5.6 .4 12.3 .5 -5.3 .5 -5.9 .4 9.7 .5 -12.6 .4 13.3 .5 -1.2 .5 4 .4 -8.9 .5 8.9 .4 -6.7 .5 .5 .5 2.8 .4 -.6 .5 -.2 .5 -3.1 .4 4.3 .5 .6 .4 1.7 .5 -8.9 .5 -1.9 .4 3.6 .5 7.9 .5 -6.1 .4 -1.7 .5 -1.6 .4 4.1 .5 2.9 .5 -11.6 .4 8 .5 3.2 .5 -4.8 .4 -2.8 .5 6 .4 -3.6 .5 1 .5 1.7 .4 .4 .5 -2.8 .5 12.8 .4 -11.1 .5 4.4 .4 -.6 .5 -5.7 .5 2.9 .4 -.4 .5 -.9 .5 7.4 .4 -.9 .5 -12.2 .4 10.1 .5 4.8 .5 -10.4 .4 3.6 .5 -.7 .5 7.5 .4 -2.5 .5 -5.6 .4 .4 .5 -3.7 .5 1.7 .4 4.5 .5 -2.3 .5 3.3 .4 -5.4 .5 5.6 .4 -4.6 .5 -.1 .5 -3.8 .4 9.1 .5 -3.4 .5 5.6 .4 -9.5 .5 4.8 .4 1.9 .5 1.8 .5 -1.3 .4 -1.8 .5 -.3 .5 -6.8 .4 6.4 .5 -.9 .4 8.4 .5 -5.5 .5 -10.5 .4 1.1 .5 15.4 .5 -15.2 .4 7.4 .5 4.4 .4 -11.4 .5 -.6 .5 4.1 .4 1 .5 -4.2 .5 6.8 .4 -2.6 .5 -8.3 .4 9.2 .5 7.1 .5 -11.7 .4 -.3 .5 10.6 .5 -11.3 .4 2.8 .5 5.3 .4 -1.4 .5 8.4 .5 -7.8 .4 9.4 .5 -3.9 .5 -11.3 .4 5.3 .5 8 .4 -4.1 .5 -5.9 .5 4 .4 -1.3 .5 1.6 .5 4.4 .4 -41.1 .5 35.4 .4 -5.3 .5 4.6 .5 -4.1 .4 -.7 .5 .8 .5 -1.6 .4 -2.1 .5 11.1 .4 -9.1 .5 -4.1 .5 -1.5 .4 2.8 .5 9.3 .5 -2.6 .4 -6.3 .5 -1.1 .4 6.3 .5 -.5 .5 -4.1 .4 -1.4 .5 6.3 .5 2.3 .4 2.7 .5 -3.9 .4 3.7 .5 -3 .5 -8 .4 3.1 .5 3.3 .5 -5.9 .4 10.1 .5 -7.6 .4 4.6 .5 -3.5 .5 -2.8 .4 9.2 .5 -6.9 .4 3.2 .5 -2.3 .5 8.4 .4 -6.5 .5 0 .5 -.6 .4 1.5 .5 3.6 .4 -10.5 .5 6.4 .5 -5.1 .4 5.4 .5 2.1 .5 -8.3 .4 .5 .5 6.3 .4 -2.2 .5 -7.3 .5 13.6 .4 -3.5 .5 6.2 .5 -11.9 .4 11.5 .5 -6.7 .4 4.5 .5 -5.1 .5 .4 .4 1.2 .5 -3.8 .5 3.4 .4 -4.7 .5 2.4 .4 5.7 .5 -3.4 .5 -1.4 .4 -6.2 .5 1.2 .5 6 .4 -8.4 .5 8.1 .4 -1 .5 5.4 .5 -1.4 .4 -5.6 .5 -2.1 .5 3.9 .4 2.7 .5 -2.8 .4 4.8 .5 -9.6 .5 12.5 .4 -6.3 .5 -9.2 .5 12 .4 2.1 .5 -1.9 .4 -7.3 .5 1.2 .5 4.6 .4 -1.7 .5 -1 .5 1.9 .4 -.8 .5 .4 .4 -.5 .5 5.8 .5 -.9 .4 .2 .5 -10.2 .5 8.5 .4 1 .5 -6.2 .4 2.6 .5 3.3 .5 -6 .4 7.3 .5 .4 .5 -.7 .4 -8.3 .5 5.1 .4 -4.5 .5 9.1 .5 2.6 .4 -7.9 .5 2.8 .5 6.6 .4 -8.7 .5 -7 .4 7.3 .5 6.5 .5 -2.8 .4 .7 .5 4.7 .5 -3.6 .4 .3 .5 -2.8 .4 0 .5 -2.2 .5 -1.2 .4 .6 .5 1.4 .5 3.3 .4 -3.8 .5 -.3 .4 -12.7 .5 14.7 .5 -2.5 .4 -1.4 .5 -.6 .5 11 .4 -6.8 .5 5 .4 -9.5 .5 10.1 .5 2 .4 -3.8 .5 -11.1 .5 3.2 .4 -.5 .5 6.4 .4 -3.6 .5 4.9 .5 -2.8 .4 -5.3 .5 .4 .5 4.5 .4 3 .5 -1.5 .4 4.2 .5 .4 .5 -5.3 .4 -3.4 .5 -2.7 .5 -2.1 .4 6.7 .5 -2.8 .4 10.1 .5 -9.5 .5 -7.5 .4 7.1 .5 -3.4 .5 2.8 .4 -.2 .5 -1.3 .4 9.6 .5 -2.6 .5 -7.2 .4 8.6 .5 -7.9 .4 7.8 .5 -.4 .5 .7 .4 -6.9 .5 2.6 .5 9.8 .4 -3.8 .5 0 .4 -6.9 .5 .6 .5 9.3 .4 -14.2 .5 2.2 .5 3.9 .4 -1.4 .5 -12.8 .4 15.1 .5 1.2 .5 -3.5 .4 2.7 .5 4.2 .5 -3.3 .4 3.1 .5 -11.5 .4 11.4 .5 -11.7 .5 10.2 .4 3 .5 -4.3 .5 -7.5 .4 5.2 .5 -5.7 .4 3.2 .5 2 .5 3.8 .4 -5.9 .5 -3.4 .5 8.7 .4 -1.8 .5 -3.2 .4 1.7 .5 -3.8 .5 -4.1 .4 6.8 .5 1.6 .5 -2.2 .4 .8 .5 2.5 .4 2.4 .5 -.6 .5 1.4 .4 -6.7 .5 8.3 .5 -4.8 .4 3.3 .5 -.4 .4 -6.1 .5 2 .5 -3.5 .4 8.1 .5 -1.3 .5 -2.2 .4 -1.9 .5 .3 .4 -3.2 .5 10.7 .5 -4.4 .4 1.9 .5 -9.4 .5 13.1 .4 -2.4 .5 -7.6 .4 7.8 .5 3.2 .5 -13.1 .4 2.3 .5 5.5 .5 1.5 .4 -3.5 .5 2.7 .4 -.3 .5 -5.8 .5 6.5 .4 -2.4 .5 1.5 .5 -5.6 .4 3.9 .5 -5 .4 13.9 .5 -6.7 .5 -1.5 .4 -1.4 .5 2 .5 -9.5 .4 10 .5 -4.3 .4 7.1 .5 -7.9 .5 -6.1 .4 7.5 .5 4.9 .5 -7.7 .4 9.3 .5 -7.2 .4 7.1 .5 -2.3 .5 -8.5 .4 5.6 .5 -.7 .5 -1.1 .4 -1.5 .5 6.1 .4 1.6 .5 -3.7 .5 -4.7 .4 5.4 .5 -5.5 .5 11.1 .4 -3.7 .5 1.7 .4 3.8 .5 -16.3 .5 8.8 .4 -8.9 .5 6.3 .5 6.2 .4 -9.6 .5 3.4 .4 -5.8 .5 5.2 .5 4.3 .4 -2.5 .5 3.1 .5 3.5 .4 -3 .5 -5.8 .4 5.9 .5 -5.1 .5 -.7 .4 4 .5 1.9 .5 -5.1 .4 5.1 .5 -5.5 .4 1.1 .5 2.7 .5 1.8 .4 2 .5 -3 .4 3.7 .5 -4.5 .5 -1.2 .4 2.1 .5 -2.8 .5 -1.9 .4 9.4 .5 -5.1 .4 3.5 .5 -.4 .5 -1.7 .4 -5 .5 -.5 .5 7.5 .4 -2.2 .5 1 .4 0 .5 -7.7 .5 3.3 .4 11.4 .5 -8.9 .5 -1.2 .4 7.2 .5 -10.7 .4 2.5 .5 -3.3 .5 12.1 .4 -3.9 .5 1.6 .5 .1 .4 0 .5 -10.2 .4 6.9 .5 6.3 .5 -10.3 .4 1.3 .5 12.1 .5 -6.1 .4 -4.4 .5 -9.4 .4 11.8 .5 -7.4 .5 -2.9 .4 8.7 .5 5.1 .5 .4 .4 2.6 .5 -7.7 .4 -.6 .5 3.4 .5 -8.7 .4 7.9 .5 -3.2 .5 -3.1 .4 .4 .5 1.1 .4 0 .5 11.9 .5 -14.7 .4 .7 .5 7.3 .5 -5.9 .4 1.7 .5 1 .4 -10.1 .5 8.4 .5 -.3 .4 -3.4 .5 8.4 .5 -1.7 .4 -1.3 .5 3 .4 -5.1 .5 4.8 .5 -4.6 .4 1.1 .5 .3 .5 -1.7 .4 3 .5 -6.6 .4 6.8 .5 -1 .5 .2 .4 -3.4 .5 2.5 .5 4.6 .4 -11.1 .5 2.6 .4 4.6 .5 -2.5 .5 6 .4 -7.2 .5 5.7 .5 -5.6 .4 2.6L678.4 535.0 216.5 535.0Z" fill="#fff" stroke="#ff8c00" stroke-width="1.54" stroke-linejoin="round" stroke-dasharray="4876.64 99999"/><path d="M189.4 507.1l.5 6.7 .5 -6.6 .4 8.1 .5 -10.1 .5 7.6 .5 -6 .4 7.5 .5 -11.2 .5 9.4 .5 -6.4 .4 12.7 .5 -4.4 .5 -5.3 .5 -1.3 .4 6.7 .5 -11.3 .5 13.8 .5 -5.1 .4 -5.3 .5 2.5 .5 2.5 .5 -3.2 .4 7.1 .5 -6.3 .5 9.7 .5 -1.5 .4 -8.3 .5 .6 .5 4.8 .5 3.7 .5 -3.1 .4 1.9 .5 -8.9 .5 -4 .5 13.2 .4 -5 .5 .2 .5 -.1 .5 1 .4 -1.7 .5 12.7 .5 -6.8 .5 .6 .4 -1.1 .5 4.2 .5 -2.1 .5 -1.3 .4 -4 .5 .8 .5 5.6 .5 .6 .4 2 .5 -4.2 .5 .3 .5 -.1 .4 -5.3 .5 2.6 .5 -2.6 .5 2.5 .5 -.6 .4 -2.1 .5 .1 .5 -6 .5 10.8 .4 2.1 .5 5.3 .5 -11.6 .5 -3 .4 7.3 .5 1.9 .5 2.5 .5 -3.6 .4 10.3 .5 -13.9 .5 6.5 .5 -5.6 .4 -5 .5 14.5 .5 -5.4 .5 2.6 .4 .4 .5 -7.7 .5 0 .5 1.5 .4 .1 .5 3.5 .5 -2.4 .5 -2.7 .4 .1 .5 5.3 .5 -3.6 .5 4.5 .5 3.3 .4 -13.7 .5 7.3 .5 .6 .5 2.8 .4 -3.6 .5 2.8 .5 -5.1 .5 -2.7 .4 8.2 .5 1.4 .5 -3 .5 -1 .4 2.1 .5 4.2 .5 -7.1 .5 .9 .4 .8 .5 2.1 .5 -2.7 .5 1.1 .4 2.4 .5 -3.8 .5 1.5 .5 -2.6 .4 2.3 .5 -3 .5 1.8 .5 .3 .4 6.5 .5 -13.3 .5 6.5 .5 -2.6 .5 3 .4 -1.9 .5 .1 .5 2 .5 5.1 .4 -5.4 .5 -1.8 .5 -1.5 .5 4.3 .4 1.5 .5 -2.6 .5 2.3 .5 -4.6 .4 10.4 .5 -3.4 .5 -9 .5 2.8 .4 -9 .5 13.9 .5 -9.7 .5 4 .4 -6.2 .5 .8 .5 10 .5 -1 .4 -1.1 .5 -12.2 .5 7.7 .5 7.6 .5 2.4 .4 -9.1 .5 .7 .5 9.4 .5 -9.6 .4 7.8 .5 -7.4 .5 -.8 .5 -.1 .4 4.2 .5 -3.3 .5 2.6 .5 7.8 .4 .3 .5 -13.2 .5 8.7 .5 -7.9 .4 6.2 .5 -5.5 .5 -3.4 .5 -3.5 .4 10.6 .5 -7.4 .5 5.1 .5 22.3 .4 -10.7 .5 -12.8 .5 -2.9 .5 6.4 .4 -1.1 .5 2.8 .5 .5 .5 -8.3 .5 5.5 .4 1.8 .5 -5 .5 5.1 .5 -3.7 .4 3.1 .5 -2.7 .5 2.4 .5 6.1 .4 -11.1 .5 .9 .5 3.3 .5 2.2 .4 -7.2 .5 9.2 .5 -4.9 .5 -.4 .4 -.4 .5 3.5 .5 .5 .5 -9.1 .4 11.3 .5 3.8 .5 -1.5 .5 -6.3 .4 3.3 .5 -6.6 .5 -1.4 .5 11.9 .5 .1 .4 -6 .5 -2.2 .5 6.1 .5 -3.3 .4 5.8 .5 -10.3 .5 -2.8 .5 5 .4 -.6 .5 -.7 .5 -2.9 .5 .9 .4 4 .5 -3.4 .5 9.2 .5 -7.8 .4 5.3 .5 -5.2 .5 1.8 .5 .1 .4 2.4 .5 -3 .5 2.3 .5 -9.3 .4 7.4 .5 -1.9 .5 3.3 .5 1.4 .4 .6 .5 -3.2 .5 .3 .5 -2.4 .5 4.2 .4 -6.8 .5 1.6 .5 13.9 .5 -18.6 .4 10.5 .5 -2.5 .5 -1.8 .5 .8 .4 3 .5 -7.5 .5 11.9 .5 -3.2 .4 .8 .5 -3.1 .5 -1.1 .5 1.4 .4 -1.4 .5 2.2 .5 -5.2 .5 7.6 .4 0 .5 -4.7 .5 .3 .5 -.4 .4 1.7 .5 5.8 .5 -6.8 .5 3.8 .4 -6.1 .5 1.6 .5 1 .5 1.9 .5 -6 .4 4.2 .5 6.1 .5 -10 .5 -3.5 .4 3.6 .5 2.4 .5 9.7 .5 -6.5 .4 -4.4 .5 -.2 .5 3.2 .5 -3.8 .4 -3.2 .5 7.1 .5 -2.4 .5 .6 .4 -.4 .5 -2.7 .5 7.7 .5 2 .4 -2.5 .5 .6 .5 .1 .5 -5.7 .4 -.3 .5 7.2 .5 5.4 .5 -.7 .5 -7.5 .4 0 .5 4.1 .5 -4.7 .5 -3.4 .4 3.3 .5 -2.2 .5 10.3 .5 -9.9 .4 4.7 .5 -2.6 .5 6.9 .5 -3.1 .4 .4 .5 .5 .5 -4.9 .5 1.8 .4 2.9 .5 -8.5 .5 2.6 .5 .5 .4 -1.4 .5 1.7 .5 -3.4 .5 2.2 .4 3.3 .5 -.9 .5 -4 .5 5.4 .4 -3 .5 .2 .5 .8 .5 -.5 .5 -2.2 .4 -2.8 .5 -3 .5 5.5 .5 -1 .4 -1.2 .5 10.1 .5 -1.3 .5 -7.9 .4 1.4 .5 3.9 .5 -5.6 .5 5.9 .4 2.3 .5 -5.5 .5 .1 .5 -1 .4 -8.4 .5 13 .5 -5.5 .5 -5.7 .4 9.6 .5 -.6 .5 -6.3 .5 7.4 .4 6 .5 4.7 .5 -16.5 .5 4.6 .4 -4.1 .5 6 .5 3.4 .5 -1.4 .5 -8.2 .4 7.8 .5 -5.7 .5 -2.2 .5 11.3 .4 -12.6 .5 4.3 .5 -.1 .5 1.1 .4 -3.3 .5 5.5 .5 -5.6 .5 3.3 .4 -1.7 .5 4.1 .5 -6.8 .5 2.4 .4 11.9 .5 -9.7 .5 1.4 .5 -2.6 .4 -1.2 .5 10.1 .5 -9.2 .5 -2.4 .4 2.7 .5 -5.2 .5 4 .5 7 .5 -1.3 .4 .7 .5 2.1 .5 -11.3 .5 5.9 .4 -.4 .5 -1.6 .5 5.5 .5 -2.1 .4 5.2 .5 -.5 .5 2.1 .5 -9.2 .4 2.7 .5 5.8 .5 -2.5 .5 3.3 .4 3.7 .5 -11.9 .5 2.8 .5 -4.7 .4 6.4 .5 .3 .5 -91.9 .5 94.4 .4 -.6 .5 1.7 .5 -1.8 .5 -2.5 .4 3.2 .5 -9.2 .5 8.3 .5 -6.1 .5 -2.4 .4 8.8 .5 -6.8 .5 3.4 .5 6.5 .4 -2.9 .5 10.4 .5 -8.6 .5 -4.2 .4 9.6 .5 -8.1 .5 .9 .5 0 .4 -1 .5 1.4 .5 -.3 .5 -3.6 .4 -6.2 .5 11.6 .5 -1.9 .5 1.9 .4 .6 .5 -3.3 .5 1.2 .5 -4.6 .4 1.3 .5 6.6 .5 3.8 .5 -7.3 .4 -2 .5 .8 .5 2.2 .5 .7 .5 .3 .4 1 .5 -1.3 .5 -1.1 .5 3.6 .4 4.2 .5 -6.7 .5 4.4 .5 -3.3 .4 2.9 .5 4.8 .5 -6.1 .5 -.4 .4 -3 .5 .9 .5 .9 .5 0 .4 -3.5 .5 8.5 .5 -10.8 .5 0 .4 5.2 .5 4.2 .5 -8.8 .5 6.7 .4 -2 .5 .7 .5 -1 .5 2.8 .5 -3.5 .4 .9 .5 2.4 .5 -4.3 .5 1.1 .4 3.5 .5 -.1 .5 -4 .5 8.5 .4 -6.8 .5 .4 .5 5.6 .5 -3.4 .4 -7.7 .5 3.4 .5 6.2 .5 .3 .4 -2.2 .5 1 .5 .5 .5 -2.4 .4 1 .5 -7.8 .5 -.8 .5 6.3 .4 1.8 .5 4.8 .5 -2.6 .5 .2 .4 -3.3 .5 -6 .5 8.6 .5 -7.8 .5 5.3 .4 -.6 .5 1.5 .5 10 .5 -7.1 .4 -2.4 .5 -2.6 .5 5.7 .5 -2.5 .4 3.3 .5 -3.9 .5 1.9 .5 -6.7 .4 6.6 .5 .5 .5 -3.7 .5 -4.8 .4 4.5 .5 .1 .5 -2.7 .5 2 .4 -3 .5 .1 .5 2.6 .5 6.5 .4 -7.8 .5 -1.2 .5 -2.3 .5 8 .4 .5 .5 -4.5 .5 1 .5 -.7 .5 2.7 .4 -1.9 .5 .1 .5 9.1 .5 -13.3 .4 6.1 .5 5.4 .5 -12 .5 5.4 .4 6.7 .5 -4.5 .5 2.8 .5 -2.8 .4 0 .5 -9.2 .5 5.8 .5 -4.2 .4 10.7 .5 -4.5 .5 3.6 .5 -6.8 .4 -3.3 .5 5.5 .5 6.9 .5 -6.4 .4 -5 .5 -1.7 .5 20.2 .5 -13.9 .5 4.2 .4 2.5 .5 -5 .5 -6.8 .5 7.9 .4 -4.8 .5 1.1 .5 2.8 .5 1 .4 3.9 .5 -5.3 .5 -3 .5 -1.3 .4 2.1 .5 0 .5 6.8 .5 -.8 .4 -2.4 .5 -1.2 .5 3.8 .5 6.3 .4 -10.5 .5 11.5 .5 -12.7 .5 5.2 .4 -1.6 .5 -7.4 .5 7.2 .5 -4.8 .4 -4.7 .5 .3 .5 11.8 .5 -5.3 .5 1.9 .4 1.4 .5 -6.2 .5 2.8 .5 -4.5 .4 10.5 .5 4.8 .5 -8.8 .5 -.8 .4 -4.9 .5 6.7 .5 -3.6 .5 -2.8 .4 14.8 .5 -9.5 .5 1.5 .5 2.3 .4 -2.2 .5 -1.3 .5 -9.5 .5 12.7 .4 -2.1 .5 -5.9 .5 -5.7 .5 15.8 .4 -8 .5 5.2 .5 -9.4 .5 3 .4 1.4 .5 -3.2 .5 4.1 .5 1 .5 -2.3 .4 8.6 .5 -6 .5 -4.3 .5 15.1 .4 -3.5 .5 -10.3 .5 .2 .5 2.4 .4 -2 .5 3.5 .5 -6.5 .5 10.1 .4 -10.7 .5 7.1 .5 2.9 .5 -5.9 .4 4.6 .5 -8.7 .5 8.6 .5 3.1 .4 3.4 .5 -8.8 .5 -8.6 .5 5.9 .4 3.2 .5 15.9 .5 -9.7 .5 -7.2 .5 4 .4 -2.4 .5 .2 .5 -2.4 .5 5.2 .4 -4.9 .5 -2.2 .5 5.2 .5 -2.4 .4 3 .5 1.1 .5 -2.7 .5 2 .4 9.2 .5 -9.5 .5 .2 .5 -4.8 .4 -1.4 .5 11.9 .5 .8 .5 -4.4 .4 -7.7 .5 9.4 .5 -.3 .5 3.4 .4 -4.2 .5 -2.1 .5 -5.3 .5 -3.7 .4 7.2 .5 -1.3 .5 -.2 .5 1.9 .5 -1.3 .4 9.1 .5 -9.1 .5 -2.7 .5 11.6 .4 -3.4 .5 -4.1 .5 -.8 .5 -1 .4 -4.1 .5 3.2 .5 -6.6 .5 11 .4 2.3 .5 2.5 .5 -8.9 .5 -2.5 .4 9 .5 -3.1 .5 5.3 .5 -12 .4 5.5 .5 -2.8 .5 7.4 .5 -4.3 .4 -7.2 .5 7.6 .5 7.7 .5 -2.9 .5 -1.7 .4 -3.7 .5 .4 .5 -2.5 .5 4.1 .4 -32.4 .5 27.3 .5 4.3 .5 6.9 .4 -5.7 .5 4.1 .5 -15 .5 10.6 .4 -.8 .5 -4 .5 9.1 .5 -8.2 .4 3.4 .5 -2.5 .5 7.9 .5 -38.6 .4 39 .5 -6.6 .5 -1.6 .5 -.9 .4 -1.5 .5 10.2 .5 -13.8 .5 8.3 .4 -1.5 .5 -3.7 .5 -2.9 .5 10.7 .5 -3.4 .4 .3 .5 -6 .5 4.3 .5 -7.9 .4 5.6 .5 5.3 .5 .3 .5 -1.9 .4 -.8 .5 2.2 .5 -3.7 .5 -26.6 .4 29.5 .5 -5.9 .5 1.3 .5 1 .4 -4.6 .5 .2 .5 15 .5 -10.6 .4 -1.4 .5 7 .5 1.8 .5 -6 .4 3.7 .5 -2.9 .5 4.3 .5 -8.1 .4 7.8 .5 1.6 .5 -4.6 .5 -1.9 .5 4.7 .4 -5.8 .5 6.4 .5 -11.7 .5 5.4 .4 -.7 .5 1.7 .5 .1 .5 7.1 .4 -8 .5 -1.7 .5 6.2 .5 -4.4 .4 5.4 .5 -8.2 .5 3.3 .5 -6.3 .4 3.1 .5 5.8 .5 -3.1 .5 -6.6 .4 2.3 .5 7.3 .5 2 .5 -1.4 .4 .9 .5 -1 .5 -14.1 .5 10.1 .5 -4.3 .4 10.4 .5 -5.9 .5 -1.5 .5 10.8 .4 -4.1 .5 3.5 .5 -1 .5 -2.1 .4 -6.8 .5 -.9 .5 -.3 .5 8.5 .4 -10.6 .5 6.8 .5 .9 .5 -8.3 .4 8.4 .5 4.9 .5 -9.3 .5 5.9 .4 4 .5 -10.2 .5 8 .5 -1.1 .4 -5.1 .5 -2.2 .5 7 .5 -3.4 .4 3.3 .5 -7.1 .5 5.6 .5 3.4 .5 -5.3 .4 8.1 .5 -11.8 .5 7.7 .5 4.1 .4 -7.1 .5 -3.5 .5 2.2 .5 7.8 .4 -11.3 .5 4.1 .5 1.9 .5 1.1 .4 -4.6 .5 2.5 .5 1.3 .5 -.6 .4 .1 .5 .7 .5 .7 .5 -1.1 .4 -5 .5 10.4 .5 3.3 .5 -3.8 .4 -4.3 .5 2.3 .5 -1.5 .5 -2.5 .4 1.7 .5 -.4 .5 -1.5 .5 .9 .5 3.9 .4 -.2 .5 -1 .5 3.9 .5 -3.1 .4 2.8 .5 -1.7 .5 4.6 .5 -1.2 .4 -11.1 .5 11.5 .5 -7.7 .5 -.8 .4 -1.6 .5 5.6 .5 -2.8 .5 1.6 .4 -1.7 .5 -.3 .5 -2.3 .5 4.1 .4 2.2 .5 1 .5 1.8 .5 -4.3 .4 -2.7 .5 4.2 .5 -3.6 .5 -3.1 .5 7.8 .4 -7.4 .5 3.2 .5 4.4 .5 -.3 .4 -4.2 .5 1.4 .5 -3 .5 10.9 .4 -12.2 .5 -.1 .5 9.2 .5 -1.6 .4 -11 .5 4.5 .5 3.8 .5 .4 .4 -1.2 .5 -3.1 .5 4.8 .5 -3.4 .4 4.5 .5 5.4 .5 -8.5 .5 3.2 .4 -7.4 .5 3.8 .5 -1.4 .5 8.2 .4 -1.8 .5 2.9 .5 -11.2 .5 3.1 .5 -3 .4 -2.4 .5 1.7 .5 8.6 .5 .5 .4 -5.2 .5 -.1 .5 -.4 .5 5.4 .4 .6 .5 -5.1 .5 -5.5 .5 10.1 .4 -5.6 .5 -.3 .5 3.1 .5 9.9 .4 -13.1 .5 10.8 .5 -7.2 .5 5.2 .4 -3.1 .5 -7.2L664.7 566.3 189.4 566.3Z" fill="#fff" stroke="#ff8c00" stroke-width="1.51" stroke-linejoin="round" stroke-dasharray="4987.09 99999"/><path d="M160.7 544.8l.5 -5.6 .5 9.5 .5 -4.6 .5 11.8 .5 -3.6 .5 -1.7 .5 -4.4 .5 4.9 .4 -8.3 .5 2.6 .5 11 .5 -14.7 .5 -2.3 .5 1.9 .5 -.2 .5 5.1 .5 -.2 .5 -2 .4 -.5 .5 -2.7 .5 -4.6 .5 3.2 .5 6.6 .5 10 .5 -3.5 .5 -8.4 .5 6.1 .5 -13.3 .4 9.9 .5 -.9 .5 -2.9 .5 4.3 .5 -1.9 .5 -6.3 .5 .6 .5 -3.3 .5 1.5 .5 1 .4 13.3 .5 -6.4 .5 2.5 .5 -2.5 .5 -2.2 .5 -1 .5 -.2 .5 -2.4 .5 1.8 .5 -2.5 .4 11.1 .5 -1.1 .5 -5.6 .5 -2.5 .5 9.4 .5 1.4 .5 -11.9 .5 5 .5 -3.9 .4 -.7 .5 1.7 .5 5.5 .5 -7.3 .5 5.7 .5 -5.3 .5 9.8 .5 -8.1 .5 2.2 .5 1.3 .4 -4.2 .5 1 .5 1.1 .5 -.9 .5 5.4 .5 -5 .5 5.9 .5 .2 .5 -5 .5 -1.1 .4 4.4 .5 .6 .5 .7 .5 -2.8 .5 9.7 .5 -19.1 .5 12.7 .5 -4.1 .5 -5.5 .5 3.4 .4 1 .5 -5.9 .5 1 .5 -.5 .5 7 .5 -4.4 .5 0 .5 5.5 .5 -6.6 .5 3.1 .4 3 .5 -2.6 .5 -.7 .5 1.2 .5 1 .5 7 .5 -6.7 .5 -1.1 .5 7.8 .5 -11 .4 3.1 .5 -2.8 .5 1.6 .5 2.4 .5 6.7 .5 -6.4 .5 3.7 .5 -2.2 .5 -.6 .5 -.5 .4 -4.4 .5 -.5 .5 2 .5 5.3 .5 -1.8 .5 -4.5 .5 -5.3 .5 10.4 .5 -.4 .5 .2 .4 -2 .5 -3.2 .5 5.7 .5 -.6 .5 .2 .5 -7 .5 4.7 .5 -4.7 .5 -.1 .5 5 .4 -1.6 .5 2.5 .5 -.2 .5 -5.8 .5 8.1 .5 -.6 .5 -5.1 .5 4.8 .5 2.6 .5 -5.4 .4 4.1 .5 -1 .5 2.2 .5 -7.5 .5 5.1 .5 -3.2 .5 5.5 .5 -1.9 .5 10.4 .5 -15.4 .4 -6.2 .5 17.2 .5 -15.2 .5 2.4 .5 .8 .5 5.2 .5 .4 .5 -7.3 .5 7.3 .5 3 .4 -2.3 .5 -4.1 .5 1.7 .5 .7 .5 -1.1 .5 -8.6 .5 7.1 .5 -6.2 .5 12.3 .5 -2.7 .4 -6.1 .5 2.3 .5 -.2 .5 3.4 .5 5 .5 -4.8 .5 -.1 .5 -9 .5 12.4 .5 -2.2 .4 -10.3 .5 10.7 .5 -.3 .5 -6.1 .5 6.4 .5 -2.7 .5 1.2 .5 -3.8 .5 4 .5 -2.3 .4 5.9 .5 -3 .5 -2.9 .5 3.2 .5 -6 .5 3 .5 8.8 .5 -16.5 .5 10 .5 -5.5 .4 .8 .5 2.5 .5 -1.6 .5 0 .5 5.9 .5 -7.1 .5 8.2 .5 -9.7 .5 7.9 .5 -4.2 .4 1.9 .5 -3.5 .5 4.4 .5 0 .5 -.6 .5 -2.7 .5 -4.1 .5 9.8 .5 7.5 .5 -11.6 .4 1.2 .5 -3.2 .5 .8 .5 2.3 .5 -1.1 .5 -.2 .5 3.6 .5 .8 .5 .1 .5 1.9 .4 -5.8 .5 -4.2 .5 -1.3 .5 7.9 .5 -4.4 .5 5.7 .5 -3.8 .5 .8 .5 -7.9 .5 9.5 .4 1.1 .5 1.7 .5 .4 .5 -8.2 .5 -2.5 .5 9.1 .5 2 .5 -2.3 .5 3.5 .5 -5.6 .4 -6.9 .5 9.8 .5 -4.1 .5 -1.8 .5 7.9 .5 -5.1 .5 5 .5 -7.3 .5 1.1 .5 2.1 .4 9.6 .5 -7.1 .5 -3.5 .5 3.4 .5 -5.6 .5 1.7 .5 -39 .5 40.2 .5 -3 .5 5 .4 -.6 .5 -4 .5 7.8 .5 2.3 .5 -9.2 .5 -1.7 .5 1.7 .5 -6.6 .5 8.6 .5 7.6 .4 -5.2 .5 6.7 .5 -7.6 .5 -2.1 .5 -6 .5 -1.6 .5 7 .5 -5.2 .5 2.6 .5 5 .4 .2 .5 4.9 .5 -2.3 .5 -3.6 .5 2.5 .5 -3.3 .5 2.7 .5 -11.3 .5 14.4 .5 -10.6 .4 7.1 .5 -.8 .5 -2.8 .5 10.2 .5 -6.6 .5 -5 .5 8.1 .5 -.2 .5 4.5 .5 -9 .4 4.3 .5 -4.7 .5 1 .5 -3.7 .5 -4.3 .5 12.9 .5 -3.8 .5 .5 .5 -10.1 .4 8.1 .5 2.3 .5 3.3 .5 -9 .5 7.3 .5 -2.5 .5 -6.6 .5 2.5 .5 -.3 .5 -1.1 .4 6 .5 1.7 .5 -2.6 .5 2.4 .5 -12.1 .5 10.3 .5 -2.6 .5 -1.4 .5 3.3 .5 -1.2 .4 -5.4 .5 9.7 .5 -7.7 .5 -3.7 .5 8.9 .5 -3.3 .5 -.3 .5 .8 .5 -4.5 .5 2.2 .4 .9 .5 1.6 .5 3.3 .5 -7.4 .5 4 .5 1.8 .5 -1.4 .5 -9.1 .5 10.7 .5 -7.2 .4 8.4 .5 -.1 .5 -11.2 .5 11.4 .5 -5 .5 -6.1 .5 14.5 .5 -7.5 .5 -1.5 .5 2.4 .4 -4.3 .5 1.8 .5 2.1 .5 -3 .5 3 .5 6.7 .5 -9.5 .5 -6 .5 4 .5 2.6 .4 7.4 .5 -2.9 .5 -6.1 .5 1.9 .5 -3.8 .5 6.7 .5 5.6 .5 -.5 .5 -7.5 .5 -1.3 .4 3.9 .5 -2.1 .5 .8 .5 -2.5 .5 6.8 .5 .4 .5 -.7 .5 -3.5 .5 -.5 .5 6.5 .4 -6.8 .5 -2 .5 5.1 .5 -4 .5 5.4 .5 -5 .5 5.9 .5 -5.1 .5 6.5 .5 0 .4 -10.7 .5 3.4 .5 2.9 .5 -7.2 .5 13.3 .5 -11.8 .5 4.1 .5 1.1 .5 -3.1 .5 -3.5 .4 2.6 .5 2.3 .5 -1.2 .5 -4.1 .5 8.6 .5 -6 .5 8.6 .5 -11.9 .5 3.9 .5 5.1 .4 -4.8 .5 4.4 .5 -3.5 .5 6.4 .5 -7.4 .5 1.8 .5 .7 .5 -1.4 .5 3.7 .5 -2.6 .4 -.5 .5 4.9 .5 -.5 .5 -9.8 .5 10.1 .5 -2.9 .5 4.6 .5 2.1 .5 -10.7 .5 .8 .4 9.3 .5 4.6 .5 -5.5 .5 -12.8 .5 7 .5 1.9 .5 1.7 .5 -1.2 .5 .8 .5 -5 .4 2.6 .5 -3.4 .5 6.1 .5 -8.2 .5 5.8 .5 2.7 .5 2.7 .5 -.7 .5 -4.9 .5 -15.3 .4 19.7 .5 -.1 .5 -10.9 .5 7.8 .5 -3.1 .5 3.4 .5 4.3 .5 -2.6 .5 4.8 .5 -4.1 .4 1.4 .5 -.6 .5 1.4 .5 2.7 .5 -6.5 .5 -1.5 .5 .9 .5 -5 .5 1 .5 6 .4 -1.9 .5 -.3 .5 -2.5 .5 5.8 .5 -10.1 .5 7.4 .5 -5.4 .5 9 .5 2.6 .5 -.9 .4 -4.7 .5 2.2 .5 .8 .5 -5.9 .5 11.1 .5 -9.8 .5 5.3 .5 1.7 .5 -14.7 .5 5.6 .4 .8 .5 6 .5 -5.7 .5 1.9 .5 -.1 .5 -13.9 .5 6.8 .5 3.8 .5 6.2 .5 -.2 .4 -3.8 .5 6 .5 -2.8 .5 1.3 .5 -6 .5 4.2 .5 -2.8 .5 -3 .5 5 .5 -1.6 .4 -1.6 .5 3.8 .5 -5 .5 5.1 .5 2.3 .5 -6.5 .5 -2.2 .5 -2.5 .5 13.9 .5 -9.7 .4 -4 .5 3 .5 4.5 .5 6.6 .5 -10.7 .5 10.6 .5 -11 .5 8.3 .5 -4.4 .5 6.1 .4 -6.8 .5 3.7 .5 -4.1 .5 1.1 .5 .8 .5 2.5 .5 -7.1 .5 10.2 .5 -2.7 .5 -3.3 .4 5.6 .5 1 .5 -6.4 .5 6.1 .5 -14.3 .5 3.3 .5 -2.5 .5 .1 .5 2 .5 7.8 .4 -6.8 .5 .3 .5 2.1 .5 3.9 .5 8.2 .5 -13.4 .5 3.5 .5 -4.5 .5 9.8 .5 -2 .4 1.5 .5 -5.5 .5 -2.7 .5 3 .5 -6.4 .5 2 .5 2.4 .5 -2.4 .5 7.1 .4 -3.4 .5 -5 .5 8.6 .5 -6.8 .5 -3.7 .5 3.4 .5 -1.2 .5 6.6 .5 -1.7 .5 3.3 .4 -8.8 .5 3.9 .5 .7 .5 -6.1 .5 9 .5 -4.8 .5 -3.1 .5 12.5 .5 -10 .5 -1.3 .4 9.5 .5 -12.1 .5 4.6 .5 4 .5 -2.5 .5 2 .5 -5.2 .5 -2.2 .5 3.9 .5 2.9 .4 -.4 .5 -2 .5 .1 .5 3.1 .5 -8.7 .5 14.5 .5 -11.4 .5 -5.1 .5 9.5 .5 -10.8 .4 9.9 .5 -5 .5 1.1 .5 6 .5 -5.9 .5 .5 .5 -3.9 .5 2.8 .5 3.4 .5 -6.7 .4 -3.1 .5 5.7 .5 3.9 .5 -1.4 .5 .1 .5 2.5 .5 4.5 .5 -3.3 .5 -10 .5 1.7 .4 3.4 .5 .3 .5 -5.7 .5 1.5 .5 6.7 .5 -1.2 .5 -2.3 .5 5.4 .5 -4.5 .5 -.2 .4 .3 .5 -.2 .5 .1 .5 .6 .5 .3 .5 .1 .5 1.5 .5 -2.2 .5 3.4 .5 -1.5 .4 .6 .5 -6.6 .5 5.5 .5 3.9 .5 -8.5 .5 10.9 .5 -4.7 .5 -1.6 .5 1.7 .5 -3.9 .4 1.9 .5 -4.5 .5 12.9 .5 -7.9 .5 -1.6 .5 2.6 .5 7.9 .5 -11.2 .5 .8 .5 8.7 .4 -7.8 .5 9.7 .5 -9.9 .5 2.7 .5 .7 .5 -.4 .5 2.6 .5 -.1 .5 -4.9 .5 10.5 .4 -9.6 .5 2.1 .5 -5.1 .5 3.1 .5 -6.6 .5 1.2 .5 9.2 .5 -4.3 .5 6 .5 -5 .4 .3 .5 2.9 .5 -5.7 .5 6.6 .5 -3.6 .5 -1.9 .5 4.9 .5 1.7 .5 -2.9 .5 2.9 .4 -9.5 .5 3.8 .5 -1.4 .5 4.7 .5 2.8 .5 -6.2 .5 4.9 .5 -1.1 .5 1.8 .5 1.1 .4 -8 .5 3.9 .5 .6 .5 -5.7 .5 13.2 .5 -13.9 .5 4.5 .5 5.7 .5 .6 .5 -2.6 .4 -4 .5 7.4 .5 -10.1 .5 3.5 .5 -1.3 .5 2.9 .5 -1.6 .5 -4 .5 -.1 .5 6.3 .4 .3 .5 -1.7 .5 -9.3 .5 8.8 .5 -10.1 .5 8.1 .5 -7.5 .5 3.9 .5 9.7 .5 -11.7 .4 1.7 .5 -1.4 .5 7.7 .5 -3.8 .5 6.9 .5 -.8 .5 -2.3 .5 -8.3 .5 4 .5 2.8 .4 -9.4 .5 11.8 .5 -1.5 .5 -1.1 .5 -.3 .5 -1.3 .5 2.1 .5 -4.3 .5 3.2 .5 -.2 .4 -.2 .5 2.3 .5 -5.1 .5 4.7 .5 -2.1 .5 2.3 .5 4.9 .5 -5.3 .5 10 .5 -11.6 .4 -3.7 .5 8.3 .5 .9 .5 -1.9 .5 -4.7 .5 1.3 .5 .4 .5 7.3 .5 -8.4 .5 1.4 .4 -1.4 .5 -1.8 .5 -1.1 .5 3 .5 6.5 .5 -8.6 .5 .8 .5 -6.2 .5 3.7 .5 9.4 .4 -5.2 .5 -3.3 .5 6.1 .5 -3 .5 1.2 .5 -2.2 .5 4.7 .5 -11.1 .5 13.1 .5 -6.2 .4 3.3 .5 -6.8 .5 10.2 .5 -1.1 .5 -6 .5 6.9 .5 -1.7 .5 -.5 .5 -3.5 .5 -.5 .4 9.4 .5 -8.1 .5 -6.1 .5 1.8 .5 3.4 .5 7.7 .5 -9.8 .5 6.8 .5 -4.1 .5 -1.1 .4 2.4 .5 -4.4 .5 2.5 .5 1.4 .5 1.8 .5 -1.3 .5 1.5 .5 5 .5 -12 .5 -1.5 .4 5.7 .5 5.6 .5 -2.9 .5 -2.4 .5 4 .5 -3.7 .5 -1.7 .5 6.9 .5 1.6 .5 -10.1 .4 1.5 .5 -1.6 .5 5.2 .5 -.6 .5 -9.6 .5 4.6 .5 -1.6 .5 .8 .5 6.3 .4 -4 .5 10.1 .5 -14.4 .5 14.6 .5 -10.6 .5 3.7 .5 -5.9 .5 -5.4 .5 8.8 .5 1.1 .4 -.9 .5 -.4 .5 .5 .5 -2.3 .5 -1.8 .5 8.3 .5 -8.7 .5 10.9 .5 -8 .5 6.3 .4 -11.8 .5 6.9 .5 -2.1 .5 -5 .5 3.6 .5 5.9 .5 4.6 .5 -2.7 .5 -3.7 .5 2.3 .4 .6 .5 -.2 .5 2.4 .5 -10.6 .5 1.3 .5 4.3 .5 -5.1 .5 9.4 .5 -18.3 .5 14.9 .4 -7.4 .5 8.2 .5 -4.4 .5 -2.6 .5 -1.2 .5 8.3 .5 -1.7 .5 .5 .5 -7.7 .5 8.2 .4 8.3 .5 -2.1 .5 2.9 .5 -2.5 .5 -14.5 .5 12.6 .5 -2.8 .5 1.1 .5 1.7 .5 -1.2 .4 -5.8 .5 3.9 .5 -5 .5 2.8 .5 6.9 .5 -4.5 .5 -5.6 .5 -3.5 .5 12.2 .5 -8.1 .4 -2.5 .5 -4.5 .5 10.4 .5 -5.2 .5 13.2 .5 -13.8 .5 1.3 .5 9.6 .5 -3.6 .5 -1 .4 -2.4 .5 .8 .5 -.8 .5 8.7 .5 -3 .5 .8 .5 -7 .5 6.6 .5 -2.7 .5 -1.8 .4 -7.6 .5 6.3 .5 -5.5 .5 11.9 .5 -2.2 .5 -11.2 .5 8.7 .5 -6.9 .5 3.8 .5 3.8 .4 5.1 .5 -9.6 .5 2.9 .5 -10.9 .5 12.6 .5 -2.9 .5 2.4 .5 .7 .5 -8.1 .5 1.1 .4 9.1 .5 -2.4 .5 -1 .5 2.4 .5 -7.5 .5 3.9 .5 2.1 .5 -2.4 .5 -.8 .5 3 .4 -.2 .5 -3.3 .5 -.1 .5 5.5 .5 -5.4L650.2 599.5 160.7 599.5Z" fill="#fff" stroke="#ff0a00" stroke-width="1.48" stroke-linejoin="round" stroke-dasharray="4854.12 99999"/><path d="M130.3 581.7l.5 -5.1 .5 6.2 .5 -3.3 .5 -6.5 .5 11.9 .5 -11.2 .5 -.1 .5 1.6 .5 3.8 .6 0 .5 4 .5 -13.8 .5 1.4 .5 17 .5 -15.1 .5 10.1 .5 -3.1 .5 1.5 .5 1.5 .5 -.1 .5 2.7 .5 -14.5 .5 5.3 .5 -3.1 .5 6.5 .5 2.7 .5 -2.9 .5 14 .5 -6.3 .6 .4 .5 -5.3 .5 -11.6 .5 7.4 .5 -1.1 .5 -1.2 .5 4.3 .5 2 .5 7.8 .5 -6.9 .5 .1 .5 -1.6 .5 -4.7 .5 6.6 .5 -6.5 .5 1.1 .5 -1.1 .5 6.3 .5 -12.9 .5 9.7 .6 2.3 .5 -9.3 .5 1.3 .5 2.9 .5 2.5 .5 1.2 .5 -1.2 .5 -3.2 .5 5.5 .5 -5.4 .5 5.3 .5 -4.9 .5 -.8 .5 4.3 .5 -3.5 .5 .8 .5 5.7 .5 -.5 .5 -3.6 .5 -6.5 .6 -1.5 .5 11.7 .5 -4.8 .5 -4.9 .5 4.7 .5 -4.8 .5 7.3 .5 1 .5 -1.8 .5 -.5 .5 -1.3 .5 13 .5 -7.2 .5 -4.5 .5 1.2 .5 -9.8 .5 7.1 .5 2.2 .5 -3.9 .5 -5.3 .6 14.5 .5 -6.1 .5 .1 .5 -1 .5 -5.7 .5 3 .5 -1.6 .5 -1.2 .5 6.3 .5 3 .5 -4.7 .5 -.4 .5 1.5 .5 .1 .5 -1.2 .5 -2.3 .5 -1.1 .5 -2.9 .5 3.8 .5 2.1 .6 -.4 .5 -.4 .5 .3 .5 -1.7 .5 -2.9 .5 7.1 .5 -6.3 .5 9.9 .5 -1.2 .5 -9.4 .5 8.5 .5 -8.2 .5 3.5 .5 .2 .5 -.2 .5 -1.6 .5 7.3 .5 -5.4 .5 6 .5 -2.7 .6 -4.7 .5 9.8 .5 -10.8 .5 1.3 .5 6.4 .5 -1 .5 -.2 .5 -2 .5 -6.6 .5 -.1 .5 8.1 .5 1.8 .5 -.3 .5 -3.1 .5 .6 .5 -2.7 .5 -4.9 .5 12.5 .5 -5.7 .5 11.1 .6 -7 .5 -.1 .5 3.5 .5 -9.3 .5 7.3 .5 -3.6 .5 .3 .5 -1.7 .5 4.9 .5 4.8 .5 -13.9 .5 6.3 .5 2 .5 -9.1 .5 13.9 .5 -8.9 .5 9.1 .5 -9.9 .5 -.3 .5 6.6 .6 0 .5 -4.1 .5 -.9 .5 -.6 .5 2.6 .5 -.1 .5 -1.2 .5 -2.2 .5 -6.4 .5 10.1 .5 -3.5 .5 4.3 .5 .8 .5 -10.3 .5 9.4 .5 -8.8 .5 4.1 .5 -1.8 .5 10.2 .5 1.4 .6 -14.3 .5 9.2 .5 .5 .5 -1.4 .5 -.6 .5 7.2 .5 -13.5 .5 7.4 .5 -4.8 .5 -4.1 .5 5.8 .5 -4.6 .5 4.2 .5 4.7 .5 -1.9 .5 -5.1 .5 5.5 .5 5.1 .5 2.9 .5 -9.8 .6 5.8 .5 -5.9 .5 4.8 .5 -1.2 .5 -6.3 .5 11.4 .5 -4.5 .5 -3.7 .5 -.2 .5 4 .5 -1.8 .5 6.5 .5 -14.4 .5 11.4 .5 -6.4 .5 8.2 .5 -2.7 .5 .7 .5 .9 .5 0 .6 -7.1 .5 4.7 .5 4.6 .5 -10.9 .5 .7 .5 2.9 .5 -1 .5 .4 .5 5.2 .5 -8.1 .5 2.5 .5 -18.4 .5 17.7 .5 1.8 .5 4.5 .5 -6.9 .5 7.6 .5 2.7 .5 -10.9 .5 7.8 .6 -2.9 .5 -5.7 .5 5.2 .5 -1.2 .5 5.7 .5 .7 .5 1.1 .5 -6.9 .5 3.7 .5 .8 .5 -4.1 .5 7.4 .5 -8 .5 -2.3 .5 .3 .5 -1.8 .5 6.3 .5 3.6 .5 -3.1 .5 2.5 .6 3.6 .5 -8.9 .5 5 .5 -3.8 .5 -1.7 .5 16.6 .5 -7.3 .5 -2.1 .5 -3.4 .5 4.4 .5 -5.4 .5 .9 .5 2.4 .5 -1.8 .5 5.8 .5 -.9 .5 -7 .5 7.5 .5 -6.2 .5 -.9 .6 5.4 .5 2.1 .5 -9.9 .5 -1.7 .5 -3.8 .5 7.4 .5 -1.8 .5 9.4 .5 -2.4 .5 -5.1 .5 5 .5 -3.9 .5 -5.4 .5 7.1 .5 -.3 .5 .3 .5 -4.1 .5 -.8 .5 .8 .5 5.1 .6 1 .5 -9.2 .5 -5.3 .5 5 .5 -5.7 .5 13.3 .5 -4.4 .5 9.6 .5 -12.7 .5 3.1 .5 5.1 .5 1.1 .5 -2 .5 -4.1 .5 3 .5 .3 .5 2.3 .5 -4.2 .5 .6 .5 .9 .6 5.9 .5 -11.5 .5 10.5 .5 -5.6 .5 -.6 .5 2.2 .5 .5 .5 -1.5 .5 5.9 .5 -11.6 .5 12.2 .5 -4.4 .5 -4.1 .5 -5 .5 -6 .5 20.7 .5 -4.1 .5 -6.5 .5 -2.7 .5 4 .6 -7.9 .5 6.5 .5 5 .5 3 .5 -2.8 .5 -5.8 .5 1.3 .5 15.1 .5 -12.6 .5 .2 .5 1.4 .5 -1.4 .5 6.8 .5 -9.3 .5 11.2 .5 -6.2 .5 -12.4 .5 13.2 .5 1.4 .5 -7.3 .6 0 .5 -7.6 .5 12.7 .5 -5 .5 8.7 .5 -8.4 .5 .5 .5 3.7 .5 -8.2 .5 4 .5 -2.1 .5 3 .5 -.5 .5 1.2 .5 -1.9 .5 -3.1 .5 9.9 .5 -5.3 .5 -.1 .5 5 .6 -1.1 .5 -13.9 .5 10.2 .5 1.2 .5 -2.2 .5 -4.1 .5 15.2 .5 -4.1 .5 -5 .5 -4.3 .5 2 .5 2.1 .5 1.5 .5 .6 .5 -6.2 .5 8.8 .5 2.9 .5 -4 .5 -6 .5 -5.8 .6 10.3 .5 -2.4 .5 3.8 .5 -6.2 .5 1.3 .5 -4.5 .5 6.9 .5 -.3 .5 -4.8 .5 4.8 .5 .4 .5 -7.8 .5 6.2 .5 -6 .5 10.4 .5 -7.6 .5 -1.5 .5 9.1 .5 -4.8 .5 8 .6 -16 .5 8.4 .5 2 .5 1.1 .5 -11.7 .5 6 .5 -3.1 .5 2.4 .5 2 .5 -2 .5 2.3 .5 -2.2 .5 8.9 .5 -8 .5 -1.7 .5 3.6 .5 -2.5 .5 -.6 .5 6.8 .5 -2.7 .6 -6.8 .5 17.6 .5 -15.4 .5 -2.7 .5 3.3 .5 -6.2 .5 5.6 .5 -1.7 .5 -1.6 .5 5.5 .5 7.9 .5 -7 .5 -5.1 .5 7.7 .5 1.3 .5 .4 .5 -11.9 .5 9 .5 1.9 .5 -1 .6 -3.8 .5 3 .5 -4.1 .5 4.2 .5 -.7 .5 -2.1 .5 -6.1 .5 10.7 .5 4.2 .5 -14.1 .5 1.7 .5 7.3 .5 -17.8 .5 15 .5 -2.3 .5 9.8 .5 -7.6 .5 -7.4 .5 9.8 .5 2.2 .6 -5.5 .5 4.3 .5 -8.5 .5 10.1 .5 5.2 .5 -13.8 .5 1.4 .5 -3.3 .5 9 .5 -.1 .5 -1.3 .5 -9.8 .5 11.4 .5 -3.3 .5 -2.5 .5 3.8 .5 -5.3 .5 -1.3 .5 13.1 .5 -16.1 .6 7.6 .5 -1 .5 -5 .5 6.6 .5 -6.1 .5 -.1 .5 7.9 .5 -8.1 .5 .1 .5 7.4 .5 -4.6 .5 0 .5 12.2 .5 -5 .5 -4.4 .5 3.7 .5 -6.8 .5 8.6 .5 -4.2 .5 2.6 .6 -6.6 .5 .5 .5 4.4 .5 -3.3 .5 -3.9 .5 6.2 .5 -3.6 .5 -1.5 .5 9.4 .5 .9 .5 1.4 .5 -8.1 .5 1.9 .5 -7.4 .5 9.3 .5 -4.9 .5 2.7 .5 4.8 .5 -2.7 .5 -7.8 .6 15 .5 -13.5 .5 6.8 .5 -1.3 .5 2.9 .5 -4.7 .5 1.3 .5 .7 .5 1.1 .5 12.3 .5 -14.3 .5 1.2 .5 -1.8 .5 -3 .5 5.1 .5 -2.8 .5 .6 .5 -1.1 .5 -2.7 .5 .7 .6 3.7 .5 5.3 .5 -10.5 .5 3.6 .5 -2.4 .5 10.4 .5 0 .5 2 .5 -8.5 .5 3.4 .5 -8.8 .5 9.5 .5 -5 .5 -1.4 .5 3.8 .5 -2.3 .5 1 .5 1.4 .5 3.6 .5 -.7 .6 -8.7 .5 2.6 .5 -3.2 .5 11 .5 -6.1 .5 1.9 .5 -1 .5 6.2 .5 -3.5 .5 -2.3 .5 -3.1 .5 5 .5 3.2 .5 -5 .5 1.7 .5 -.6 .5 -2.7 .5 -2.6 .5 6.4 .5 -6.1 .6 -2.4 .5 5.1 .5 -3.6 .5 5.1 .5 .2 .5 -1.6 .5 3.9 .5 -1.9 .5 1.6 .5 -3 .5 -1.6 .5 -4.5 .5 5.5 .5 -.1 .5 -5.4 .5 .6 .5 5.7 .5 .2 .5 -1 .5 -3.3 .6 -.1 .5 8.7 .5 -8.1 .5 1.6 .5 -5.5 .5 6.2 .5 3.4 .5 -9.4 .5 -3 .5 -1.6 .5 9.2 .5 -2.5 .5 1.6 .5 4.5 .5 -9 .5 -7.1 .5 6.6 .5 6.7 .5 -6.2 .5 2.5 .6 -3.3 .5 6.7 .5 1.5 .5 -.5 .5 -6 .5 11.1 .5 .5 .5 -6.6 .5 -3.6 .5 -1.2 .5 3.9 .5 2.5 .5 -7.5 .5 3.6 .5 6.9 .5 -7.5 .5 3.7 .5 2.3 .5 -5.9 .5 -3 .6 10.8 .5 -6.1 .5 -2.4 .5 -6.1 .5 11.1 .5 -5.2 .5 2.4 .5 -8.3 .5 2.4 .5 .8 .5 6.1 .5 -9.7 .5 6.6 .5 4.9 .5 2.8 .5 -7.4 .5 2.7 .5 -5.1 .5 .2 .5 -.6 .6 -3.2 .5 10.4 .5 -1.1 .5 3.9 .5 -1.8 .5 4.8 .5 -2.5 .5 -13.9 .5 11 .5 -5.6 .5 4.1 .5 2.5 .5 -9.6 .5 6.2 .5 -2.7 .5 -.9 .5 4.9 .5 -5.8 .5 7 .5 -5 .6 3.6 .5 -4.8 .5 4.8 .5 -2.6 .5 1.8 .5 -4.5 .5 7.7 .5 -5.7 .5 5.1 .5 -2.1 .5 -1.2 .5 3.8 .5 -6.2 .5 9.6 .5 -10.5 .5 .6 .5 -9 .5 13.8 .5 1.4 .5 -5.1 .6 1.3 .5 -.1 .5 3.4 .5 -5.8 .5 -1.9 .5 1.5 .5 3.1 .5 -.1 .5 -5.3 .5 -3.8 .5 3.4 .5 4.9 .5 -2.6 .5 3.9 .5 -7.1 .5 10.5 .5 2 .5 -14 .5 8.3 .5 -9.1 .6 12.2 .5 1.9 .5 -7.9 .5 2.7 .5 -3.5 .5 7.1 .5 -3.8 .5 1.1 .5 4.2 .5 -9.3 .5 3.2 .5 -5.3 .5 6.5 .5 -4.5 .5 -.3 .5 6.8 .5 -1.7 .5 -7.1 .5 14 .5 -9.5 .6 3.5 .5 .2 .5 -6.7 .5 -.5 .5 1 .5 -.6 .5 10.5 .5 -7.6 .5 6.8 .5 -9.7 .5 .4 .5 1.5 .5 -2.3 .5 12.4 .5 -11.1 .5 -2.6 .5 21.1 .5 -17.4 .5 -1.7 .5 -13.2 .6 19.8 .5 .7 .5 -4.6 .5 2.7 .5 6.8 .5 -8.4 .5 -3.5 .5 -.5 .5 3.8 .5 -.4 .5 -7.3 .5 5.3 .5 -.8 .5 4.2 .5 -2.9 .5 3.4 .5 3.8 .5 -8 .5 .6 .5 7.5 .6 -5.3 .5 4.8 .5 -5.7 .5 1.7 .5 8.5 .5 -8.7 .5 7.5 .5 -3.8 .5 -2.9 .5 2.7 .5 4.1 .5 -2.5 .5 -5.8 .5 -2.4 .5 8.3 .5 -6.3 .5 1.4 .5 5.4 .5 -1.2 .5 1.6 .6 -9.3 .5 15.9 .5 -10.4 .5 .3 .5 2.5 .5 -2 .5 -.5 .5 -4.6 .5 .1 .5 3.7 .5 -4.1 .5 4 .5 -6.9 .5 4.4 .5 5.6 .5 4.6 .5 -10.3 .5 5.5 .5 -12.5 .5 5 .6 10.5 .5 -5.7 .5 2.6 .5 -5 .5 3.3 .5 -.2 .5 -2 .5 -7.4 .5 7.8 .5 -5 .5 7.7 .5 -2.5 .5 2.1 .5 -.5 .5 1.5 .5 -2.6 .5 8.7 .5 -8.9 .5 -4.3 .5 9.2 .6 -3.8 .5 -3 .5 2.1 .5 -3.1 .5 1.7 .5 2.5 .5 -3.4 .5 -7.9 .5 8.5 .5 -2.7 .5 1.4 .5 2.3 .5 .8 .5 8.3 .5 -15.4 .5 7.5 .5 -4.7 .5 7.3 .5 -2.7 .5 -3.9 .6 -.1 .5 -8.7 .5 15.8 .5 -2.6 .5 -6.7 .5 10.8 .5 -11.8 .5 2 .5 4.5 .5 .8 .5 -3.7 .5 3.7 .5 -5.1 .5 6.2 .5 -3 .5 -1.6 .5 1.4 .5 -2.8 .5 3.6 .5 -5.4 .6 8.3 .5 -6 .5 3.6 .5 9 .5 -18.8 .5 14 .5 -6.2 .5 3.4 .5 -.6 .5 2 .5 -7.6 .5 11.1 .5 -3.1 .5 -3.7 .5 .4 .5 9.2 .5 -9.9 .5 -.8 .5 -.8 .5 7.5 .6 -8.1 .5 6.5 .5 -5.2 .5 .4 .5 9 .5 -3.7 .5 -.5 .5 3.9 .5 -13.7 .5 9 .5 -5.2 .5 3.4 .5 3.3 .5 -9.2 .5 -2.5 .5 11.4 .5 -15.6 .5 7.3 .5 7.3 .5 -7.4 .6 3.7 .5 -5.8 .5 -1.7 .5 11.7 .5 -8.4 .5 2.8 .5 6.2 .5 -9.1 .5 9.9 .5 -14.2 .5 10.3 .5 9.3 .5 -9.7 .5 -.8 .5 -.6 .5 5.6 .5 -2.4 .5 -5.1 .5 -.2 .5 1.1 .6 -2.3 .5 9.1 .5 -1.8 .5 -1 .5 -2.6 .5 -.1 .5 -1.8 .5 3 .5 .6 .5 5.2 .5 -4.5 .5 4.8 .5 -.3 .5 -1.9 .5 -5.2 .5 -4.3 .5 10.4 .5 -.2 .5 -11.5 .5 -4.1 .6 11.3 .5 -4.2 .5 -.6 .5 .9 .5 5.7 .5 -4.7 .5 3.7 .5 -4.7 .5 -1.7 .5 6.7L634.8 634.7 130.3 634.7Z" fill="#fff" stroke="#ff0000" stroke-width="1.45" stroke-linejoin="round" stroke-dasharray="5103.72 99999"/><line x1="637.4" y1="634.7" x2="794.6" y2="270.2" stroke="#303030" stroke-width="1.4"/></g><g stroke="#000" stroke-width="2.3" fill="none"><line x1="130.7" y1="380.6" x2="130.7" y2="635.8"/><line x1="120" y1="634.6" x2="646.5" y2="634.6"/><line x1="120" y1="381.8" x2="130.7" y2="381.8"/><line x1="120" y1="409.9" x2="130.7" y2="409.9"/><line x1="120" y1="438.0" x2="130.7" y2="438.0"/><line x1="120" y1="466.1" x2="130.7" y2="466.1"/><line x1="120" y1="494.2" x2="130.7" y2="494.2"/><line x1="120" y1="522.3" x2="130.7" y2="522.3"/><line x1="120" y1="550.4" x2="130.7" y2="550.4"/><line x1="120" y1="578.5" x2="130.7" y2="578.5"/><line x1="120" y1="606.6" x2="130.7" y2="606.6"/><line x1="120" y1="634.7" x2="130.7" y2="634.7"/><line x1="180.8" y1="634.6" x2="180.8" y2="645"/><line x1="231.2" y1="634.6" x2="231.2" y2="645"/><line x1="281.7" y1="634.6" x2="281.7" y2="645"/><line x1="332.1" y1="634.6" x2="332.1" y2="645"/><line x1="382.6" y1="634.6" x2="382.6" y2="645"/><line x1="433.0" y1="634.6" x2="433.0" y2="645"/><line x1="483.5" y1="634.6" x2="483.5" y2="645"/><line x1="533.9" y1="634.6" x2="533.9" y2="645"/><line x1="584.4" y1="634.6" x2="584.4" y2="645"/><line x1="634.8" y1="634.6" x2="634.8" y2="645"/><line x1="155.5" y1="634.6" x2="155.5" y2="640.8"/><line x1="206.0" y1="634.6" x2="206.0" y2="640.8"/><line x1="256.4" y1="634.6" x2="256.4" y2="640.8"/><line x1="306.9" y1="634.6" x2="306.9" y2="640.8"/><line x1="357.3" y1="634.6" x2="357.3" y2="640.8"/><line x1="407.8" y1="634.6" x2="407.8" y2="640.8"/><line x1="458.2" y1="634.6" x2="458.2" y2="640.8"/><line x1="508.7" y1="634.6" x2="508.7" y2="640.8"/><line x1="559.1" y1="634.6" x2="559.1" y2="640.8"/><line x1="609.6" y1="634.6" x2="609.6" y2="640.8"/></g><g font-family="'Liberation Sans', Arial, Helvetica, sans-serif" font-size="29.5" fill="#000"><text transform="translate(109.2,389.7) scale(1,1.030)" font-size="29.5" text-anchor="end">1.14</text><text transform="translate(109.2,418.1) scale(1,1.030)" font-size="29.5" text-anchor="end">1.12</text><text transform="translate(109.2,446.4) scale(1,1.030)" font-size="29.5" text-anchor="end">1.10</text><text transform="translate(109.2,474.8) scale(1,1.030)" font-size="29.5" text-anchor="end">1.08</text><text transform="translate(109.2,503.1) scale(1,1.030)" font-size="29.5" text-anchor="end">1.06</text><text transform="translate(109.2,531.5) scale(1,1.030)" font-size="29.5" text-anchor="end">1.04</text><text transform="translate(109.2,559.9) scale(1,1.030)" font-size="29.5" text-anchor="end">1.02</text><text transform="translate(109.2,588.2) scale(1,1.030)" font-size="29.5" text-anchor="end">1.00</text><text transform="translate(109.2,616.6) scale(1,1.030)" font-size="29.5" text-anchor="end">0.98</text><text transform="translate(109.2,644.9) scale(1,1.030)" font-size="29.5" text-anchor="end">0.96</text><text transform="translate(180.8,680.0) scale(1,1.030)" font-size="29.5" text-anchor="middle">1</text><text transform="translate(231.2,680.0) scale(1,1.030)" font-size="29.5" text-anchor="middle">2</text><text transform="translate(281.7,680.0) scale(1,1.030)" font-size="29.5" text-anchor="middle">3</text><text transform="translate(332.1,680.0) scale(1,1.030)" font-size="29.5" text-anchor="middle">4</text><text transform="translate(382.6,680.0) scale(1,1.030)" font-size="29.5" text-anchor="middle">5</text><text transform="translate(433.0,680.0) scale(1,1.030)" font-size="29.5" text-anchor="middle">6</text><text transform="translate(483.5,680.0) scale(1,1.030)" font-size="29.5" text-anchor="middle">7</text><text transform="translate(533.9,680.0) scale(1,1.030)" font-size="29.5" text-anchor="middle">8</text><text transform="translate(584.4,680.0) scale(1,1.030)" font-size="29.5" text-anchor="middle">9</text><text transform="translate(634.8,680.0) scale(1,1.030)" font-size="29.5" text-anchor="middle">10</text></g><text transform="translate(388.2,727.0) scale(1,1.030)" font-size="29.5" text-anchor="middle">Time (s)</text><text transform="translate(21.6,545.0) rotate(-90) scale(1,1.000)" font-size="29"><tspan font-size="26.5">&#916;</tspan>F/F<tspan font-size="20" dy="8">0</tspan></text><text transform="translate(732.0,508.5) skewX(-20.3) rotate(-90) scale(1,1.050)" font-size="27.5">Event traces</text><text transform="translate(0.4,31.2) scale(1,1.050)" font-size="43" font-weight="bold">a</text><text transform="translate(842.2,31.2) scale(1,1.050)" font-size="43" font-weight="bold">b</text><text transform="translate(1198.6,43.7) scale(1,1.050)" font-size="29.5" text-anchor="middle">HFF</text><rect x="1066.6" y="589.7" width="75.9" height="133.3" fill="#808080" stroke="#000" stroke-width="2"/><rect x="1253.6" y="698.4" width="77.1" height="24.6" fill="#808080" stroke="#000" stroke-width="2"/><clipPath id="clipb"><rect x="1010.8" y="0" width="377.8" height="720.1"/></clipPath><g clip-path="url(#clipb)"><polygon points="1104.5,168.7 1113.1,177.3 1104.5,185.9 1095.9,177.3" fill="#000"/><polygon points="1104.2,286.1 1112.8,294.7 1104.2,303.3 1095.6,294.7" fill="#000"/><polygon points="1104.2,348.8 1112.8,357.4 1104.2,366.0 1095.6,357.4" fill="#000"/><polygon points="1107.1,385.9 1115.7,394.5 1107.1,403.1 1098.5,394.5" fill="#000"/><polygon points="1101.6,398.1 1110.2,406.7 1101.6,415.3 1093.0,406.7" fill="#000"/><polygon points="1101.6,413.5 1110.2,422.1 1101.6,430.7 1093.0,422.1" fill="#000"/><polygon points="1107.1,428.9 1115.7,437.5 1107.1,446.1 1098.5,437.5" fill="#000"/><polygon points="1104.5,467.4 1113.1,476.0 1104.5,484.6 1095.9,476.0" fill="#000"/><polygon points="1099.3,474.2 1107.9,482.8 1099.3,491.4 1090.7,482.8" fill="#000"/><polygon points="1104.5,487.8 1113.1,496.4 1104.5,505.0 1095.9,496.4" fill="#000"/><polygon points="1110.0,486.4 1118.6,495.0 1110.0,503.6 1101.4,495.0" fill="#000"/><polygon points="1093.7,510.6 1102.3,519.2 1093.7,527.8 1085.1,519.2" fill="#000"/><polygon points="1088.2,513.7 1096.8,522.3 1088.2,530.9 1079.6,522.3" fill="#000"/><polygon points="1099.2,523.4 1107.8,532.0 1099.2,540.6 1090.6,532.0" fill="#000"/><polygon points="1110.0,521.6 1118.6,530.2 1110.0,538.8 1101.4,530.2" fill="#000"/><polygon points="1120.7,534.2 1129.3,542.8 1120.7,551.4 1112.1,542.8" fill="#000"/><polygon points="1112.8,539.9 1121.4,548.5 1112.8,557.1 1104.2,548.5" fill="#000"/><polygon points="1101.4,541.4 1110.0,550.0 1101.4,558.6 1092.8,550.0" fill="#000"/><polygon points="1107.0,563.4 1115.6,572.0 1107.0,580.6 1098.4,572.0" fill="#000"/><polygon points="1117.9,571.4 1126.5,580.0 1117.9,588.6 1109.3,580.0" fill="#000"/><polygon points="1090.7,575.7 1099.3,584.3 1090.7,592.9 1082.1,584.3" fill="#000"/><polygon points="1095.7,582.1 1104.3,590.7 1095.7,599.3 1087.1,590.7" fill="#000"/><polygon points="1104.3,592.8 1112.9,601.4 1104.3,610.0 1095.7,601.4" fill="#000"/><polygon points="1110.0,600.0 1118.6,608.6 1110.0,617.2 1101.4,608.6" fill="#000"/><polygon points="1112.8,611.4 1121.4,620.0 1112.8,628.6 1104.2,620.0" fill="#000"/><polygon points="1117.9,625.7 1126.5,634.3 1117.9,642.9 1109.3,634.3" fill="#000"/><polygon points="1091.4,627.1 1100.0,635.7 1091.4,644.3 1082.8,635.7" fill="#000"/><polygon points="1097.0,631.4 1105.6,640.0 1097.0,648.6 1088.4,640.0" fill="#000"/><polygon points="1107.0,635.7 1115.6,644.3 1107.0,652.9 1098.4,644.3" fill="#000"/><polygon points="1089.3,645.7 1097.9,654.3 1089.3,662.9 1080.7,654.3" fill="#000"/><polygon points="1102.3,647.0 1110.9,655.6 1102.3,664.2 1093.7,655.6" fill="#000"/><polygon points="1119.2,648.3 1127.8,656.9 1119.2,665.5 1110.6,656.9" fill="#000"/><polygon points="1085.4,656.1 1094.0,664.7 1085.4,673.3 1076.8,664.7" fill="#000"/><polygon points="1123.0,656.1 1131.6,664.7 1123.0,673.3 1114.4,664.7" fill="#000"/><polygon points="1095.8,676.2 1104.4,684.8 1095.8,693.4 1087.2,684.8" fill="#000"/><polygon points="1106.2,676.2 1114.8,684.8 1106.2,693.4 1097.6,684.8" fill="#000"/><polygon points="1112.7,674.2 1121.3,682.8 1112.7,691.4 1104.1,682.8" fill="#000"/><polygon points="1080.3,683.4 1088.9,692.0 1080.3,700.6 1071.7,692.0" fill="#000"/><polygon points="1069.9,691.1 1078.5,699.7 1069.9,708.3 1061.3,699.7" fill="#000"/><polygon points="1090.6,692.4 1099.2,701.0 1090.6,709.6 1082.0,701.0" fill="#000"/><polygon points="1102.3,692.4 1110.9,701.0 1102.3,709.6 1093.7,701.0" fill="#000"/><polygon points="1107.5,685.9 1116.1,694.5 1107.5,703.1 1098.9,694.5" fill="#000"/><polygon points="1128.3,684.6 1136.9,693.2 1128.3,701.8 1119.7,693.2" fill="#000"/><polygon points="1133.5,691.1 1142.1,699.7 1133.5,708.3 1124.9,699.7" fill="#000"/><polygon points="1140.0,690.4 1148.6,699.0 1140.0,707.6 1131.4,699.0" fill="#000"/><polygon points="1112.7,702.8 1121.3,711.4 1112.7,720.0 1104.1,711.4" fill="#000"/><polygon points="1075.0,714.4 1083.6,723.0 1075.0,731.6 1066.4,723.0" fill="#000"/><polygon points="1085.4,714.4 1094.0,723.0 1085.4,731.6 1076.8,723.0" fill="#000"/><polygon points="1095.8,714.4 1104.4,723.0 1095.8,731.6 1087.2,723.0" fill="#000"/><polygon points="1116.6,714.4 1125.2,723.0 1116.6,731.6 1108.0,723.0" fill="#000"/><polygon points="1123.0,714.4 1131.6,723.0 1123.0,731.6 1114.4,723.0" fill="#000"/><polygon points="1100.0,587.4 1108.6,596.0 1100.0,604.6 1091.4,596.0" fill="#000"/><polygon points="1291.6,559.1 1300.2,567.7 1291.6,576.3 1283.0,567.7" fill="#ff0000"/><polygon points="1291.6,599.8 1300.2,608.4 1291.6,617.0 1283.0,608.4" fill="#ff0000"/><polygon points="1289.6,621.5 1298.2,630.1 1289.6,638.7 1281.0,630.1" fill="#ff0000"/><polygon points="1292.8,631.4 1301.4,640.0 1292.8,648.6 1284.2,640.0" fill="#ff0000"/><polygon points="1288.6,653.5 1297.2,662.1 1288.6,670.7 1280.0,662.1" fill="#ff0000"/><polygon points="1294.6,663.4 1303.2,672.0 1294.6,680.6 1286.0,672.0" fill="#ff0000"/><polygon points="1296.5,672.0 1305.1,680.6 1296.5,689.2 1287.9,680.6" fill="#ff0000"/><polygon points="1286.7,673.2 1295.3,681.8 1286.7,690.4 1278.1,681.8" fill="#ff0000"/><polygon points="1323.6,683.1 1332.2,691.7 1323.6,700.3 1315.0,691.7" fill="#ff0000"/><polygon points="1328.6,695.4 1337.2,704.0 1328.6,712.6 1320.0,704.0" fill="#ff0000"/><polygon points="1255.6,681.2 1264.2,689.8 1255.6,698.4 1247.0,689.8" fill="#ff0000"/><polygon points="1290.6,674.6 1299.2,683.2 1290.6,691.8 1282.0,683.2" fill="#ff0000"/><polygon points="1294.5,666.1 1303.1,674.7 1294.5,683.3 1285.9,674.7" fill="#ff0000"/><polygon points="1324.0,684.0 1332.6,692.6 1324.0,701.2 1315.4,692.6" fill="#ff0000"/><polygon points="1327.9,696.4 1336.5,705.0 1327.9,713.6 1319.3,705.0" fill="#ff0000"/><polygon points="1260.0,707.4 1268.6,716.0 1260.0,724.6 1251.4,716.0" fill="#ff0000"/><polygon points="1268.0,707.4 1276.6,716.0 1268.0,724.6 1259.4,716.0" fill="#ff0000"/><polygon points="1287.0,707.4 1295.6,716.0 1287.0,724.6 1278.4,716.0" fill="#ff0000"/><polygon points="1303.0,707.4 1311.6,716.0 1303.0,724.6 1294.4,716.0" fill="#ff0000"/><polygon points="1322.0,707.4 1330.6,716.0 1322.0,724.6 1313.4,716.0" fill="#ff0000"/><polygon points="1328.0,707.4 1336.6,716.0 1328.0,724.6 1319.4,716.0" fill="#ff0000"/><polygon points="1264.0,697.4 1272.6,706.0 1264.0,714.6 1255.4,706.0" fill="#ff0000"/><polygon points="1272.0,697.4 1280.6,706.0 1272.0,714.6 1263.4,706.0" fill="#ff0000"/><polygon points="1289.0,697.4 1297.6,706.0 1289.0,714.6 1280.4,706.0" fill="#ff0000"/><polygon points="1306.0,697.4 1314.6,706.0 1306.0,714.6 1297.4,706.0" fill="#ff0000"/><polygon points="1326.0,697.4 1334.6,706.0 1326.0,714.6 1317.4,706.0" fill="#ff0000"/><polygon points="1262.0,689.4 1270.6,698.0 1262.0,706.6 1253.4,698.0" fill="#ff0000"/><polygon points="1284.0,689.4 1292.6,698.0 1284.0,706.6 1275.4,698.0" fill="#ff0000"/><polygon points="1318.0,689.4 1326.6,698.0 1318.0,706.6 1309.4,698.0" fill="#ff0000"/><polygon points="1298.0,705.4 1306.6,714.0 1298.0,722.6 1289.4,714.0" fill="#ff0000"/><polygon points="1312.0,707.4 1320.6,716.0 1312.0,724.6 1303.4,716.0" fill="#ff0000"/><polygon points="1280.0,713.4 1288.6,722.0 1280.0,730.6 1271.4,722.0" fill="#ff0000"/><polygon points="1295.0,713.4 1303.6,722.0 1295.0,730.6 1286.4,722.0" fill="#ff0000"/><polygon points="1257.0,713.4 1265.6,722.0 1257.0,730.6 1248.4,722.0" fill="#ff0000"/><polygon points="1330.0,712.4 1338.6,721.0 1330.0,729.6 1321.4,721.0" fill="#ff0000"/><polygon points="1270.0,713.4 1278.6,722.0 1270.0,730.6 1261.4,722.0" fill="#ff0000"/><polygon points="1315.0,714.4 1323.6,723.0 1315.0,731.6 1306.4,723.0" fill="#ff0000"/></g><line x1="1104.3" y1="589.7" x2="1104.3" y2="574.3" stroke="#000" stroke-width="4.3"/><line x1="1083.6" y1="574.3" x2="1125.0" y2="574.3" stroke="#000" stroke-width="4.3" stroke-linecap="round"/><line x1="1292.0" y1="698.4" x2="1292.0" y2="693.7" stroke="#000" stroke-width="4.3"/><line x1="1271.2" y1="693.7" x2="1312.8" y2="693.7" stroke="#000" stroke-width="4.3" stroke-linecap="round"/><line x1="1010.8" y1="100.2" x2="1010.8" y2="723.0" stroke="#000" stroke-width="3.7"/><line x1="998.4" y1="723.0" x2="1388.6" y2="723.0" stroke="#000" stroke-width="5.8"/><line x1="998.4" y1="723.0" x2="1010.8" y2="723.0" stroke="#000" stroke-width="5.4"/><text transform="translate(986.8,733.6) scale(1,1.070)" font-size="29.5" text-anchor="end">0.0000</text><line x1="998.4" y1="585.1" x2="1010.8" y2="585.1" stroke="#000" stroke-width="5.4"/><text transform="translate(986.8,595.7) scale(1,1.070)" font-size="29.5" text-anchor="end">0.0002</text><line x1="998.4" y1="447.2" x2="1010.8" y2="447.2" stroke="#000" stroke-width="5.4"/><text transform="translate(986.8,457.8) scale(1,1.070)" font-size="29.5" text-anchor="end">0.0004</text><line x1="998.4" y1="309.3" x2="1010.8" y2="309.3" stroke="#000" stroke-width="5.4"/><text transform="translate(986.8,319.9) scale(1,1.070)" font-size="29.5" text-anchor="end">0.0006</text><line x1="998.4" y1="171.4" x2="1010.8" y2="171.4" stroke="#000" stroke-width="5.4"/><text transform="translate(986.8,182.0) scale(1,1.070)" font-size="29.5" text-anchor="end">0.0008</text><line x1="1003.8" y1="654.0" x2="1010.8" y2="654.0" stroke="#000" stroke-width="4"/><line x1="1003.8" y1="516.1" x2="1010.8" y2="516.1" stroke="#000" stroke-width="4"/><line x1="1003.8" y1="378.2" x2="1010.8" y2="378.2" stroke="#000" stroke-width="4"/><line x1="1003.8" y1="240.4" x2="1010.8" y2="240.4" stroke="#000" stroke-width="4"/><line x1="1003.8" y1="102.5" x2="1010.8" y2="102.5" stroke="#000" stroke-width="4"/><line x1="1104.5" y1="723.0" x2="1104.5" y2="735.0" stroke="#000" stroke-width="6"/><line x1="1292.0" y1="723.0" x2="1292.0" y2="735.0" stroke="#000" stroke-width="6"/><text transform="translate(1104.5,771.0) scale(1,1.050)" font-size="29.5" text-anchor="middle">WT</text><text transform="translate(1292.0,771.0) scale(1,1.050)" font-size="29.5" text-anchor="middle">KO</text><text transform="translate(1104.2,153.6) scale(1,1.000)" font-size="29.3" text-anchor="middle">(<tspan font-style="italic">n</tspan> = 55)</text><text transform="translate(1291.8,537.0) scale(1,1.000)" font-size="29.3" text-anchor="middle">(<tspan font-style="italic">n</tspan> = 47)</text><line x1="1120.0" y1="100.4" x2="1306.0" y2="100.4" stroke="#000" stroke-width="2.2"/><text transform="translate(1215.1,98.3) scale(1,0.970)" font-size="51" text-anchor="middle" letter-spacing="3.6">***</text><text transform="translate(1438.8,31.2) scale(1,1.050)" font-size="43" font-weight="bold">c</text><text transform="translate(1789.3,43.7) scale(1,1.050)" font-size="29.5" text-anchor="middle">MEF</text><rect x="1658.9" y="641.0" width="74.7" height="81.8" fill="#808080" stroke="#000" stroke-width="2"/><clipPath id="clipc"><rect x="1603.9" y="0" width="372.1" height="719.9"/></clipPath><g clip-path="url(#clipc)"><polygon points="1696.5,198.1 1703.9,205.5 1696.5,212.9 1689.1,205.5" fill="#000"/><polygon points="1693.9,315.7 1701.3,323.1 1693.9,330.5 1686.5,323.1" fill="#000"/><polygon points="1698.5,339.1 1705.9,346.5 1698.5,353.9 1691.1,346.5" fill="#000"/><polygon points="1696.6,485.1 1704.0,492.5 1696.6,499.9 1689.2,492.5" fill="#000"/><polygon points="1696.6,527.2 1704.0,534.6 1696.6,542.0 1689.2,534.6" fill="#000"/><polygon points="1696.7,557.1 1704.1,564.5 1696.7,571.9 1689.3,564.5" fill="#000"/><polygon points="1694.4,616.8 1701.8,624.2 1694.4,631.6 1687.0,624.2" fill="#000"/><polygon points="1697.9,629.0 1705.3,636.4 1697.9,643.8 1690.5,636.4" fill="#000"/><polygon points="1687.3,654.2 1694.7,661.6 1687.3,669.0 1679.9,661.6" fill="#000"/><polygon points="1693.2,654.2 1700.6,661.6 1693.2,669.0 1685.8,661.6" fill="#000"/><polygon points="1700.2,650.4 1707.6,657.8 1700.2,665.2 1692.8,657.8" fill="#000"/><polygon points="1704.2,659.3 1711.6,666.7 1704.2,674.1 1696.8,666.7" fill="#000"/><polygon points="1696.2,673.3 1703.6,680.7 1696.2,688.1 1688.8,680.7" fill="#000"/><polygon points="1719.3,674.0 1726.7,681.4 1719.3,688.8 1711.9,681.4" fill="#000"/><polygon points="1729.4,682.6 1736.8,690.0 1729.4,697.4 1722.0,690.0" fill="#000"/><polygon points="1725.9,685.0 1733.3,692.4 1725.9,699.8 1718.5,692.4" fill="#000"/><polygon points="1665.2,684.5 1672.6,691.9 1665.2,699.3 1657.8,691.9" fill="#000"/><polygon points="1692.0,693.9 1699.4,701.3 1692.0,708.7 1684.6,701.3" fill="#000"/><polygon points="1715.4,694.3 1722.8,701.7 1715.4,709.1 1708.0,701.7" fill="#000"/><polygon points="1723.5,699.0 1730.9,706.4 1723.5,713.8 1716.1,706.4" fill="#000"/><polygon points="1660.5,706.0 1667.9,713.4 1660.5,720.8 1653.1,713.4" fill="#000"/><polygon points="1673.3,706.0 1680.7,713.4 1673.3,720.8 1665.9,713.4" fill="#000"/><polygon points="1685.0,706.0 1692.4,713.4 1685.0,720.8 1677.6,713.4" fill="#000"/><polygon points="1696.7,706.0 1704.1,713.4 1696.7,720.8 1689.3,713.4" fill="#000"/><polygon points="1707.2,706.0 1714.6,713.4 1707.2,720.8 1699.8,713.4" fill="#000"/><polygon points="1711.9,706.0 1719.3,713.4 1711.9,720.8 1704.5,713.4" fill="#000"/><polygon points="1708.4,701.3 1715.8,708.7 1708.4,716.1 1701.0,708.7" fill="#000"/><polygon points="1847.1,683.6 1854.5,691.0 1847.1,698.4 1839.7,691.0" fill="#ff0000"/><polygon points="1875.3,690.8 1882.7,698.2 1875.3,705.6 1867.9,698.2" fill="#ff0000"/><polygon points="1886.0,703.3 1893.4,710.7 1886.0,718.1 1878.6,710.7" fill="#ff0000"/><polygon points="1846.4,706.1 1853.8,713.5 1846.4,720.9 1839.0,713.5" fill="#ff0000"/><polygon points="1844.6,707.2 1852.0,714.6 1844.6,722.0 1837.2,714.6" fill="#ff0000"/><polygon points="1849.3,707.2 1856.7,714.6 1849.3,722.0 1841.9,714.6" fill="#ff0000"/><polygon points="1855.3,711.2 1862.7,718.6 1855.3,726.0 1847.9,718.6" fill="#ff0000"/><polygon points="1858.5,712.2 1865.9,719.6 1858.5,727.0 1851.1,719.6" fill="#ff0000"/><polygon points="1867.1,712.2 1874.5,719.6 1867.1,727.0 1859.7,719.6" fill="#ff0000"/><polygon points="1872.8,706.1 1880.2,713.5 1872.8,720.9 1865.4,713.5" fill="#ff0000"/><polygon points="1878.0,708.6 1885.4,716.0 1878.0,723.4 1870.6,716.0" fill="#ff0000"/><polygon points="1893.0,706.6 1900.4,714.0 1893.0,721.4 1885.6,714.0" fill="#ff0000"/><polygon points="1901.3,706.5 1908.7,713.9 1901.3,721.3 1893.9,713.9" fill="#ff0000"/><polygon points="1908.0,710.6 1915.4,718.0 1908.0,725.4 1900.6,718.0" fill="#ff0000"/><polygon points="1912.0,715.1 1919.4,722.5 1912.0,729.9 1904.6,722.5" fill="#ff0000"/><polygon points="1916.3,716.9 1923.7,724.3 1916.3,731.7 1908.9,724.3" fill="#ff0000"/><polygon points="1862.0,708.6 1869.4,716.0 1862.0,723.4 1854.6,716.0" fill="#ff0000"/><polygon points="1884.0,711.6 1891.4,719.0 1884.0,726.4 1876.6,719.0" fill="#ff0000"/><polygon points="1896.0,711.6 1903.4,719.0 1896.0,726.4 1888.6,719.0" fill="#ff0000"/></g><line x1="1696.7" y1="641.0" x2="1696.7" y2="565.9" stroke="#000" stroke-width="4.3"/><line x1="1676.3" y1="565.9" x2="1717.1" y2="565.9" stroke="#000" stroke-width="4.3" stroke-linecap="round"/><line x1="1880.6" y1="708.9" x2="1880.6" y2="708.9" stroke="#000" stroke-width="4.3"/><line x1="1860.3" y1="708.9" x2="1900.9" y2="708.9" stroke="#000" stroke-width="4.3" stroke-linecap="round"/><line x1="1603.9" y1="110.0" x2="1603.9" y2="722.8" stroke="#000" stroke-width="3.7"/><line x1="1592.0" y1="722.8" x2="1976.0" y2="722.8" stroke="#000" stroke-width="5.8"/><line x1="1591.5" y1="722.8" x2="1603.9" y2="722.8" stroke="#000" stroke-width="5.4"/><text transform="translate(1579.9,733.4) scale(1,1.070)" font-size="29.5" text-anchor="end">0.0000</text><line x1="1591.5" y1="621.1" x2="1603.9" y2="621.1" stroke="#000" stroke-width="5.4"/><text transform="translate(1579.9,631.7) scale(1,1.070)" font-size="29.5" text-anchor="end">0.0005</text><line x1="1591.5" y1="519.4" x2="1603.9" y2="519.4" stroke="#000" stroke-width="5.4"/><text transform="translate(1579.9,530.0) scale(1,1.070)" font-size="29.5" text-anchor="end">0.0010</text><line x1="1591.5" y1="417.8" x2="1603.9" y2="417.8" stroke="#000" stroke-width="5.4"/><text transform="translate(1579.9,428.4) scale(1,1.070)" font-size="29.5" text-anchor="end">0.0015</text><line x1="1591.5" y1="316.1" x2="1603.9" y2="316.1" stroke="#000" stroke-width="5.4"/><text transform="translate(1579.9,326.7) scale(1,1.070)" font-size="29.5" text-anchor="end">0.0020</text><line x1="1591.5" y1="214.4" x2="1603.9" y2="214.4" stroke="#000" stroke-width="5.4"/><text transform="translate(1579.9,225.0) scale(1,1.070)" font-size="29.5" text-anchor="end">0.0025</text><line x1="1591.5" y1="112.7" x2="1603.9" y2="112.7" stroke="#000" stroke-width="5.4"/><text transform="translate(1579.9,123.3) scale(1,1.070)" font-size="29.5" text-anchor="end">0.0030</text><line x1="1596.9" y1="672.0" x2="1603.9" y2="672.0" stroke="#000" stroke-width="4"/><line x1="1596.9" y1="570.3" x2="1603.9" y2="570.3" stroke="#000" stroke-width="4"/><line x1="1596.9" y1="468.6" x2="1603.9" y2="468.6" stroke="#000" stroke-width="4"/><line x1="1596.9" y1="366.9" x2="1603.9" y2="366.9" stroke="#000" stroke-width="4"/><line x1="1596.9" y1="265.2" x2="1603.9" y2="265.2" stroke="#000" stroke-width="4"/><line x1="1596.9" y1="163.6" x2="1603.9" y2="163.6" stroke="#000" stroke-width="4"/><line x1="1696.6" y1="722.8" x2="1696.6" y2="734.8" stroke="#000" stroke-width="6"/><line x1="1880.8" y1="722.8" x2="1880.8" y2="734.8" stroke="#000" stroke-width="6"/><text transform="translate(1696.6,771.0) scale(1,1.050)" font-size="29.5" text-anchor="middle">WT</text><text transform="translate(1880.8,771.0) scale(1,1.050)" font-size="29.5" text-anchor="middle">KO</text><text transform="translate(1696.0,177.4) scale(1,1.000)" font-size="29.3" text-anchor="middle">(<tspan font-style="italic">n</tspan> = 32)</text><text transform="translate(1880.6,653.2) scale(1,1.000)" font-size="29.3" text-anchor="middle">(<tspan font-style="italic">n</tspan> = 34)</text><line x1="1706.8" y1="125.0" x2="1893.0" y2="125.0" stroke="#000" stroke-width="2.2"/><text transform="translate(1802.0,121.0) scale(1,0.970)" font-size="51" text-anchor="middle" letter-spacing="3.6">***</text><text transform="translate(868.0,412.1) rotate(-90) scale(1,1.050)" font-size="29.5" text-anchor="middle">No. of events/sq. &#181;m/s</text><text transform="translate(1461.1,417.2) rotate(-90) scale(1,1.050)" font-size="29.5" text-anchor="middle">No. of events/sq. &#181;m/s</text></svg></body></html>
